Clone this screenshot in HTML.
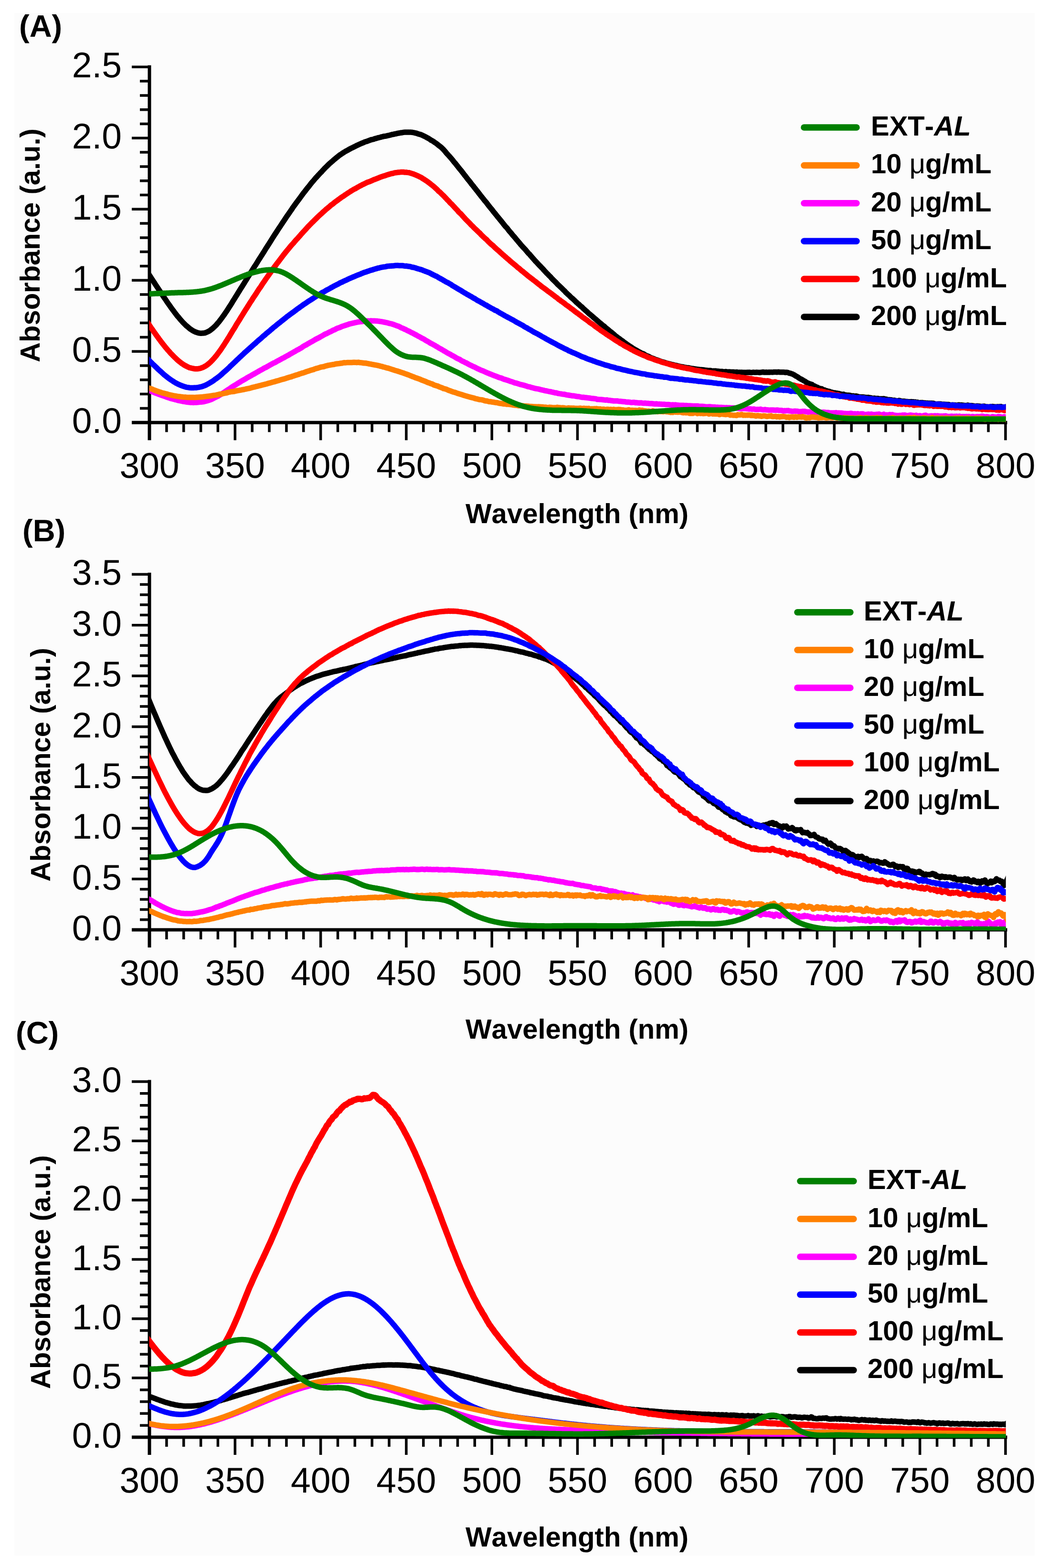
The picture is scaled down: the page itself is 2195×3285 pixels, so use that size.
<!DOCTYPE html>
<html lang="en"><head><meta charset="utf-8"><title>UV-Vis absorbance spectra</title>
<style>html,body{margin:0;padding:0;background:#fff}body{width:2195px;height:3285px;overflow:hidden}svg{display:block;font-family:"Liberation Sans",sans-serif;font-kerning:none;text-rendering:geometricPrecision}.mu{font-weight:normal}</style></head><body>
<svg width="2195" height="3285" viewBox="0 0 2195 3285">
<rect width="2195" height="3285" fill="#fff"/>
<rect x="30" y="27" width="2137" height="3232" fill="#fcfcfc"/>
<defs>
<clipPath id="clipA"><rect x="312.5" y="120.30000000000001" width="1794.2" height="766.4000000000001"/></clipPath>
<clipPath id="clipB"><rect x="312.5" y="1183.3" width="1794.2" height="766.2"/></clipPath>
<clipPath id="clipC"><rect x="312.5" y="2246.0" width="1794.2" height="766.5"/></clipPath>
</defs>
<g id="panelA">
<g stroke="#000" stroke-width="7" fill="none" stroke-linecap="butt">
<path d="M313.0,136.8V922.2"/>
<path d="M276.0,885.2H2109.5"/>
<path d="M293.0,855.4H313.0M293.0,825.6H313.0M293.0,795.8H313.0M293.0,766.0H313.0M276.0,736.2H313.0M293.0,706.4H313.0M293.0,676.6H313.0M293.0,646.8H313.0M293.0,617.0H313.0M276.0,587.2H313.0M293.0,557.4H313.0M293.0,527.6H313.0M293.0,497.9H313.0M293.0,468.1H313.0M276.0,438.3H313.0M293.0,408.5H313.0M293.0,378.7H313.0M293.0,348.9H313.0M293.0,319.1H313.0M276.0,289.3H313.0M293.0,259.5H313.0M293.0,229.7H313.0M293.0,199.9H313.0M293.0,170.1H313.0M276.0,140.3H313.0M348.9,885.2V905.2M384.7,885.2V905.2M420.6,885.2V905.2M456.4,885.2V905.2M492.3,885.2V922.2M528.2,885.2V905.2M564.0,885.2V905.2M599.9,885.2V905.2M635.7,885.2V905.2M671.6,885.2V922.2M707.5,885.2V905.2M743.3,885.2V905.2M779.2,885.2V905.2M815.0,885.2V905.2M850.9,885.2V922.2M886.8,885.2V905.2M922.6,885.2V905.2M958.5,885.2V905.2M994.3,885.2V905.2M1030.2,885.2V922.2M1066.1,885.2V905.2M1101.9,885.2V905.2M1137.8,885.2V905.2M1173.6,885.2V905.2M1209.5,885.2V922.2M1245.4,885.2V905.2M1281.2,885.2V905.2M1317.1,885.2V905.2M1352.9,885.2V905.2M1388.8,885.2V922.2M1424.7,885.2V905.2M1460.5,885.2V905.2M1496.4,885.2V905.2M1532.2,885.2V905.2M1568.1,885.2V922.2M1604.0,885.2V905.2M1639.8,885.2V905.2M1675.7,885.2V905.2M1711.5,885.2V905.2M1747.4,885.2V922.2M1783.3,885.2V905.2M1819.1,885.2V905.2M1855.0,885.2V905.2M1890.8,885.2V905.2M1926.7,885.2V922.2M1962.6,885.2V905.2M1998.4,885.2V905.2M2034.3,885.2V905.2M2070.1,885.2V905.2M2106.0,885.2V922.2" stroke-width="5.5"/>
</g>
<g fill="none" stroke-width="11.5" stroke-linejoin="round" stroke-linecap="butt" clip-path="url(#clipA)">
<path d="M305.0,564.7 313.0,576.7 315.0,579.7 317.0,582.8 319.0,585.9 321.0,588.9 323.0,591.9 325.0,595.1 327.0,598.1 329.0,601.1 331.0,604.1 333.0,607.1 335.0,610.1 337.0,613.2 339.0,616.2 341.0,619.2 343.0,622.2 345.0,625.2 347.0,628.0 349.0,631.1 351.0,634.1 353.0,636.8 355.0,639.6 357.0,642.5 359.0,645.4 361.0,648.1 363.0,650.7 365.0,653.5 367.0,656.2 369.0,658.8 371.0,661.3 373.0,663.7 375.0,665.9 377.0,668.5 379.0,670.8 381.0,673.0 383.0,675.3 385.0,677.3 387.0,679.3 389.0,681.3 391.0,683.0 393.0,684.7 395.0,686.4 397.0,688.1 399.0,689.6 401.0,690.9 403.0,692.3 405.0,693.4 407.0,694.3 409.0,695.3 411.0,696.1 413.0,696.7 415.0,697.4 417.0,697.8 419.0,698.1 421.0,698.3 423.0,698.1 425.0,698.0 427.0,697.8 429.0,697.5 431.0,696.8 433.0,696.0 435.0,695.1 437.0,694.1 439.0,693.0 441.0,691.4 443.0,689.8 445.0,688.3 447.0,686.6 449.0,684.7 451.0,682.8 453.0,680.7 455.0,678.3 457.0,676.0 459.0,673.7 461.0,671.0 463.0,668.3 465.0,665.7 467.0,662.9 469.0,660.2 471.0,657.2 473.0,654.3 475.0,651.4 477.0,648.2 479.0,645.1 481.0,641.9 483.0,639.0 485.0,635.8 487.0,632.3 489.0,629.1 491.0,626.0 493.0,622.7 495.0,619.6 497.0,616.4 499.0,613.1 501.0,609.9 503.0,606.6 505.0,603.4 507.0,600.3 509.0,597.2 511.0,594.0 513.0,590.6 515.0,587.5 517.0,584.2 519.0,580.8 521.0,577.8 523.0,574.7 525.0,571.4 527.0,568.3 529.0,565.0 531.0,561.8 533.0,558.6 535.0,555.7 537.0,552.5 539.0,549.3 541.0,545.9 543.0,542.7 545.0,539.7 547.0,536.5 549.0,533.5 551.0,530.2 553.0,527.2 555.0,523.8 557.0,520.5 559.0,517.6 561.0,514.4 563.0,511.3 565.0,508.2 567.0,504.9 569.0,501.7 571.0,498.5 573.0,495.4 575.0,492.2 577.0,489.2 579.0,486.2 581.0,483.1 583.0,480.0 585.0,477.1 587.0,474.1 589.0,471.0 591.0,468.0 593.0,464.9 595.0,462.0 597.0,459.0 599.0,455.9 601.0,452.9 603.0,450.1 605.0,447.2 607.0,444.4 609.0,441.4 611.0,438.6 613.0,435.4 615.0,432.7 617.0,429.9 619.0,427.1 621.0,424.3 623.0,421.7 625.0,419.1 627.0,416.3 629.0,413.6 631.0,410.9 633.0,408.1 635.0,405.3 637.0,402.9 639.0,400.4 641.0,397.6 643.0,395.1 645.0,392.6 647.0,390.4 649.0,387.7 651.0,385.1 653.0,382.5 655.0,380.2 657.0,378.0 659.0,375.5 661.0,373.1 663.0,371.1 665.0,368.9 667.0,366.7 669.0,364.5 671.0,362.3 673.0,360.5 675.0,358.1 677.0,356.0 679.0,353.8 681.0,351.7 683.0,349.7 685.0,347.9 687.0,345.9 689.0,343.9 691.0,342.0 693.0,340.4 695.0,338.7 697.0,336.9 699.0,335.1 701.0,333.4 703.0,331.8 705.0,330.1 707.0,328.6 709.0,326.9 711.0,325.4 713.0,323.8 715.0,322.8 717.0,321.2 719.0,320.0 721.0,318.8 723.0,317.5 725.0,316.4 727.0,315.4 729.0,314.2 731.0,313.0 733.0,312.0 735.0,310.9 737.0,309.9 739.0,309.0 741.0,308.0 743.0,307.1 745.0,306.0 747.0,304.9 749.0,304.1 751.0,303.1 753.0,302.2 755.0,301.3 757.0,300.4 759.0,299.6 761.0,298.8 763.0,297.8 765.0,297.1 767.0,296.5 769.0,295.9 771.0,295.0 773.0,294.4 775.0,293.6 777.0,292.8 779.0,292.5 781.0,292.0 783.0,291.4 785.0,290.5 787.0,290.1 789.0,289.6 791.0,288.9 793.0,288.5 795.0,288.0 797.0,287.5 799.0,286.8 801.0,286.4 803.0,285.9 805.0,285.4 807.0,285.2 809.0,284.9 811.0,284.3 813.0,283.9 815.0,283.6 817.0,283.0 819.0,282.4 821.0,281.8 823.0,281.6 825.0,281.1 827.0,280.6 829.0,280.3 831.0,279.9 833.0,279.2 835.0,279.0 837.0,278.6 839.0,278.3 841.0,278.0 843.0,277.7 845.0,277.3 847.0,277.1 849.0,277.0 851.0,276.9 853.0,276.9 855.0,277.0 857.0,276.9 859.0,277.1 861.0,277.1 863.0,277.3 865.0,277.6 867.0,277.9 869.0,278.5 871.0,278.9 873.0,279.4 875.0,280.2 877.0,280.9 879.0,281.3 881.0,281.8 883.0,282.7 885.0,283.7 887.0,284.7 889.0,285.5 891.0,286.4 893.0,287.6 895.0,288.8 897.0,289.7 899.0,291.0 901.0,292.3 903.0,293.8 905.0,294.7 907.0,295.9 909.0,297.3 911.0,298.7 913.0,300.0 915.0,301.5 917.0,303.1 919.0,304.8 921.0,306.2 923.0,307.8 925.0,309.6 927.0,311.4 929.0,313.5 931.0,315.8 933.0,318.1 935.0,320.6 937.0,322.8 939.0,325.0 941.0,327.3 943.0,329.4 945.0,331.7 947.0,334.1 949.0,336.6 951.0,339.3 953.0,341.5 955.0,343.9 957.0,346.5 959.0,349.1 961.0,351.6 963.0,354.1 965.0,356.4 967.0,358.9 969.0,361.5 971.0,364.2 973.0,366.9 975.0,369.1 977.0,371.8 979.0,374.4 981.0,377.0 983.0,379.3 985.0,381.8 987.0,384.7 989.0,387.1 991.0,389.4 993.0,392.2 995.0,394.6 997.0,397.2 999.0,399.7 1001.0,402.1 1003.0,404.9 1005.0,407.4 1007.0,410.1 1009.0,412.5 1011.0,415.0 1013.0,417.6 1015.0,420.2 1017.0,422.4 1019.0,424.8 1021.0,427.4 1023.0,430.2 1025.0,432.7 1027.0,435.1 1029.0,437.5 1031.0,439.9 1033.0,442.7 1035.0,445.1 1037.0,447.5 1039.0,450.0 1041.0,452.6 1043.0,455.0 1045.0,457.4 1047.0,459.9 1049.0,462.3 1051.0,464.7 1053.0,467.3 1055.0,469.8 1057.0,472.3 1059.0,474.8 1061.0,476.8 1063.0,479.1 1065.0,481.8 1067.0,484.4 1069.0,486.6 1071.0,488.8 1073.0,491.6 1075.0,493.9 1077.0,496.0 1079.0,498.4 1081.0,500.9 1083.0,503.2 1085.0,505.6 1087.0,508.0 1089.0,510.3 1091.0,512.8 1093.0,515.0 1095.0,517.4 1097.0,519.4 1099.0,521.5 1101.0,523.7 1103.0,526.1 1105.0,528.6 1107.0,530.9 1109.0,532.6 1111.0,535.2 1113.0,537.4 1115.0,539.8 1117.0,541.9 1119.0,544.2 1121.0,546.6 1123.0,548.6 1125.0,550.7 1127.0,553.0 1129.0,555.1 1131.0,557.1 1133.0,559.1 1135.0,561.3 1137.0,563.3 1139.0,565.7 1141.0,567.9 1143.0,570.0 1145.0,572.2 1147.0,574.0 1149.0,576.2 1151.0,578.2 1153.0,580.1 1155.0,582.4 1157.0,584.6 1159.0,586.6 1161.0,588.5 1163.0,590.5 1165.0,592.4 1167.0,594.7 1169.0,596.8 1171.0,598.6 1173.0,600.4 1175.0,602.3 1177.0,604.3 1179.0,606.3 1181.0,608.3 1183.0,610.1 1185.0,612.4 1187.0,614.2 1189.0,616.2 1191.0,618.0 1193.0,619.8 1195.0,622.0 1197.0,623.8 1199.0,625.3 1201.0,627.3 1203.0,629.1 1205.0,631.0 1207.0,633.2 1209.0,634.7 1211.0,636.7 1213.0,638.2 1215.0,640.3 1217.0,641.9 1219.0,643.4 1221.0,645.6 1223.0,647.4 1225.0,649.1 1227.0,651.0 1229.0,652.5 1231.0,654.6 1233.0,656.4 1235.0,658.2 1237.0,659.7 1239.0,661.5 1241.0,663.1 1243.0,665.0 1245.0,666.7 1247.0,668.4 1249.0,669.9 1251.0,671.8 1253.0,673.5 1255.0,675.4 1257.0,676.8 1259.0,678.5 1261.0,680.3 1263.0,681.9 1265.0,683.1 1267.0,685.1 1269.0,687.0 1271.0,688.5 1273.0,689.9 1275.0,691.7 1277.0,693.5 1279.0,695.0 1281.0,696.7 1283.0,698.2 1285.0,700.0 1287.0,701.7 1289.0,703.6 1291.0,705.0 1293.0,706.6 1295.0,708.0 1297.0,709.3 1299.0,710.9 1301.0,712.6 1303.0,713.8 1305.0,715.2 1307.0,717.0 1309.0,718.3 1311.0,719.7 1313.0,721.4 1315.0,722.5 1317.0,724.0 1319.0,725.3 1321.0,726.6 1323.0,727.9 1325.0,729.4 1327.0,730.6 1329.0,731.6 1331.0,733.0 1333.0,734.0 1335.0,735.1 1337.0,736.4 1339.0,737.3 1341.0,738.3 1343.0,739.7 1345.0,740.5 1347.0,741.1 1349.0,742.0 1351.0,743.5 1353.0,744.6 1355.0,745.7 1357.0,746.2 1359.0,747.0 1361.0,748.2 1363.0,749.3 1365.0,750.1 1367.0,750.7 1369.0,751.4 1371.0,752.3 1373.0,753.3 1375.0,753.8 1377.0,754.4 1379.0,755.3 1381.0,756.0 1383.0,756.7 1385.0,757.7 1387.0,758.1 1389.0,758.6 1391.0,759.1 1393.0,759.8 1395.0,760.5 1397.0,761.1 1399.0,761.4 1401.0,762.0 1403.0,762.5 1405.0,763.0 1407.0,763.8 1409.0,764.0 1411.0,764.7 1413.0,765.2 1415.0,765.4 1417.0,765.8 1419.0,766.4 1421.0,767.0 1423.0,767.4 1425.0,767.8 1427.0,768.3 1429.0,768.4 1431.0,768.8 1433.0,769.3 1435.0,769.7 1437.0,770.2 1439.0,770.5 1441.0,770.4 1443.0,770.6 1445.0,771.3 1447.0,771.6 1449.0,771.9 1451.0,772.1 1453.0,772.6 1455.0,772.8 1457.0,773.2 1459.0,773.6 1461.0,773.7 1463.0,773.9 1465.0,774.1 1467.0,774.8 1469.0,774.5 1471.0,774.9 1473.0,774.8 1475.0,775.2 1477.0,775.7 1479.0,775.7 1481.0,776.1 1483.0,776.2 1485.0,776.5 1487.0,776.3 1489.0,776.5 1491.0,777.2 1493.0,777.2 1495.0,777.1 1497.0,777.2 1499.0,777.0 1501.0,777.5 1503.0,777.6 1505.0,777.8 1507.0,778.4 1509.0,778.2 1511.0,778.2 1513.0,778.3 1515.0,778.8 1517.0,778.9 1519.0,778.6 1521.0,778.6 1523.0,778.9 1525.0,779.1 1527.0,778.9 1529.0,779.4 1531.0,779.3 1533.0,779.4 1535.0,779.3 1537.0,779.5 1539.0,779.8 1541.0,779.7 1543.0,779.5 1545.0,779.9 1547.0,780.1 1549.0,780.0 1551.0,780.2 1553.0,779.9 1555.0,780.2 1557.0,780.2 1559.0,780.2 1561.0,780.5 1563.0,780.3 1565.0,780.1 1567.0,780.2 1569.0,780.0 1571.0,780.3 1573.0,780.6 1575.0,780.5 1577.0,780.0 1579.0,780.1 1581.0,780.3 1583.0,780.2 1585.0,779.9 1587.0,780.1 1589.0,780.3 1591.0,780.5 1593.0,780.2 1595.0,779.9 1597.0,779.6 1599.0,779.6 1601.0,780.1 1603.0,779.9 1605.0,779.8 1607.0,780.1 1609.0,780.0 1611.0,779.8 1613.0,779.9 1615.0,779.7 1617.0,779.9 1619.0,779.8 1621.0,779.5 1623.0,779.4 1625.0,779.4 1627.0,779.8 1629.0,779.5 1631.0,779.3 1633.0,779.7 1635.0,779.8 1637.0,779.7 1639.0,779.8 1641.0,779.7 1643.0,779.9 1645.0,780.4 1647.0,780.1 1649.0,780.2 1651.0,780.8 1653.0,781.8 1655.0,782.0 1657.0,782.7 1659.0,783.4 1661.0,784.2 1663.0,785.3 1665.0,786.5 1667.0,788.1 1669.0,788.7 1671.0,790.0 1673.0,791.7 1675.0,792.8 1677.0,793.8 1679.0,795.0 1681.0,796.0 1683.0,797.4 1685.0,798.4 1687.0,799.4 1689.0,801.2 1691.0,802.0 1693.0,803.1 1695.0,803.8 1697.0,804.4 1699.0,805.1 1701.0,805.8 1703.0,807.8 1705.0,808.3 1707.0,809.5 1709.0,810.5 1711.0,811.0 1713.0,812.1 1715.0,813.2 1717.0,813.9 1719.0,814.7 1721.0,814.5 1723.0,816.2 1725.0,817.0 1727.0,817.1 1729.0,818.2 1731.0,818.6 1733.0,819.2 1735.0,819.9 1737.0,820.0 1739.0,821.1 1741.0,821.4 1743.0,822.2 1745.0,822.5 1747.0,823.0 1749.0,823.1 1751.0,823.7 1753.0,823.8 1755.0,824.2 1757.0,824.5 1759.0,825.2 1761.0,825.6 1763.0,826.9 1765.0,826.2 1767.0,826.0 1769.0,827.3 1771.0,827.4 1773.0,827.9 1775.0,828.0 1777.0,828.0 1779.0,828.2 1781.0,828.5 1783.0,829.6 1785.0,829.6 1787.0,829.2 1789.0,830.1 1791.0,830.2 1793.0,829.7 1795.0,830.1 1797.0,830.8 1799.0,831.3 1801.0,831.9 1803.0,831.6 1805.0,831.9 1807.0,831.7 1809.0,831.9 1811.0,832.2 1813.0,832.4 1815.0,832.7 1817.0,832.8 1819.0,832.5 1821.0,833.3 1823.0,833.2 1825.0,834.0 1827.0,834.3 1829.0,834.4 1831.0,834.2 1833.0,834.7 1835.0,835.0 1837.0,834.7 1839.0,834.7 1841.0,835.9 1843.0,835.6 1845.0,835.5 1847.0,835.5 1849.0,835.4 1851.0,835.2 1853.0,835.9 1855.0,836.2 1857.0,836.7 1859.0,837.8 1861.0,837.5 1863.0,837.4 1865.0,837.7 1867.0,837.8 1869.0,838.7 1871.0,838.9 1873.0,838.5 1875.0,839.1 1877.0,839.5 1879.0,840.3 1881.0,839.9 1883.0,839.1 1885.0,839.5 1887.0,840.2 1889.0,840.4 1891.0,840.8 1893.0,840.5 1895.0,840.8 1897.0,841.4 1899.0,841.3 1901.0,841.4 1903.0,842.2 1905.0,841.7 1907.0,841.7 1909.0,841.6 1911.0,842.0 1913.0,841.7 1915.0,842.7 1917.0,842.0 1919.0,842.8 1921.0,842.7 1923.0,843.2 1925.0,843.8 1927.0,843.6 1929.0,843.7 1931.0,843.5 1933.0,843.8 1935.0,844.4 1937.0,844.1 1939.0,844.6 1941.0,844.6 1943.0,844.6 1945.0,845.0 1947.0,844.7 1949.0,845.0 1951.0,844.8 1953.0,845.1 1955.0,845.1 1957.0,845.7 1959.0,846.3 1961.0,846.4 1963.0,846.4 1965.0,846.3 1967.0,846.2 1969.0,846.3 1971.0,846.4 1973.0,847.5 1975.0,847.0 1977.0,847.0 1979.0,847.2 1981.0,847.2 1983.0,847.9 1985.0,847.4 1987.0,847.4 1989.0,848.5 1991.0,848.6 1993.0,848.4 1995.0,848.2 1997.0,848.8 1999.0,848.5 2001.0,848.7 2003.0,849.1 2005.0,848.9 2007.0,848.5 2009.0,848.2 2011.0,849.1 2013.0,848.4 2015.0,848.8 2017.0,848.9 2019.0,849.2 2021.0,849.4 2023.0,849.8 2025.0,849.4 2027.0,848.8 2029.0,849.6 2031.0,849.6 2033.0,849.8 2035.0,849.7 2037.0,850.1 2039.0,850.3 2041.0,850.8 2043.0,850.9 2045.0,850.9 2047.0,850.4 2049.0,851.2 2051.0,850.9 2053.0,851.2 2055.0,851.4 2057.0,851.5 2059.0,851.1 2061.0,850.9 2063.0,851.7 2065.0,852.1 2067.0,852.2 2069.0,852.3 2071.0,852.4 2073.0,852.2 2075.0,851.8 2077.0,852.1 2079.0,851.6 2081.0,851.9 2083.0,852.2 2085.0,852.5 2087.0,852.2 2089.0,852.1 2091.0,852.1 2093.0,852.4 2095.0,851.7 2097.0,851.7 2099.0,853.0 2101.0,853.2 2103.0,853.0 2105.0,852.8 2106.0,852.5 2114.0,850.1" stroke="#000000"/>
<path d="M305.0,669.2 313.0,681.5 315.0,684.5 317.0,687.4 319.0,690.2 321.0,693.0 323.0,695.9 325.0,698.8 327.0,701.6 329.0,704.4 331.0,707.0 333.0,710.0 335.0,712.6 337.0,715.3 339.0,717.8 341.0,720.4 343.0,723.0 345.0,725.6 347.0,728.0 349.0,730.4 351.0,732.8 353.0,735.0 355.0,737.2 357.0,739.6 359.0,741.7 361.0,743.6 363.0,745.8 365.0,747.8 367.0,749.7 369.0,751.6 371.0,753.5 373.0,755.4 375.0,756.9 377.0,758.5 379.0,760.1 381.0,761.6 383.0,762.9 385.0,764.3 387.0,765.5 389.0,766.5 391.0,767.5 393.0,768.6 395.0,769.5 397.0,770.3 399.0,770.7 401.0,771.3 403.0,771.7 405.0,772.1 407.0,772.5 409.0,772.7 411.0,772.7 413.0,772.8 415.0,772.6 417.0,772.2 419.0,771.8 421.0,771.2 423.0,770.4 425.0,769.7 427.0,768.8 429.0,767.5 431.0,766.5 433.0,765.2 435.0,763.7 437.0,762.0 439.0,760.3 441.0,758.5 443.0,756.4 445.0,754.4 447.0,752.2 449.0,749.9 451.0,747.5 453.0,745.2 455.0,742.6 457.0,739.9 459.0,737.2 461.0,734.5 463.0,731.7 465.0,728.5 467.0,725.7 469.0,722.6 471.0,719.5 473.0,716.3 475.0,713.3 477.0,709.9 479.0,706.8 481.0,703.6 483.0,700.1 485.0,696.9 487.0,693.5 489.0,690.4 491.0,687.3 493.0,684.0 495.0,680.3 497.0,677.1 499.0,674.0 501.0,670.9 503.0,667.5 505.0,664.1 507.0,661.0 509.0,657.8 511.0,654.5 513.0,651.3 515.0,648.2 517.0,645.1 519.0,641.9 521.0,638.7 523.0,635.4 525.0,632.4 527.0,629.5 529.0,626.2 531.0,623.1 533.0,620.2 535.0,617.2 537.0,614.3 539.0,611.0 541.0,607.9 543.0,604.8 545.0,602.2 547.0,599.3 549.0,596.0 551.0,593.1 553.0,590.2 555.0,587.2 557.0,584.3 559.0,581.5 561.0,578.7 563.0,575.9 565.0,573.0 567.0,570.3 569.0,567.3 571.0,564.6 573.0,561.6 575.0,558.9 577.0,556.4 579.0,553.6 581.0,551.0 583.0,548.4 585.0,545.8 587.0,543.1 589.0,540.5 591.0,537.8 593.0,535.1 595.0,532.6 597.0,530.1 599.0,527.5 601.0,525.1 603.0,522.8 605.0,520.4 607.0,517.9 609.0,515.4 611.0,513.2 613.0,511.0 615.0,508.8 617.0,506.4 619.0,504.0 621.0,501.7 623.0,499.7 625.0,497.4 627.0,495.3 629.0,493.0 631.0,490.5 633.0,488.4 635.0,486.2 637.0,484.0 639.0,481.8 641.0,479.6 643.0,477.4 645.0,475.1 647.0,473.1 649.0,471.0 651.0,469.0 653.0,466.9 655.0,465.0 657.0,463.1 659.0,461.0 661.0,459.1 663.0,457.1 665.0,455.1 667.0,453.2 669.0,451.3 671.0,449.5 673.0,447.7 675.0,445.9 677.0,443.9 679.0,442.3 681.0,440.4 683.0,438.6 685.0,437.0 687.0,435.3 689.0,433.7 691.0,431.9 693.0,430.2 695.0,428.7 697.0,427.3 699.0,425.6 701.0,423.9 703.0,422.5 705.0,420.9 707.0,419.7 709.0,418.0 711.0,416.7 713.0,415.2 715.0,413.6 717.0,412.4 719.0,411.1 721.0,409.7 723.0,408.3 725.0,407.0 727.0,405.6 729.0,404.3 731.0,403.0 733.0,401.7 735.0,400.4 737.0,399.3 739.0,398.0 741.0,396.7 743.0,395.8 745.0,394.8 747.0,393.6 749.0,392.3 751.0,391.3 753.0,390.2 755.0,389.2 757.0,388.1 759.0,386.9 761.0,386.1 763.0,385.1 765.0,384.1 767.0,383.1 769.0,382.2 771.0,381.4 773.0,380.8 775.0,380.1 777.0,379.1 779.0,378.3 781.0,377.3 783.0,376.3 785.0,375.8 787.0,375.1 789.0,374.2 791.0,373.5 793.0,372.7 795.0,371.8 797.0,370.9 799.0,370.3 801.0,369.6 803.0,368.9 805.0,368.4 807.0,367.8 809.0,366.9 811.0,366.3 813.0,365.7 815.0,365.1 817.0,364.6 819.0,363.9 821.0,363.5 823.0,363.2 825.0,362.6 827.0,362.0 829.0,361.8 831.0,361.6 833.0,361.2 835.0,360.9 837.0,360.9 839.0,360.6 841.0,360.6 843.0,360.6 845.0,360.5 847.0,360.9 849.0,360.9 851.0,361.0 853.0,361.4 855.0,361.6 857.0,361.8 859.0,362.4 861.0,363.1 863.0,363.7 865.0,364.3 867.0,365.0 869.0,365.8 871.0,366.6 873.0,367.6 875.0,368.4 877.0,369.4 879.0,370.4 881.0,371.3 883.0,372.4 885.0,373.9 887.0,375.0 889.0,376.2 891.0,377.6 893.0,378.9 895.0,380.3 897.0,381.7 899.0,383.3 901.0,384.7 903.0,386.5 905.0,388.0 907.0,389.5 909.0,391.3 911.0,393.1 913.0,394.9 915.0,396.6 917.0,398.7 919.0,401.0 921.0,402.3 923.0,404.3 925.0,406.3 927.0,408.2 929.0,410.0 931.0,412.1 933.0,414.3 935.0,416.4 937.0,418.6 939.0,420.5 941.0,422.7 943.0,425.1 945.0,426.8 947.0,428.8 949.0,431.0 951.0,433.2 953.0,435.4 955.0,437.5 957.0,439.5 959.0,441.8 961.0,444.3 963.0,446.2 965.0,447.8 967.0,450.1 969.0,452.3 971.0,454.6 973.0,456.7 975.0,459.0 977.0,461.0 979.0,463.0 981.0,465.0 983.0,467.0 985.0,469.1 987.0,471.3 989.0,473.2 991.0,475.1 993.0,477.3 995.0,479.2 997.0,481.0 999.0,482.9 1001.0,484.9 1003.0,486.8 1005.0,488.5 1007.0,490.9 1009.0,492.9 1011.0,494.7 1013.0,496.8 1015.0,498.6 1017.0,500.4 1019.0,501.9 1021.0,504.1 1023.0,506.2 1025.0,508.2 1027.0,510.1 1029.0,511.8 1031.0,513.3 1033.0,515.0 1035.0,517.1 1037.0,519.0 1039.0,520.9 1041.0,522.6 1043.0,524.3 1045.0,525.9 1047.0,527.9 1049.0,529.7 1051.0,531.5 1053.0,533.3 1055.0,535.0 1057.0,536.8 1059.0,538.5 1061.0,540.4 1063.0,542.1 1065.0,543.6 1067.0,545.4 1069.0,547.4 1071.0,548.9 1073.0,550.7 1075.0,552.3 1077.0,553.9 1079.0,555.5 1081.0,557.3 1083.0,559.1 1085.0,560.8 1087.0,562.2 1089.0,563.9 1091.0,565.7 1093.0,567.5 1095.0,568.7 1097.0,570.6 1099.0,572.2 1101.0,573.9 1103.0,575.4 1105.0,577.2 1107.0,578.9 1109.0,580.3 1111.0,581.9 1113.0,583.4 1115.0,584.8 1117.0,586.5 1119.0,588.0 1121.0,589.5 1123.0,591.1 1125.0,592.7 1127.0,594.3 1129.0,595.8 1131.0,597.3 1133.0,599.1 1135.0,600.6 1137.0,602.1 1139.0,603.5 1141.0,604.9 1143.0,606.4 1145.0,607.9 1147.0,609.6 1149.0,611.0 1151.0,612.3 1153.0,613.9 1155.0,615.3 1157.0,616.9 1159.0,618.3 1161.0,619.8 1163.0,621.5 1165.0,622.9 1167.0,624.3 1169.0,626.1 1171.0,627.8 1173.0,628.9 1175.0,630.7 1177.0,631.9 1179.0,633.3 1181.0,634.8 1183.0,636.2 1185.0,638.1 1187.0,639.5 1189.0,640.8 1191.0,642.2 1193.0,643.6 1195.0,645.3 1197.0,646.9 1199.0,648.1 1201.0,649.7 1203.0,651.3 1205.0,653.0 1207.0,654.5 1209.0,655.7 1211.0,657.1 1213.0,658.8 1215.0,660.2 1217.0,661.7 1219.0,663.4 1221.0,665.0 1223.0,666.3 1225.0,667.7 1227.0,669.2 1229.0,670.3 1231.0,672.0 1233.0,673.5 1235.0,675.4 1237.0,676.7 1239.0,678.0 1241.0,679.3 1243.0,680.5 1245.0,682.5 1247.0,684.1 1249.0,685.2 1251.0,686.8 1253.0,688.2 1255.0,689.4 1257.0,691.1 1259.0,692.7 1261.0,693.9 1263.0,695.2 1265.0,696.7 1267.0,697.8 1269.0,699.4 1271.0,700.9 1273.0,702.0 1275.0,703.5 1277.0,704.7 1279.0,705.8 1281.0,707.3 1283.0,708.6 1285.0,710.0 1287.0,711.2 1289.0,712.8 1291.0,713.8 1293.0,715.2 1295.0,716.3 1297.0,717.6 1299.0,719.1 1301.0,720.2 1303.0,721.2 1305.0,722.3 1307.0,723.9 1309.0,725.0 1311.0,726.0 1313.0,727.1 1315.0,728.0 1317.0,729.1 1319.0,730.3 1321.0,731.5 1323.0,732.6 1325.0,733.5 1327.0,734.8 1329.0,735.8 1331.0,736.7 1333.0,737.8 1335.0,738.6 1337.0,739.5 1339.0,740.5 1341.0,741.4 1343.0,742.4 1345.0,743.0 1347.0,744.2 1349.0,744.8 1351.0,745.6 1353.0,746.4 1355.0,747.5 1357.0,748.5 1359.0,749.3 1361.0,749.9 1363.0,750.3 1365.0,751.1 1367.0,751.9 1369.0,752.6 1371.0,753.6 1373.0,754.2 1375.0,754.9 1377.0,755.6 1379.0,756.0 1381.0,756.6 1383.0,757.3 1385.0,758.2 1387.0,758.9 1389.0,759.5 1391.0,760.1 1393.0,760.4 1395.0,761.0 1397.0,761.7 1399.0,762.1 1401.0,762.8 1403.0,763.6 1405.0,764.2 1407.0,764.7 1409.0,765.0 1411.0,765.5 1413.0,766.2 1415.0,766.5 1417.0,767.1 1419.0,767.7 1421.0,767.9 1423.0,768.3 1425.0,768.9 1427.0,769.5 1429.0,769.9 1431.0,770.3 1433.0,770.8 1435.0,770.8 1437.0,771.4 1439.0,772.0 1441.0,772.2 1443.0,772.5 1445.0,772.9 1447.0,773.4 1449.0,773.9 1451.0,774.3 1453.0,774.9 1455.0,775.5 1457.0,775.7 1459.0,776.2 1461.0,776.4 1463.0,776.5 1465.0,777.0 1467.0,777.3 1469.0,777.9 1471.0,778.1 1473.0,778.8 1475.0,779.0 1477.0,778.9 1479.0,779.7 1481.0,780.2 1483.0,780.2 1485.0,780.7 1487.0,780.7 1489.0,781.2 1491.0,781.3 1493.0,781.9 1495.0,781.8 1497.0,782.0 1499.0,782.9 1501.0,783.6 1503.0,783.5 1505.0,784.0 1507.0,784.2 1509.0,784.4 1511.0,784.9 1513.0,785.3 1515.0,785.2 1517.0,785.7 1519.0,786.0 1521.0,786.0 1523.0,786.9 1525.0,787.3 1527.0,787.1 1529.0,787.8 1531.0,787.8 1533.0,788.0 1535.0,788.6 1537.0,788.7 1539.0,789.0 1541.0,789.6 1543.0,789.9 1545.0,789.9 1547.0,789.6 1549.0,789.9 1551.0,790.7 1553.0,790.7 1555.0,791.0 1557.0,791.1 1559.0,791.5 1561.0,791.7 1563.0,792.5 1565.0,792.3 1567.0,792.7 1569.0,793.1 1571.0,793.6 1573.0,793.3 1575.0,793.8 1577.0,794.2 1579.0,794.6 1581.0,794.9 1583.0,794.9 1585.0,795.3 1587.0,795.5 1589.0,796.0 1591.0,796.1 1593.0,796.3 1595.0,796.7 1597.0,797.3 1599.0,798.0 1601.0,797.6 1603.0,798.1 1605.0,798.6 1607.0,797.8 1609.0,798.0 1611.0,798.6 1613.0,799.5 1615.0,800.6 1617.0,800.4 1619.0,800.7 1621.0,800.5 1623.0,799.9 1625.0,800.3 1627.0,801.8 1629.0,801.9 1631.0,801.8 1633.0,802.7 1635.0,802.5 1637.0,803.6 1639.0,804.1 1641.0,803.6 1643.0,803.8 1645.0,804.7 1647.0,804.6 1649.0,805.3 1651.0,805.2 1653.0,806.1 1655.0,806.3 1657.0,806.4 1659.0,806.6 1661.0,807.2 1663.0,806.9 1665.0,807.8 1667.0,808.3 1669.0,809.0 1671.0,808.9 1673.0,810.2 1675.0,809.9 1677.0,810.0 1679.0,811.4 1681.0,812.0 1683.0,811.6 1685.0,811.6 1687.0,812.3 1689.0,812.5 1691.0,813.2 1693.0,814.4 1695.0,814.5 1697.0,814.7 1699.0,815.2 1701.0,815.5 1703.0,816.4 1705.0,816.8 1707.0,816.7 1709.0,817.5 1711.0,818.9 1713.0,818.6 1715.0,818.8 1717.0,820.0 1719.0,819.6 1721.0,819.6 1723.0,820.6 1725.0,820.6 1727.0,821.1 1729.0,822.0 1731.0,822.2 1733.0,822.4 1735.0,822.9 1737.0,823.5 1739.0,824.6 1741.0,824.4 1743.0,825.0 1745.0,826.4 1747.0,826.2 1749.0,827.3 1751.0,827.7 1753.0,827.4 1755.0,827.3 1757.0,828.5 1759.0,829.2 1761.0,829.7 1763.0,829.9 1765.0,830.8 1767.0,831.2 1769.0,830.8 1771.0,832.0 1773.0,832.0 1775.0,832.0 1777.0,832.6 1779.0,834.0 1781.0,833.9 1783.0,833.2 1785.0,834.1 1787.0,834.6 1789.0,834.9 1791.0,835.0 1793.0,835.2 1795.0,836.3 1797.0,836.1 1799.0,836.5 1801.0,836.8 1803.0,837.2 1805.0,838.2 1807.0,838.4 1809.0,838.1 1811.0,838.3 1813.0,838.9 1815.0,839.8 1817.0,839.8 1819.0,840.0 1821.0,840.1 1823.0,840.4 1825.0,840.6 1827.0,840.3 1829.0,841.7 1831.0,841.2 1833.0,841.5 1835.0,842.5 1837.0,842.4 1839.0,842.3 1841.0,842.1 1843.0,842.0 1845.0,843.0 1847.0,843.6 1849.0,843.2 1851.0,843.9 1853.0,843.3 1855.0,843.5 1857.0,844.2 1859.0,844.3 1861.0,844.6 1863.0,844.2 1865.0,844.0 1867.0,843.8 1869.0,844.2 1871.0,844.4 1873.0,844.5 1875.0,845.3 1877.0,845.1 1879.0,845.0 1881.0,846.7 1883.0,845.7 1885.0,845.5 1887.0,846.7 1889.0,846.9 1891.0,845.9 1893.0,845.7 1895.0,846.2 1897.0,847.2 1899.0,846.8 1901.0,846.6 1903.0,847.2 1905.0,847.7 1907.0,846.8 1909.0,847.0 1911.0,847.1 1913.0,848.7 1915.0,849.0 1917.0,848.5 1919.0,848.2 1921.0,848.3 1923.0,847.4 1925.0,848.2 1927.0,847.8 1929.0,847.8 1931.0,848.3 1933.0,848.7 1935.0,849.3 1937.0,849.5 1939.0,849.4 1941.0,849.0 1943.0,849.7 1945.0,849.8 1947.0,850.2 1949.0,849.3 1951.0,848.6 1953.0,849.9 1955.0,851.3 1957.0,850.8 1959.0,850.6 1961.0,851.1 1963.0,851.2 1965.0,851.2 1967.0,850.9 1969.0,851.2 1971.0,851.4 1973.0,851.1 1975.0,851.1 1977.0,851.8 1979.0,852.4 1981.0,852.5 1983.0,852.5 1985.0,852.9 1987.0,853.7 1989.0,853.1 1991.0,853.4 1993.0,853.9 1995.0,853.3 1997.0,853.4 1999.0,854.0 2001.0,854.3 2003.0,853.9 2005.0,853.9 2007.0,853.8 2009.0,853.5 2011.0,854.5 2013.0,854.1 2015.0,853.6 2017.0,854.1 2019.0,853.7 2021.0,854.1 2023.0,854.7 2025.0,854.7 2027.0,855.4 2029.0,854.8 2031.0,855.5 2033.0,856.0 2035.0,856.5 2037.0,856.4 2039.0,856.1 2041.0,856.1 2043.0,856.3 2045.0,856.7 2047.0,856.3 2049.0,856.7 2051.0,856.7 2053.0,856.8 2055.0,857.0 2057.0,857.9 2059.0,857.0 2061.0,857.3 2063.0,857.5 2065.0,857.8 2067.0,857.8 2069.0,858.0 2071.0,858.1 2073.0,857.2 2075.0,857.7 2077.0,857.5 2079.0,858.0 2081.0,857.6 2083.0,857.7 2085.0,858.4 2087.0,859.1 2089.0,859.0 2091.0,858.9 2093.0,859.3 2095.0,858.3 2097.0,857.8 2099.0,858.5 2101.0,858.9 2103.0,859.8 2105.0,860.1 2106.0,858.8 2114.0,848.1" stroke="#ff0000"/>
<path d="M305.0,747.2 313.0,755.6 315.0,757.7 317.0,759.7 319.0,761.8 321.0,763.8 323.0,765.5 325.0,767.5 327.0,769.4 329.0,771.4 331.0,773.4 333.0,775.2 335.0,777.0 337.0,778.7 339.0,780.6 341.0,782.4 343.0,784.3 345.0,786.0 347.0,787.6 349.0,789.1 351.0,790.7 353.0,792.3 355.0,793.7 357.0,795.1 359.0,796.5 361.0,797.8 363.0,799.1 365.0,800.4 367.0,801.6 369.0,802.8 371.0,803.7 373.0,804.9 375.0,805.7 377.0,806.6 379.0,807.4 381.0,808.2 383.0,809.0 385.0,809.6 387.0,810.2 389.0,810.8 391.0,811.4 393.0,811.6 395.0,811.9 397.0,812.2 399.0,812.4 401.0,812.5 403.0,812.6 405.0,812.5 407.0,812.3 409.0,812.3 411.0,812.2 413.0,811.9 415.0,811.6 417.0,811.3 419.0,810.7 421.0,810.4 423.0,809.9 425.0,809.2 427.0,808.4 429.0,807.7 431.0,806.9 433.0,805.8 435.0,804.7 437.0,803.7 439.0,802.4 441.0,801.2 443.0,800.0 445.0,798.9 447.0,797.5 449.0,795.9 451.0,794.4 453.0,793.1 455.0,791.6 457.0,790.1 459.0,788.6 461.0,787.0 463.0,785.2 465.0,783.5 467.0,781.5 469.0,779.7 471.0,778.1 473.0,776.4 475.0,774.5 477.0,772.7 479.0,770.8 481.0,768.9 483.0,766.7 485.0,764.9 487.0,763.1 489.0,761.2 491.0,759.2 493.0,757.4 495.0,755.4 497.0,753.5 499.0,751.7 501.0,749.8 503.0,747.8 505.0,746.1 507.0,744.2 509.0,742.3 511.0,740.4 513.0,738.4 515.0,736.8 517.0,735.0 519.0,733.1 521.0,731.4 523.0,729.6 525.0,727.8 527.0,726.1 529.0,724.2 531.0,722.4 533.0,720.7 535.0,719.1 537.0,717.1 539.0,715.3 541.0,713.4 543.0,711.9 545.0,710.2 547.0,708.4 549.0,706.6 551.0,704.7 553.0,703.2 555.0,701.5 557.0,699.6 559.0,697.8 561.0,696.3 563.0,694.6 565.0,693.1 567.0,691.2 569.0,689.5 571.0,687.8 573.0,686.0 575.0,684.5 577.0,683.1 579.0,681.3 581.0,679.5 583.0,677.9 585.0,676.5 587.0,674.9 589.0,673.2 591.0,671.6 593.0,670.1 595.0,668.5 597.0,666.8 599.0,665.3 601.0,663.5 603.0,662.1 605.0,660.7 607.0,659.2 609.0,657.6 611.0,656.2 613.0,654.8 615.0,653.3 617.0,651.8 619.0,650.4 621.0,648.8 623.0,647.2 625.0,645.9 627.0,644.6 629.0,643.0 631.0,641.6 633.0,640.2 635.0,638.7 637.0,637.3 639.0,636.1 641.0,634.8 643.0,633.4 645.0,631.9 647.0,630.6 649.0,629.4 651.0,628.2 653.0,626.9 655.0,625.6 657.0,624.3 659.0,623.0 661.0,621.6 663.0,620.4 665.0,619.0 667.0,617.6 669.0,616.5 671.0,615.7 673.0,614.2 675.0,612.8 677.0,611.9 679.0,611.0 681.0,609.7 683.0,608.5 685.0,607.3 687.0,606.3 689.0,605.3 691.0,604.2 693.0,603.0 695.0,602.0 697.0,600.9 699.0,599.7 701.0,598.7 703.0,597.7 705.0,596.6 707.0,595.7 709.0,594.6 711.0,593.5 713.0,592.3 715.0,591.5 717.0,590.8 719.0,589.6 721.0,588.7 723.0,587.8 725.0,586.9 727.0,586.0 729.0,584.9 731.0,584.0 733.0,583.2 735.0,582.3 737.0,581.4 739.0,580.5 741.0,579.8 743.0,579.0 745.0,578.1 747.0,577.1 749.0,576.4 751.0,575.6 753.0,574.9 755.0,574.2 757.0,573.2 759.0,572.4 761.0,571.5 763.0,570.8 765.0,570.2 767.0,569.7 769.0,568.8 771.0,568.1 773.0,567.6 775.0,566.7 777.0,566.2 779.0,565.7 781.0,565.0 783.0,564.3 785.0,563.7 787.0,563.1 789.0,562.6 791.0,561.8 793.0,561.5 795.0,561.1 797.0,560.5 799.0,559.9 801.0,559.7 803.0,559.3 805.0,559.1 807.0,558.9 809.0,558.3 811.0,557.8 813.0,557.6 815.0,557.4 817.0,557.3 819.0,557.3 821.0,557.0 823.0,557.0 825.0,556.8 827.0,556.5 829.0,556.3 831.0,556.3 833.0,556.1 835.0,556.4 837.0,556.4 839.0,556.6 841.0,556.5 843.0,556.4 845.0,556.8 847.0,557.2 849.0,557.4 851.0,557.3 853.0,557.6 855.0,558.0 857.0,558.2 859.0,558.5 861.0,559.1 863.0,559.9 865.0,560.0 867.0,560.4 869.0,561.0 871.0,561.6 873.0,562.4 875.0,562.9 877.0,563.5 879.0,564.0 881.0,564.7 883.0,565.2 885.0,565.9 887.0,567.0 889.0,567.5 891.0,568.4 893.0,569.0 895.0,569.8 897.0,570.6 899.0,571.3 901.0,572.4 903.0,573.5 905.0,574.5 907.0,575.5 909.0,576.6 911.0,577.5 913.0,578.4 915.0,579.2 917.0,580.5 919.0,581.9 921.0,582.8 923.0,584.0 925.0,585.0 927.0,586.1 929.0,587.5 931.0,588.5 933.0,589.8 935.0,590.8 937.0,591.8 939.0,592.7 941.0,594.1 943.0,595.1 945.0,596.3 947.0,597.9 949.0,599.1 951.0,600.3 953.0,601.4 955.0,602.6 957.0,603.9 959.0,605.0 961.0,606.2 963.0,607.4 965.0,608.3 967.0,609.8 969.0,611.0 971.0,612.3 973.0,613.6 975.0,614.5 977.0,615.9 979.0,617.1 981.0,618.0 983.0,619.2 985.0,620.4 987.0,621.3 989.0,622.7 991.0,624.0 993.0,625.0 995.0,626.0 997.0,627.4 999.0,628.8 1001.0,629.9 1003.0,630.8 1005.0,631.9 1007.0,633.1 1009.0,634.2 1011.0,635.3 1013.0,636.5 1015.0,637.8 1017.0,638.8 1019.0,639.6 1021.0,641.1 1023.0,642.2 1025.0,643.4 1027.0,644.4 1029.0,645.6 1031.0,646.8 1033.0,647.4 1035.0,649.0 1037.0,650.0 1039.0,650.7 1041.0,651.7 1043.0,653.2 1045.0,654.3 1047.0,655.6 1049.0,656.6 1051.0,657.7 1053.0,658.9 1055.0,660.0 1057.0,661.2 1059.0,662.3 1061.0,663.3 1063.0,664.5 1065.0,665.5 1067.0,666.4 1069.0,667.6 1071.0,668.7 1073.0,669.8 1075.0,670.7 1077.0,672.0 1079.0,673.3 1081.0,674.4 1083.0,675.7 1085.0,676.5 1087.0,677.6 1089.0,678.7 1091.0,679.9 1093.0,680.9 1095.0,681.9 1097.0,683.4 1099.0,684.7 1101.0,685.8 1103.0,686.6 1105.0,687.9 1107.0,689.3 1109.0,690.2 1111.0,691.3 1113.0,692.5 1115.0,693.8 1117.0,695.0 1119.0,696.2 1121.0,697.1 1123.0,698.2 1125.0,699.1 1127.0,700.3 1129.0,701.4 1131.0,702.5 1133.0,703.6 1135.0,705.0 1137.0,705.9 1139.0,707.1 1141.0,708.1 1143.0,709.4 1145.0,710.7 1147.0,711.5 1149.0,712.7 1151.0,713.8 1153.0,714.9 1155.0,716.0 1157.0,717.0 1159.0,718.1 1161.0,719.1 1163.0,720.1 1165.0,721.2 1167.0,722.5 1169.0,723.4 1171.0,724.6 1173.0,725.6 1175.0,726.5 1177.0,727.7 1179.0,728.5 1181.0,729.7 1183.0,730.8 1185.0,731.5 1187.0,732.4 1189.0,733.5 1191.0,734.9 1193.0,735.5 1195.0,736.3 1197.0,737.5 1199.0,738.3 1201.0,739.2 1203.0,739.9 1205.0,740.7 1207.0,741.7 1209.0,742.6 1211.0,743.4 1213.0,744.3 1215.0,745.3 1217.0,746.4 1219.0,747.3 1221.0,748.0 1223.0,748.6 1225.0,749.3 1227.0,750.4 1229.0,751.2 1231.0,752.1 1233.0,752.7 1235.0,753.4 1237.0,754.2 1239.0,754.7 1241.0,755.5 1243.0,756.4 1245.0,756.9 1247.0,757.7 1249.0,758.6 1251.0,759.2 1253.0,759.8 1255.0,760.3 1257.0,761.1 1259.0,761.7 1261.0,762.5 1263.0,763.1 1265.0,763.7 1267.0,764.6 1269.0,765.0 1271.0,765.4 1273.0,766.0 1275.0,766.6 1277.0,767.2 1279.0,768.1 1281.0,768.5 1283.0,768.9 1285.0,769.3 1287.0,769.8 1289.0,770.5 1291.0,771.3 1293.0,771.8 1295.0,772.1 1297.0,772.5 1299.0,772.8 1301.0,773.6 1303.0,774.1 1305.0,774.7 1307.0,775.0 1309.0,775.4 1311.0,775.9 1313.0,776.3 1315.0,777.0 1317.0,777.4 1319.0,777.8 1321.0,778.2 1323.0,778.5 1325.0,779.0 1327.0,779.5 1329.0,780.1 1331.0,780.3 1333.0,780.6 1335.0,780.9 1337.0,781.3 1339.0,781.7 1341.0,782.3 1343.0,782.6 1345.0,783.0 1347.0,783.2 1349.0,783.4 1351.0,783.6 1353.0,784.4 1355.0,785.0 1357.0,785.0 1359.0,785.5 1361.0,785.8 1363.0,785.9 1365.0,786.3 1367.0,786.4 1369.0,786.8 1371.0,787.4 1373.0,787.5 1375.0,787.6 1377.0,788.2 1379.0,788.2 1381.0,788.6 1383.0,788.9 1385.0,789.2 1387.0,789.3 1389.0,789.6 1391.0,790.3 1393.0,790.2 1395.0,790.3 1397.0,790.4 1399.0,791.1 1401.0,791.7 1403.0,792.1 1405.0,792.5 1407.0,792.6 1409.0,792.6 1411.0,792.8 1413.0,793.2 1415.0,793.2 1417.0,793.4 1419.0,793.5 1421.0,794.0 1423.0,794.5 1425.0,794.5 1427.0,794.6 1429.0,794.5 1431.0,795.3 1433.0,795.5 1435.0,795.9 1437.0,795.9 1439.0,795.9 1441.0,796.0 1443.0,796.5 1445.0,796.7 1447.0,796.8 1449.0,797.1 1451.0,797.3 1453.0,797.7 1455.0,797.8 1457.0,797.8 1459.0,798.2 1461.0,798.5 1463.0,799.0 1465.0,798.9 1467.0,798.9 1469.0,799.3 1471.0,799.6 1473.0,799.9 1475.0,800.1 1477.0,800.1 1479.0,800.5 1481.0,800.7 1483.0,800.7 1485.0,801.0 1487.0,801.3 1489.0,801.3 1491.0,801.6 1493.0,801.9 1495.0,802.3 1497.0,802.5 1499.0,802.5 1501.0,802.9 1503.0,803.3 1505.0,803.6 1507.0,803.5 1509.0,803.5 1511.0,803.7 1513.0,804.3 1515.0,804.7 1517.0,804.6 1519.0,804.9 1521.0,805.3 1523.0,805.5 1525.0,805.5 1527.0,805.8 1529.0,805.9 1531.0,805.9 1533.0,806.4 1535.0,806.6 1537.0,806.6 1539.0,807.1 1541.0,807.6 1543.0,807.2 1545.0,807.8 1547.0,808.1 1549.0,808.1 1551.0,808.3 1553.0,808.5 1555.0,808.9 1557.0,808.7 1559.0,808.9 1561.0,808.8 1563.0,809.5 1565.0,809.7 1567.0,809.5 1569.0,809.8 1571.0,810.4 1573.0,810.4 1575.0,810.3 1577.0,810.3 1579.0,811.2 1581.0,811.8 1583.0,811.6 1585.0,811.9 1587.0,812.1 1589.0,812.2 1591.0,812.4 1593.0,812.6 1595.0,812.7 1597.0,813.8 1599.0,814.1 1601.0,813.7 1603.0,814.1 1605.0,813.7 1607.0,814.0 1609.0,814.5 1611.0,814.1 1613.0,814.2 1615.0,814.7 1617.0,814.6 1619.0,815.7 1621.0,815.8 1623.0,815.8 1625.0,816.0 1627.0,815.8 1629.0,816.0 1631.0,816.7 1633.0,817.0 1635.0,817.0 1637.0,817.0 1639.0,817.2 1641.0,817.8 1643.0,817.3 1645.0,817.5 1647.0,817.8 1649.0,817.7 1651.0,817.9 1653.0,818.4 1655.0,819.3 1657.0,819.8 1659.0,819.4 1661.0,819.0 1663.0,819.4 1665.0,819.8 1667.0,820.0 1669.0,820.2 1671.0,820.5 1673.0,820.1 1675.0,820.6 1677.0,821.2 1679.0,821.6 1681.0,821.7 1683.0,821.8 1685.0,821.9 1687.0,821.9 1689.0,822.3 1691.0,822.5 1693.0,822.6 1695.0,823.5 1697.0,823.7 1699.0,823.4 1701.0,823.9 1703.0,824.3 1705.0,824.2 1707.0,824.3 1709.0,824.5 1711.0,824.0 1713.0,824.2 1715.0,825.2 1717.0,825.5 1719.0,825.9 1721.0,825.7 1723.0,826.3 1725.0,826.7 1727.0,827.0 1729.0,826.3 1731.0,826.5 1733.0,827.0 1735.0,827.1 1737.0,826.9 1739.0,827.1 1741.0,827.4 1743.0,828.6 1745.0,828.3 1747.0,828.3 1749.0,828.3 1751.0,828.7 1753.0,829.2 1755.0,829.1 1757.0,829.5 1759.0,830.4 1761.0,830.3 1763.0,830.1 1765.0,830.0 1767.0,830.2 1769.0,830.3 1771.0,830.7 1773.0,830.6 1775.0,830.8 1777.0,831.0 1779.0,831.1 1781.0,831.9 1783.0,832.8 1785.0,831.9 1787.0,831.7 1789.0,832.7 1791.0,832.9 1793.0,833.6 1795.0,833.4 1797.0,833.6 1799.0,833.1 1801.0,833.0 1803.0,833.7 1805.0,834.2 1807.0,833.8 1809.0,833.7 1811.0,834.2 1813.0,834.6 1815.0,834.8 1817.0,835.3 1819.0,836.2 1821.0,835.7 1823.0,835.5 1825.0,835.6 1827.0,836.2 1829.0,835.9 1831.0,836.9 1833.0,836.7 1835.0,836.3 1837.0,837.0 1839.0,837.3 1841.0,837.7 1843.0,837.2 1845.0,837.7 1847.0,838.0 1849.0,838.4 1851.0,837.9 1853.0,838.3 1855.0,839.4 1857.0,839.1 1859.0,838.6 1861.0,839.2 1863.0,839.1 1865.0,839.2 1867.0,839.3 1869.0,840.2 1871.0,840.0 1873.0,840.3 1875.0,840.4 1877.0,840.0 1879.0,840.5 1881.0,841.1 1883.0,840.6 1885.0,841.3 1887.0,841.5 1889.0,841.9 1891.0,842.2 1893.0,842.3 1895.0,842.2 1897.0,842.4 1899.0,842.2 1901.0,842.5 1903.0,843.0 1905.0,842.9 1907.0,843.5 1909.0,843.7 1911.0,843.3 1913.0,843.7 1915.0,843.5 1917.0,843.9 1919.0,843.8 1921.0,844.3 1923.0,844.4 1925.0,844.3 1927.0,845.4 1929.0,845.2 1931.0,844.5 1933.0,845.1 1935.0,845.3 1937.0,846.1 1939.0,845.7 1941.0,845.8 1943.0,845.9 1945.0,846.2 1947.0,845.9 1949.0,845.9 1951.0,846.1 1953.0,846.4 1955.0,846.9 1957.0,846.9 1959.0,846.8 1961.0,846.8 1963.0,846.9 1965.0,847.2 1967.0,846.7 1969.0,847.5 1971.0,848.1 1973.0,847.8 1975.0,847.7 1977.0,848.0 1979.0,847.9 1981.0,848.1 1983.0,848.6 1985.0,848.6 1987.0,849.4 1989.0,849.2 1991.0,848.9 1993.0,848.8 1995.0,848.9 1997.0,848.5 1999.0,849.4 2001.0,849.9 2003.0,849.9 2005.0,849.7 2007.0,850.1 2009.0,850.2 2011.0,850.1 2013.0,850.3 2015.0,850.7 2017.0,850.6 2019.0,850.3 2021.0,850.5 2023.0,850.6 2025.0,850.2 2027.0,850.7 2029.0,850.7 2031.0,850.1 2033.0,850.4 2035.0,851.7 2037.0,851.5 2039.0,851.8 2041.0,851.5 2043.0,852.1 2045.0,851.8 2047.0,851.5 2049.0,851.9 2051.0,852.6 2053.0,852.9 2055.0,852.3 2057.0,851.8 2059.0,851.8 2061.0,852.4 2063.0,852.7 2065.0,852.4 2067.0,852.4 2069.0,852.7 2071.0,852.7 2073.0,852.6 2075.0,852.0 2077.0,852.5 2079.0,853.3 2081.0,853.1 2083.0,853.7 2085.0,853.1 2087.0,852.8 2089.0,853.0 2091.0,853.1 2093.0,852.8 2095.0,853.0 2097.0,853.1 2099.0,853.6 2101.0,853.1 2103.0,853.1 2105.0,852.6 2106.0,852.6 2114.0,852.9" stroke="#0000ff"/>
<path d="M305.0,816.3 313.0,818.3 315.0,818.8 317.0,819.9 319.0,820.7 321.0,821.6 323.0,822.3 325.0,823.2 327.0,823.8 329.0,824.6 331.0,825.4 333.0,826.2 335.0,826.8 337.0,827.6 339.0,828.4 341.0,829.1 343.0,829.7 345.0,830.4 347.0,831.0 349.0,831.9 351.0,832.5 353.0,833.2 355.0,833.8 357.0,834.6 359.0,835.1 361.0,835.6 363.0,836.2 365.0,836.6 367.0,837.3 369.0,837.6 371.0,838.3 373.0,838.9 375.0,839.3 377.0,839.6 379.0,840.0 381.0,840.5 383.0,841.1 385.0,841.4 387.0,841.6 389.0,841.9 391.0,842.3 393.0,842.4 395.0,842.7 397.0,842.9 399.0,843.2 401.0,843.3 403.0,843.3 405.0,843.4 407.0,843.3 409.0,843.3 411.0,843.3 413.0,843.1 415.0,842.9 417.0,842.6 419.0,842.4 421.0,842.2 423.0,842.0 425.0,841.7 427.0,841.5 429.0,840.9 431.0,840.4 433.0,839.9 435.0,839.4 437.0,838.7 439.0,838.0 441.0,837.4 443.0,836.7 445.0,835.7 447.0,834.5 449.0,833.6 451.0,832.6 453.0,831.6 455.0,830.6 457.0,829.7 459.0,828.4 461.0,827.1 463.0,826.0 465.0,824.8 467.0,823.5 469.0,822.1 471.0,820.9 473.0,819.6 475.0,818.0 477.0,816.7 479.0,815.7 481.0,814.3 483.0,812.8 485.0,811.4 487.0,810.1 489.0,808.8 491.0,807.6 493.0,806.5 495.0,805.1 497.0,803.9 499.0,802.6 501.0,801.4 503.0,800.3 505.0,798.8 507.0,797.7 509.0,796.6 511.0,795.5 513.0,794.4 515.0,793.2 517.0,791.8 519.0,790.7 521.0,789.6 523.0,788.5 525.0,787.6 527.0,786.2 529.0,785.1 531.0,784.0 533.0,783.0 535.0,781.8 537.0,780.6 539.0,779.5 541.0,778.4 543.0,777.1 545.0,776.0 547.0,774.9 549.0,774.0 551.0,772.7 553.0,771.5 555.0,770.6 557.0,769.7 559.0,768.5 561.0,767.4 563.0,766.3 565.0,765.1 567.0,764.0 569.0,762.9 571.0,761.8 573.0,760.6 575.0,760.0 577.0,758.9 579.0,757.6 581.0,756.5 583.0,755.4 585.0,754.5 587.0,753.3 589.0,752.2 591.0,751.0 593.0,750.1 595.0,749.2 597.0,747.9 599.0,746.8 601.0,745.7 603.0,744.7 605.0,743.6 607.0,742.3 609.0,741.1 611.0,740.1 613.0,738.9 615.0,737.7 617.0,736.7 619.0,735.5 621.0,734.2 623.0,733.2 625.0,732.4 627.0,731.0 629.0,729.8 631.0,728.8 633.0,727.3 635.0,725.8 637.0,724.7 639.0,723.6 641.0,722.7 643.0,721.5 645.0,720.1 647.0,719.2 649.0,717.9 651.0,716.8 653.0,715.7 655.0,714.6 657.0,713.4 659.0,712.2 661.0,711.0 663.0,710.0 665.0,709.0 667.0,708.0 669.0,707.0 671.0,705.8 673.0,704.6 675.0,703.6 677.0,702.4 679.0,701.1 681.0,700.0 683.0,699.3 685.0,698.3 687.0,697.3 689.0,696.2 691.0,695.3 693.0,694.5 695.0,693.4 697.0,692.2 699.0,691.4 701.0,690.7 703.0,689.5 705.0,688.4 707.0,687.5 709.0,686.9 711.0,686.3 713.0,685.5 715.0,684.5 717.0,683.7 719.0,683.1 721.0,682.4 723.0,681.7 725.0,681.0 727.0,680.4 729.0,679.9 731.0,678.9 733.0,678.5 735.0,677.9 737.0,677.6 739.0,677.0 741.0,676.6 743.0,676.1 745.0,675.7 747.0,675.3 749.0,674.7 751.0,674.5 753.0,674.1 755.0,673.9 757.0,673.8 759.0,673.5 761.0,673.2 763.0,672.6 765.0,672.5 767.0,672.5 769.0,672.2 771.0,672.2 773.0,672.4 775.0,672.3 777.0,672.0 779.0,672.2 781.0,672.3 783.0,672.3 785.0,672.3 787.0,672.4 789.0,672.4 791.0,672.7 793.0,672.9 795.0,673.3 797.0,673.6 799.0,673.8 801.0,674.2 803.0,674.6 805.0,675.0 807.0,675.4 809.0,675.8 811.0,676.2 813.0,676.8 815.0,677.3 817.0,677.9 819.0,678.1 821.0,678.8 823.0,679.3 825.0,680.1 827.0,680.9 829.0,681.6 831.0,682.4 833.0,683.1 835.0,683.6 837.0,684.6 839.0,685.9 841.0,686.9 843.0,687.5 845.0,688.3 847.0,689.6 849.0,690.1 851.0,691.3 853.0,692.3 855.0,693.3 857.0,694.1 859.0,695.2 861.0,696.4 863.0,697.3 865.0,698.2 867.0,699.4 869.0,700.5 871.0,701.5 873.0,702.5 875.0,703.8 877.0,704.8 879.0,705.7 881.0,707.0 883.0,708.1 885.0,709.2 887.0,710.1 889.0,711.3 891.0,712.6 893.0,713.9 895.0,714.9 897.0,716.0 899.0,717.3 901.0,718.5 903.0,719.7 905.0,720.7 907.0,721.7 909.0,722.9 911.0,723.8 913.0,725.2 915.0,726.3 917.0,727.5 919.0,728.8 921.0,729.8 923.0,730.8 925.0,732.1 927.0,733.2 929.0,734.5 931.0,735.7 933.0,736.7 935.0,738.1 937.0,739.3 939.0,740.3 941.0,741.4 943.0,742.3 945.0,743.6 947.0,744.8 949.0,745.7 951.0,746.9 953.0,748.0 955.0,749.4 957.0,750.5 959.0,751.4 961.0,752.4 963.0,753.2 965.0,754.7 967.0,755.8 969.0,756.9 971.0,757.5 973.0,758.8 975.0,759.8 977.0,760.5 979.0,761.7 981.0,762.9 983.0,764.0 985.0,764.9 987.0,765.8 989.0,766.9 991.0,767.8 993.0,768.6 995.0,769.5 997.0,770.6 999.0,771.6 1001.0,772.7 1003.0,773.4 1005.0,774.5 1007.0,775.3 1009.0,776.2 1011.0,776.8 1013.0,777.6 1015.0,778.6 1017.0,779.6 1019.0,780.4 1021.0,781.3 1023.0,782.1 1025.0,783.0 1027.0,783.7 1029.0,784.4 1031.0,785.3 1033.0,786.1 1035.0,787.0 1037.0,787.6 1039.0,788.3 1041.0,789.1 1043.0,790.0 1045.0,790.7 1047.0,791.4 1049.0,791.8 1051.0,792.5 1053.0,793.5 1055.0,794.3 1057.0,795.0 1059.0,795.3 1061.0,796.1 1063.0,796.6 1065.0,797.4 1067.0,798.2 1069.0,799.0 1071.0,799.4 1073.0,800.0 1075.0,800.8 1077.0,801.7 1079.0,802.4 1081.0,802.5 1083.0,803.2 1085.0,803.8 1087.0,804.6 1089.0,805.2 1091.0,805.8 1093.0,806.1 1095.0,806.7 1097.0,807.2 1099.0,807.7 1101.0,808.4 1103.0,808.9 1105.0,809.8 1107.0,810.2 1109.0,810.4 1111.0,811.1 1113.0,811.9 1115.0,812.2 1117.0,812.8 1119.0,813.3 1121.0,813.9 1123.0,814.3 1125.0,814.6 1127.0,814.9 1129.0,815.3 1131.0,816.0 1133.0,816.5 1135.0,816.9 1137.0,817.3 1139.0,817.7 1141.0,818.6 1143.0,818.7 1145.0,819.0 1147.0,819.5 1149.0,820.0 1151.0,820.5 1153.0,820.5 1155.0,821.2 1157.0,821.6 1159.0,822.0 1161.0,822.6 1163.0,823.0 1165.0,823.1 1167.0,823.6 1169.0,824.3 1171.0,824.6 1173.0,824.9 1175.0,825.1 1177.0,825.6 1179.0,825.9 1181.0,826.0 1183.0,826.3 1185.0,826.9 1187.0,827.3 1189.0,827.7 1191.0,827.8 1193.0,828.3 1195.0,828.5 1197.0,829.0 1199.0,829.2 1201.0,829.3 1203.0,829.5 1205.0,830.0 1207.0,830.3 1209.0,830.7 1211.0,830.8 1213.0,830.9 1215.0,831.5 1217.0,832.1 1219.0,832.4 1221.0,832.3 1223.0,832.5 1225.0,832.9 1227.0,833.0 1229.0,833.3 1231.0,833.6 1233.0,833.7 1235.0,834.0 1237.0,834.3 1239.0,834.7 1241.0,834.7 1243.0,835.1 1245.0,835.2 1247.0,835.4 1249.0,835.8 1251.0,836.8 1253.0,836.7 1255.0,836.9 1257.0,837.0 1259.0,837.0 1261.0,837.2 1263.0,837.5 1265.0,837.8 1267.0,838.0 1269.0,838.2 1271.0,837.8 1273.0,838.3 1275.0,838.8 1277.0,838.8 1279.0,839.1 1281.0,839.5 1283.0,839.6 1285.0,840.0 1287.0,839.9 1289.0,840.0 1291.0,840.0 1293.0,840.0 1295.0,840.4 1297.0,840.7 1299.0,840.8 1301.0,840.9 1303.0,841.3 1305.0,841.5 1307.0,841.6 1309.0,841.7 1311.0,842.2 1313.0,842.4 1315.0,842.3 1317.0,842.4 1319.0,842.6 1321.0,843.1 1323.0,843.4 1325.0,843.1 1327.0,843.0 1329.0,843.1 1331.0,843.8 1333.0,843.5 1335.0,843.9 1337.0,844.0 1339.0,844.2 1341.0,844.0 1343.0,844.0 1345.0,844.4 1347.0,844.7 1349.0,844.8 1351.0,844.5 1353.0,844.8 1355.0,845.0 1357.0,844.9 1359.0,845.3 1361.0,845.6 1363.0,845.5 1365.0,845.5 1367.0,845.8 1369.0,846.1 1371.0,846.2 1373.0,846.3 1375.0,846.0 1377.0,846.4 1379.0,846.6 1381.0,846.6 1383.0,846.7 1385.0,846.8 1387.0,847.1 1389.0,847.0 1391.0,847.0 1393.0,847.3 1395.0,847.5 1397.0,847.6 1399.0,847.5 1401.0,847.6 1403.0,848.0 1405.0,848.4 1407.0,848.2 1409.0,848.0 1411.0,848.2 1413.0,848.2 1415.0,848.1 1417.0,848.4 1419.0,848.6 1421.0,848.9 1423.0,849.2 1425.0,849.3 1427.0,849.3 1429.0,849.2 1431.0,849.3 1433.0,849.5 1435.0,849.7 1437.0,849.5 1439.0,849.7 1441.0,850.1 1443.0,850.1 1445.0,850.0 1447.0,850.2 1449.0,850.3 1451.0,850.4 1453.0,850.6 1455.0,850.6 1457.0,850.6 1459.0,850.6 1461.0,850.5 1463.0,850.9 1465.0,851.3 1467.0,851.2 1469.0,851.2 1471.0,851.3 1473.0,851.4 1475.0,851.7 1477.0,852.2 1479.0,852.3 1481.0,852.2 1483.0,852.2 1485.0,852.1 1487.0,852.0 1489.0,852.3 1491.0,852.4 1493.0,852.7 1495.0,852.7 1497.0,852.7 1499.0,853.1 1501.0,853.5 1503.0,853.1 1505.0,853.4 1507.0,853.5 1509.0,853.4 1511.0,853.4 1513.0,853.6 1515.0,853.8 1517.0,854.1 1519.0,854.2 1521.0,854.1 1523.0,854.1 1525.0,854.3 1527.0,854.3 1529.0,854.3 1531.0,854.7 1533.0,854.5 1535.0,854.5 1537.0,854.8 1539.0,854.6 1541.0,855.1 1543.0,855.3 1545.0,855.3 1547.0,855.6 1549.0,856.2 1551.0,856.2 1553.0,856.1 1555.0,856.1 1557.0,855.9 1559.0,856.0 1561.0,856.1 1563.0,856.3 1565.0,856.4 1567.0,856.4 1569.0,857.0 1571.0,856.6 1573.0,856.9 1575.0,857.3 1577.0,857.1 1579.0,857.0 1581.0,857.4 1583.0,858.0 1585.0,857.8 1587.0,857.6 1589.0,857.8 1591.0,857.6 1593.0,857.3 1595.0,858.0 1597.0,858.5 1599.0,858.6 1601.0,858.3 1603.0,858.0 1605.0,858.8 1607.0,858.7 1609.0,859.0 1611.0,859.3 1613.0,859.1 1615.0,859.0 1617.0,858.9 1619.0,859.0 1621.0,859.3 1623.0,859.3 1625.0,859.5 1627.0,858.9 1629.0,859.2 1631.0,859.7 1633.0,859.7 1635.0,859.7 1637.0,859.7 1639.0,860.5 1641.0,860.9 1643.0,860.3 1645.0,860.8 1647.0,860.2 1649.0,860.5 1651.0,860.1 1653.0,861.0 1655.0,861.1 1657.0,861.3 1659.0,861.8 1661.0,861.7 1663.0,861.4 1665.0,861.2 1667.0,861.5 1669.0,861.4 1671.0,861.7 1673.0,862.5 1675.0,862.5 1677.0,862.3 1679.0,862.3 1681.0,861.7 1683.0,862.1 1685.0,861.7 1687.0,862.1 1689.0,862.8 1691.0,863.0 1693.0,863.2 1695.0,863.0 1697.0,863.0 1699.0,863.2 1701.0,863.9 1703.0,863.8 1705.0,862.8 1707.0,863.5 1709.0,864.1 1711.0,863.6 1713.0,863.7 1715.0,863.4 1717.0,863.3 1719.0,863.8 1721.0,863.8 1723.0,863.8 1725.0,863.4 1727.0,863.6 1729.0,864.1 1731.0,864.3 1733.0,864.6 1735.0,864.2 1737.0,864.9 1739.0,865.1 1741.0,865.0 1743.0,865.2 1745.0,865.0 1747.0,865.0 1749.0,865.0 1751.0,864.6 1753.0,865.2 1755.0,865.6 1757.0,864.9 1759.0,865.6 1761.0,865.3 1763.0,865.5 1765.0,865.8 1767.0,866.1 1769.0,866.5 1771.0,866.2 1773.0,866.8 1775.0,866.4 1777.0,866.5 1779.0,866.6 1781.0,866.0 1783.0,865.9 1785.0,866.5 1787.0,867.0 1789.0,867.1 1791.0,866.8 1793.0,867.6 1795.0,866.9 1797.0,866.8 1799.0,867.6 1801.0,867.7 1803.0,867.0 1805.0,867.4 1807.0,866.9 1809.0,867.6 1811.0,868.7 1813.0,868.5 1815.0,868.2 1817.0,868.0 1819.0,867.5 1821.0,868.0 1823.0,868.1 1825.0,867.6 1827.0,868.1 1829.0,868.5 1831.0,868.4 1833.0,868.5 1835.0,868.2 1837.0,867.9 1839.0,868.2 1841.0,867.6 1843.0,868.2 1845.0,869.3 1847.0,869.7 1849.0,868.9 1851.0,867.9 1853.0,869.4 1855.0,869.4 1857.0,869.1 1859.0,869.5 1861.0,869.4 1863.0,868.6 1865.0,868.7 1867.0,869.5 1869.0,868.5 1871.0,869.6 1873.0,869.8 1875.0,870.2 1877.0,870.7 1879.0,870.6 1881.0,870.7 1883.0,870.4 1885.0,870.3 1887.0,870.5 1889.0,870.0 1891.0,869.6 1893.0,869.8 1895.0,869.4 1897.0,870.0 1899.0,871.2 1901.0,870.7 1903.0,870.3 1905.0,870.0 1907.0,869.6 1909.0,870.0 1911.0,870.2 1913.0,870.5 1915.0,870.7 1917.0,870.5 1919.0,870.0 1921.0,871.3 1923.0,871.2 1925.0,870.9 1927.0,870.8 1929.0,871.3 1931.0,871.7 1933.0,871.4 1935.0,870.5 1937.0,870.3 1939.0,870.0 1941.0,871.2 1943.0,871.8 1945.0,872.0 1947.0,871.6 1949.0,871.7 1951.0,871.2 1953.0,871.6 1955.0,871.5 1957.0,871.1 1959.0,870.9 1961.0,871.8 1963.0,870.9 1965.0,871.7 1967.0,871.5 1969.0,872.0 1971.0,871.7 1973.0,872.2 1975.0,871.8 1977.0,871.4 1979.0,871.5 1981.0,871.3 1983.0,872.2 1985.0,872.7 1987.0,872.5 1989.0,872.4 1991.0,872.7 1993.0,871.9 1995.0,872.4 1997.0,872.4 1999.0,872.2 2001.0,872.5 2003.0,872.0 2005.0,872.3 2007.0,872.5 2009.0,872.0 2011.0,872.4 2013.0,872.9 2015.0,873.0 2017.0,872.4 2019.0,873.0 2021.0,872.7 2023.0,872.7 2025.0,872.6 2027.0,873.1 2029.0,872.6 2031.0,873.0 2033.0,873.2 2035.0,873.2 2037.0,872.6 2039.0,873.2 2041.0,873.2 2043.0,873.7 2045.0,873.0 2047.0,872.8 2049.0,873.0 2051.0,873.0 2053.0,872.9 2055.0,872.4 2057.0,872.0 2059.0,872.3 2061.0,872.9 2063.0,873.4 2065.0,873.1 2067.0,872.8 2069.0,873.2 2071.0,873.6 2073.0,874.8 2075.0,874.3 2077.0,873.5 2079.0,872.8 2081.0,873.2 2083.0,873.4 2085.0,873.9 2087.0,874.5 2089.0,873.5 2091.0,872.6 2093.0,873.2 2095.0,872.9 2097.0,873.9 2099.0,874.2 2101.0,873.8 2103.0,873.0 2105.0,873.6 2106.0,874.2 2114.0,879.4" stroke="#ff00ff"/>
<path d="M305.0,810.9 313.0,813.4 315.0,814.1 317.0,814.7 319.0,815.4 321.0,816.4 323.0,817.3 325.0,818.0 327.0,818.7 329.0,819.4 331.0,820.0 333.0,820.9 335.0,821.3 337.0,822.1 339.0,822.9 341.0,823.3 343.0,823.8 345.0,824.4 347.0,824.9 349.0,825.3 351.0,826.0 353.0,826.7 355.0,827.1 357.0,827.5 359.0,828.0 361.0,828.4 363.0,828.8 365.0,829.2 367.0,829.4 369.0,829.9 371.0,830.2 373.0,830.6 375.0,830.8 377.0,831.0 379.0,831.3 381.0,831.5 383.0,831.8 385.0,831.9 387.0,832.1 389.0,832.1 391.0,832.4 393.0,832.4 395.0,832.6 397.0,832.6 399.0,832.5 401.0,832.6 403.0,832.5 405.0,832.6 407.0,832.7 409.0,832.6 411.0,832.5 413.0,832.2 415.0,832.2 417.0,832.1 419.0,832.0 421.0,831.8 423.0,831.7 425.0,831.5 427.0,831.1 429.0,830.9 431.0,830.8 433.0,830.4 435.0,830.2 437.0,830.1 439.0,829.8 441.0,829.4 443.0,829.1 445.0,828.8 447.0,828.4 449.0,828.1 451.0,827.9 453.0,827.6 455.0,827.0 457.0,826.7 459.0,826.2 461.0,825.7 463.0,825.5 465.0,825.1 467.0,824.6 469.0,824.2 471.0,823.7 473.0,823.4 475.0,823.0 477.0,822.3 479.0,821.6 481.0,821.3 483.0,820.9 485.0,820.6 487.0,820.4 489.0,820.3 491.0,819.8 493.0,819.3 495.0,818.8 497.0,818.5 499.0,818.1 501.0,817.9 503.0,817.4 505.0,817.1 507.0,816.7 509.0,816.3 511.0,816.0 513.0,815.5 515.0,815.0 517.0,814.6 519.0,814.2 521.0,813.8 523.0,813.3 525.0,812.9 527.0,812.2 529.0,811.7 531.0,811.1 533.0,810.8 535.0,810.2 537.0,809.6 539.0,809.3 541.0,808.7 543.0,808.1 545.0,807.8 547.0,807.2 549.0,806.7 551.0,806.1 553.0,805.7 555.0,805.2 557.0,804.6 559.0,804.2 561.0,803.4 563.0,802.9 565.0,802.4 567.0,801.9 569.0,801.2 571.0,800.6 573.0,800.2 575.0,799.7 577.0,799.0 579.0,798.3 581.0,797.8 583.0,797.4 585.0,796.7 587.0,796.1 589.0,795.3 591.0,794.9 593.0,794.4 595.0,793.9 597.0,793.3 599.0,792.7 601.0,791.9 603.0,791.4 605.0,790.6 607.0,790.1 609.0,789.7 611.0,789.0 613.0,788.1 615.0,787.7 617.0,786.9 619.0,786.2 621.0,785.7 623.0,785.1 625.0,784.5 627.0,783.5 629.0,782.9 631.0,782.3 633.0,781.5 635.0,781.2 637.0,780.6 639.0,779.7 641.0,779.0 643.0,778.3 645.0,777.7 647.0,777.0 649.0,776.4 651.0,775.6 653.0,775.2 655.0,774.6 657.0,774.1 659.0,773.0 661.0,772.5 663.0,771.8 665.0,771.4 667.0,770.8 669.0,770.1 671.0,769.4 673.0,768.9 675.0,768.6 677.0,768.3 679.0,767.8 681.0,767.1 683.0,766.5 685.0,766.1 687.0,765.5 689.0,765.1 691.0,764.9 693.0,764.4 695.0,764.1 697.0,763.7 699.0,763.5 701.0,763.1 703.0,762.5 705.0,762.2 707.0,761.9 709.0,761.8 711.0,761.6 713.0,761.1 715.0,761.1 717.0,760.6 719.0,760.1 721.0,759.8 723.0,759.9 725.0,759.8 727.0,759.6 729.0,759.6 731.0,759.6 733.0,759.4 735.0,759.4 737.0,759.5 739.0,759.3 741.0,759.1 743.0,759.2 745.0,759.3 747.0,759.5 749.0,759.2 751.0,759.1 753.0,759.5 755.0,759.7 757.0,759.9 759.0,760.2 761.0,760.5 763.0,760.8 765.0,760.8 767.0,761.0 769.0,761.4 771.0,761.7 773.0,762.3 775.0,762.6 777.0,762.9 779.0,763.4 781.0,763.7 783.0,764.1 785.0,764.5 787.0,764.8 789.0,765.2 791.0,765.6 793.0,766.0 795.0,766.5 797.0,767.2 799.0,767.6 801.0,768.0 803.0,768.9 805.0,769.1 807.0,769.8 809.0,770.4 811.0,771.0 813.0,771.3 815.0,771.9 817.0,772.6 819.0,773.3 821.0,773.9 823.0,774.5 825.0,775.2 827.0,776.0 829.0,776.5 831.0,777.1 833.0,777.5 835.0,778.3 837.0,778.8 839.0,779.7 841.0,780.3 843.0,780.9 845.0,781.5 847.0,782.4 849.0,783.1 851.0,783.8 853.0,784.5 855.0,785.2 857.0,786.0 859.0,786.8 861.0,787.6 863.0,788.5 865.0,789.2 867.0,789.8 869.0,790.8 871.0,791.6 873.0,792.1 875.0,793.0 877.0,793.6 879.0,794.3 881.0,795.1 883.0,796.2 885.0,796.8 887.0,797.6 889.0,798.3 891.0,799.1 893.0,800.0 895.0,800.9 897.0,801.8 899.0,802.2 901.0,803.3 903.0,803.9 905.0,804.4 907.0,805.5 909.0,806.5 911.0,807.2 913.0,807.8 915.0,808.4 917.0,808.9 919.0,810.0 921.0,810.8 923.0,811.4 925.0,812.3 927.0,813.0 929.0,814.1 931.0,814.4 933.0,815.0 935.0,815.6 937.0,816.6 939.0,817.5 941.0,818.2 943.0,818.8 945.0,819.7 947.0,820.4 949.0,821.2 951.0,821.6 953.0,822.1 955.0,822.9 957.0,823.6 959.0,824.4 961.0,824.9 963.0,825.6 965.0,826.2 967.0,826.6 969.0,827.4 971.0,828.2 973.0,828.7 975.0,829.3 977.0,829.9 979.0,830.4 981.0,831.0 983.0,831.6 985.0,832.1 987.0,832.6 989.0,833.1 991.0,833.5 993.0,834.0 995.0,835.0 997.0,835.5 999.0,835.7 1001.0,836.3 1003.0,836.9 1005.0,837.2 1007.0,837.4 1009.0,837.6 1011.0,838.1 1013.0,838.7 1015.0,839.5 1017.0,839.9 1019.0,840.0 1021.0,840.4 1023.0,841.1 1025.0,841.5 1027.0,841.5 1029.0,841.9 1031.0,842.3 1033.0,842.5 1035.0,842.8 1037.0,843.2 1039.0,843.5 1041.0,843.6 1043.0,844.2 1045.0,844.7 1047.0,845.0 1049.0,845.3 1051.0,845.5 1053.0,845.8 1055.0,846.3 1057.0,846.3 1059.0,846.5 1061.0,847.0 1063.0,847.0 1065.0,847.0 1067.0,847.3 1069.0,847.6 1071.0,847.9 1073.0,848.1 1075.0,848.6 1077.0,848.8 1079.0,848.9 1081.0,849.0 1083.0,849.4 1085.0,849.7 1087.0,850.0 1089.0,849.7 1091.0,849.9 1093.0,850.3 1095.0,850.1 1097.0,850.4 1099.0,850.6 1101.0,850.7 1103.0,850.7 1105.0,850.9 1107.0,850.9 1109.0,851.5 1111.0,851.4 1113.0,851.6 1115.0,851.7 1117.0,851.9 1119.0,852.0 1121.0,852.2 1123.0,852.1 1125.0,852.3 1127.0,852.1 1129.0,852.2 1131.0,852.3 1133.0,852.4 1135.0,852.4 1137.0,852.7 1139.0,853.1 1141.0,853.2 1143.0,853.1 1145.0,853.4 1147.0,853.6 1149.0,854.0 1151.0,853.3 1153.0,853.5 1155.0,853.4 1157.0,854.0 1159.0,853.9 1161.0,854.0 1163.0,854.1 1165.0,854.1 1167.0,853.3 1169.0,853.7 1171.0,854.1 1173.0,854.0 1175.0,854.5 1177.0,854.7 1179.0,854.2 1181.0,854.4 1183.0,854.9 1185.0,855.3 1187.0,855.2 1189.0,855.0 1191.0,854.6 1193.0,854.9 1195.0,855.0 1197.0,854.9 1199.0,855.2 1201.0,855.1 1203.0,855.2 1205.0,855.9 1207.0,855.5 1209.0,855.9 1211.0,855.5 1213.0,855.4 1215.0,855.1 1217.0,855.5 1219.0,856.2 1221.0,855.7 1223.0,855.3 1225.0,856.2 1227.0,855.7 1229.0,855.8 1231.0,855.9 1233.0,855.6 1235.0,856.7 1237.0,856.8 1239.0,856.4 1241.0,856.5 1243.0,856.4 1245.0,856.3 1247.0,856.4 1249.0,856.1 1251.0,856.5 1253.0,856.8 1255.0,857.5 1257.0,856.7 1259.0,857.5 1261.0,857.5 1263.0,857.3 1265.0,857.2 1267.0,858.1 1269.0,858.2 1271.0,857.6 1273.0,857.5 1275.0,857.9 1277.0,858.4 1279.0,857.6 1281.0,858.0 1283.0,858.3 1285.0,857.6 1287.0,858.1 1289.0,858.6 1291.0,858.2 1293.0,858.2 1295.0,857.8 1297.0,858.5 1299.0,858.1 1301.0,858.5 1303.0,858.8 1305.0,858.7 1307.0,859.3 1309.0,859.5 1311.0,859.5 1313.0,859.7 1315.0,859.1 1317.0,858.5 1319.0,859.7 1321.0,859.9 1323.0,859.4 1325.0,859.4 1327.0,860.2 1329.0,859.7 1331.0,859.7 1333.0,860.0 1335.0,861.1 1337.0,859.9 1339.0,859.0 1341.0,860.0 1343.0,859.8 1345.0,859.6 1347.0,860.4 1349.0,860.5 1351.0,861.1 1353.0,860.9 1355.0,861.6 1357.0,861.6 1359.0,861.3 1361.0,861.8 1363.0,862.4 1365.0,861.8 1367.0,860.8 1369.0,861.5 1371.0,861.9 1373.0,862.4 1375.0,862.0 1377.0,862.5 1379.0,862.1 1381.0,862.1 1383.0,862.1 1385.0,862.2 1387.0,862.3 1389.0,862.5 1391.0,862.1 1393.0,862.0 1395.0,862.6 1397.0,862.8 1399.0,862.8 1401.0,863.2 1403.0,863.5 1405.0,864.0 1407.0,862.9 1409.0,864.0 1411.0,862.2 1413.0,862.3 1415.0,863.4 1417.0,863.2 1419.0,863.5 1421.0,863.4 1423.0,863.0 1425.0,863.1 1427.0,863.8 1429.0,864.4 1431.0,864.7 1433.0,864.5 1435.0,864.5 1437.0,864.9 1439.0,863.6 1441.0,864.7 1443.0,865.7 1445.0,866.1 1447.0,866.0 1449.0,866.1 1451.0,866.0 1453.0,865.3 1455.0,864.2 1457.0,864.9 1459.0,865.6 1461.0,866.5 1463.0,865.7 1465.0,865.7 1467.0,866.2 1469.0,865.6 1471.0,866.1 1473.0,866.5 1475.0,866.2 1477.0,866.2 1479.0,865.4 1481.0,865.7 1483.0,866.5 1485.0,867.3 1487.0,866.6 1489.0,866.3 1491.0,866.6 1493.0,867.2 1495.0,866.5 1497.0,867.2 1499.0,867.2 1501.0,867.4 1503.0,867.2 1505.0,867.8 1507.0,868.5 1509.0,867.8 1511.0,867.3 1513.0,866.6 1515.0,868.0 1517.0,867.9 1519.0,868.4 1521.0,868.4 1523.0,868.0 1525.0,867.9 1527.0,868.0 1529.0,869.7 1531.0,869.6 1533.0,869.6 1535.0,869.9 1537.0,870.0 1539.0,869.9 1541.0,870.2 1543.0,870.6 1545.0,868.8 1547.0,869.3 1549.0,869.3 1551.0,869.3 1553.0,868.2 1555.0,869.0 1557.0,870.1 1559.0,869.5 1561.0,870.1 1563.0,869.7 1565.0,869.9 1567.0,869.4 1569.0,869.7 1571.0,869.6 1573.0,870.5 1575.0,869.8 1577.0,870.6 1579.0,870.5 1581.0,870.9 1583.0,871.7 1585.0,871.0 1587.0,870.7 1589.0,871.2 1591.0,871.6 1593.0,871.3 1595.0,872.3 1597.0,871.7 1599.0,871.3 1601.0,871.2 1603.0,871.6 1605.0,872.2 1607.0,872.5 1609.0,872.0 1611.0,871.7 1613.0,871.7 1615.0,871.1 1617.0,872.6 1619.0,872.8 1621.0,872.4 1623.0,872.6 1625.0,872.2 1627.0,873.4 1629.0,872.7 1631.0,872.7 1633.0,873.8 1635.0,872.7 1637.0,873.0 1639.0,872.6 1641.0,872.7 1643.0,872.9 1645.0,873.1 1647.0,874.2 1649.0,874.1 1651.0,873.6 1653.0,874.7 1655.0,873.8 1657.0,873.6 1659.0,873.8 1661.0,873.4 1663.0,874.3 1665.0,873.3 1667.0,873.2 1669.0,874.2 1671.0,873.6 1673.0,873.6 1675.0,873.3 1677.0,873.7 1679.0,873.9 1681.0,872.9 1683.0,873.8 1685.0,874.0 1687.0,875.2 1689.0,875.7 1691.0,875.0 1693.0,874.9 1695.0,875.2 1697.0,875.0 1699.0,873.7 1701.0,873.6 1703.0,874.0 1705.0,873.8 1707.0,874.3 1709.0,874.6 1711.0,874.3 1713.0,875.1 1715.0,875.6 1717.0,875.0 1719.0,875.1 1721.0,874.9 1723.0,874.8 1725.0,874.5 1727.0,874.4 1729.0,875.3 1731.0,875.7 1733.0,875.2 1735.0,875.0 1737.0,874.3 1739.0,874.9 1741.0,875.3 1743.0,875.2 1745.0,875.1 1747.0,874.5 1749.0,874.4 1751.0,875.2 1753.0,876.0 1755.0,875.1 1757.0,874.4 1759.0,874.8 1761.0,875.3 1763.0,876.2 1765.0,876.1 1767.0,875.0 1769.0,874.8 1771.0,875.2 1773.0,875.4 1775.0,875.1 1777.0,875.9 1779.0,875.5 1781.0,875.7 1783.0,875.6 1785.0,875.9 1787.0,875.7 1789.0,875.9 1791.0,876.4 1793.0,876.1 1795.0,876.4 1797.0,875.2 1799.0,875.4 1801.0,875.0 1803.0,874.9 1805.0,875.8 1807.0,876.8 1809.0,876.3 1811.0,876.2 1813.0,874.9 1815.0,875.6 1817.0,875.3 1819.0,876.0 1821.0,876.4 1823.0,875.9 1825.0,876.3 1827.0,875.6 1829.0,875.8 1831.0,875.6 1833.0,875.9 1835.0,875.6 1837.0,874.7 1839.0,875.4 1841.0,875.8 1843.0,876.5 1845.0,874.8 1847.0,875.8 1849.0,876.6 1851.0,877.2 1853.0,876.9 1855.0,876.3 1857.0,876.7 1859.0,876.1 1861.0,875.8 1863.0,875.7 1865.0,875.9 1867.0,876.6 1869.0,875.1 1871.0,875.1 1873.0,876.4 1875.0,876.5 1877.0,876.5 1879.0,876.1 1881.0,876.3 1883.0,875.9 1885.0,875.7 1887.0,875.8 1889.0,876.1 1891.0,876.1 1893.0,876.0 1895.0,876.9 1897.0,876.4 1899.0,875.8 1901.0,875.3 1903.0,875.7 1905.0,875.1 1907.0,875.3 1909.0,875.3 1911.0,875.5 1913.0,875.7 1915.0,874.5 1917.0,876.5 1919.0,876.4 1921.0,875.8 1923.0,875.8 1925.0,876.4 1927.0,876.3 1929.0,877.0 1931.0,876.1 1933.0,875.4 1935.0,875.2 1937.0,876.0 1939.0,876.5 1941.0,875.7 1943.0,876.8 1945.0,876.7 1947.0,876.2 1949.0,876.6 1951.0,875.1 1953.0,874.8 1955.0,876.1 1957.0,876.5 1959.0,876.4 1961.0,876.0 1963.0,875.5 1965.0,876.3 1967.0,876.2 1969.0,876.7 1971.0,876.3 1973.0,875.7 1975.0,876.5 1977.0,876.8 1979.0,876.7 1981.0,875.9 1983.0,875.7 1985.0,876.6 1987.0,876.3 1989.0,876.4 1991.0,877.0 1993.0,877.1 1995.0,876.7 1997.0,876.5 1999.0,877.0 2001.0,876.0 2003.0,876.3 2005.0,876.4 2007.0,875.6 2009.0,876.0 2011.0,876.8 2013.0,876.4 2015.0,876.1 2017.0,877.3 2019.0,876.8 2021.0,876.8 2023.0,877.4 2025.0,875.9 2027.0,876.0 2029.0,876.2 2031.0,877.1 2033.0,876.6 2035.0,877.9 2037.0,877.2 2039.0,877.0 2041.0,877.2 2043.0,876.6 2045.0,876.1 2047.0,876.3 2049.0,876.6 2051.0,876.3 2053.0,876.7 2055.0,876.5 2057.0,876.7 2059.0,877.0 2061.0,878.0 2063.0,878.6 2065.0,878.2 2067.0,877.1 2069.0,876.8 2071.0,877.8 2073.0,878.1 2075.0,877.8 2077.0,877.1 2079.0,877.4 2081.0,877.3 2083.0,878.0 2085.0,878.0 2087.0,877.6 2089.0,877.5 2091.0,878.4 2093.0,877.9 2095.0,878.1 2097.0,878.1 2099.0,878.3 2101.0,878.4 2103.0,877.6 2105.0,877.5 2106.0,878.0 2114.0,882.1" stroke="#ff8000"/>
<path d="M305.0,615.9 313.0,615.6 315.0,615.5 317.0,615.4 319.0,615.4 321.0,615.3 323.0,615.2 325.0,615.1 327.0,615.0 329.0,614.9 331.0,614.9 333.0,614.8 335.0,614.7 337.0,614.6 339.0,614.5 341.0,614.4 343.0,614.3 345.0,614.2 347.0,614.2 349.0,614.1 351.0,614.0 353.0,613.9 355.0,613.8 357.0,613.7 359.0,613.6 361.0,613.6 363.0,613.5 365.0,613.4 367.0,613.3 369.0,613.3 371.0,613.2 373.0,613.1 375.0,613.1 377.0,613.0 379.0,613.0 381.0,612.9 383.0,612.9 385.0,612.8 387.0,612.7 389.0,612.7 391.0,612.6 393.0,612.5 395.0,612.4 397.0,612.3 399.0,612.2 401.0,612.1 403.0,611.9 405.0,611.8 407.0,611.6 409.0,611.5 411.0,611.3 413.0,611.1 415.0,610.8 417.0,610.6 419.0,610.3 421.0,610.0 423.0,609.7 425.0,609.3 427.0,609.0 429.0,608.6 431.0,608.1 433.0,607.7 435.0,607.2 437.0,606.7 439.0,606.1 441.0,605.6 443.0,605.0 445.0,604.4 447.0,603.7 449.0,603.0 451.0,602.4 453.0,601.6 455.0,600.9 457.0,600.2 459.0,599.4 461.0,598.6 463.0,597.9 465.0,597.1 467.0,596.2 469.0,595.4 471.0,594.6 473.0,593.7 475.0,592.9 477.0,592.0 479.0,591.2 481.0,590.3 483.0,589.5 485.0,588.6 487.0,587.7 489.0,586.9 491.0,586.0 493.0,585.1 495.0,584.3 497.0,583.4 499.0,582.6 501.0,581.8 503.0,581.0 505.0,580.1 507.0,579.3 509.0,578.5 511.0,577.8 513.0,577.0 515.0,576.3 517.0,575.5 519.0,574.8 521.0,574.1 523.0,573.4 525.0,572.8 527.0,572.1 529.0,571.5 531.0,570.9 533.0,570.3 535.0,569.8 537.0,569.3 539.0,568.8 541.0,568.3 543.0,567.9 545.0,567.4 547.0,567.1 549.0,566.7 551.0,566.4 553.0,566.1 555.0,565.9 557.0,565.7 559.0,565.5 561.0,565.4 563.0,565.3 565.0,565.3 567.0,565.3 569.0,565.4 571.0,565.6 573.0,565.8 575.0,566.1 577.0,566.3 579.0,566.6 581.0,567.0 583.0,567.5 585.0,568.0 587.0,568.6 589.0,569.4 591.0,570.1 593.0,571.0 595.0,571.9 597.0,572.9 599.0,573.9 601.0,575.0 603.0,576.2 605.0,577.3 607.0,578.6 609.0,579.8 611.0,581.1 613.0,582.4 615.0,583.7 617.0,585.1 619.0,586.4 621.0,587.8 623.0,589.2 625.0,590.6 627.0,591.9 629.0,593.4 631.0,594.8 633.0,596.2 635.0,597.6 637.0,599.0 639.0,600.4 641.0,601.7 643.0,603.1 645.0,604.5 647.0,605.8 649.0,607.2 651.0,608.5 653.0,609.8 655.0,611.0 657.0,612.3 659.0,613.5 661.0,614.6 663.0,615.8 665.0,616.9 667.0,617.9 669.0,618.9 671.0,619.9 673.0,620.8 675.0,621.7 677.0,622.5 679.0,623.2 681.0,624.0 683.0,624.7 685.0,625.4 687.0,626.0 689.0,626.6 691.0,627.3 693.0,627.9 695.0,628.5 697.0,629.1 699.0,629.7 701.0,630.3 703.0,630.9 705.0,631.5 707.0,632.2 709.0,632.9 711.0,633.6 713.0,634.3 715.0,635.1 717.0,635.9 719.0,636.8 721.0,637.7 723.0,638.7 725.0,639.7 727.0,640.8 729.0,642.0 731.0,643.2 733.0,644.5 735.0,645.9 737.0,647.4 739.0,648.9 741.0,650.5 743.0,652.2 745.0,653.9 747.0,655.7 749.0,657.5 751.0,659.3 753.0,661.2 755.0,663.1 757.0,665.0 759.0,667.0 761.0,669.0 763.0,670.9 765.0,672.9 767.0,674.9 769.0,676.9 771.0,678.9 773.0,680.8 775.0,682.8 777.0,684.8 779.0,686.8 781.0,688.9 783.0,690.9 785.0,692.9 787.0,694.9 789.0,697.0 791.0,699.0 793.0,701.1 795.0,703.2 797.0,705.3 799.0,707.3 801.0,709.4 803.0,711.5 805.0,713.6 807.0,715.6 809.0,717.6 811.0,719.6 813.0,721.6 815.0,723.6 817.0,725.5 819.0,727.3 821.0,729.1 823.0,730.9 825.0,732.6 827.0,734.3 829.0,735.9 831.0,737.3 833.0,738.6 835.0,739.8 837.0,740.9 839.0,742.0 841.0,742.9 843.0,743.8 845.0,744.7 847.0,745.4 849.0,746.1 851.0,746.6 853.0,747.1 855.0,747.5 857.0,747.8 859.0,748.0 861.0,748.2 863.0,748.4 865.0,748.4 867.0,748.5 869.0,748.6 871.0,748.6 873.0,748.7 875.0,748.8 877.0,748.9 879.0,749.0 881.0,749.2 883.0,749.5 885.0,749.8 887.0,750.2 889.0,750.7 891.0,751.3 893.0,751.9 895.0,752.5 897.0,753.2 899.0,753.9 901.0,754.7 903.0,755.5 905.0,756.3 907.0,757.1 909.0,758.0 911.0,758.9 913.0,759.7 915.0,760.6 917.0,761.5 919.0,762.4 921.0,763.2 923.0,764.1 925.0,765.0 927.0,765.9 929.0,766.8 931.0,767.6 933.0,768.5 935.0,769.4 937.0,770.3 939.0,771.2 941.0,772.2 943.0,773.1 945.0,774.0 947.0,774.9 949.0,775.9 951.0,776.8 953.0,777.8 955.0,778.7 957.0,779.7 959.0,780.7 961.0,781.7 963.0,782.7 965.0,783.7 967.0,784.7 969.0,785.7 971.0,786.8 973.0,787.8 975.0,788.9 977.0,790.0 979.0,791.1 981.0,792.2 983.0,793.3 985.0,794.4 987.0,795.6 989.0,796.7 991.0,797.8 993.0,799.0 995.0,800.2 997.0,801.3 999.0,802.5 1001.0,803.7 1003.0,804.8 1005.0,806.0 1007.0,807.2 1009.0,808.4 1011.0,809.6 1013.0,810.7 1015.0,811.9 1017.0,813.1 1019.0,814.3 1021.0,815.5 1023.0,816.6 1025.0,817.8 1027.0,819.0 1029.0,820.1 1031.0,821.3 1033.0,822.4 1035.0,823.5 1037.0,824.7 1039.0,825.8 1041.0,826.9 1043.0,828.0 1045.0,829.1 1047.0,830.2 1049.0,831.2 1051.0,832.3 1053.0,833.3 1055.0,834.4 1057.0,835.4 1059.0,836.4 1061.0,837.3 1063.0,838.3 1065.0,839.3 1067.0,840.2 1069.0,841.1 1071.0,842.0 1073.0,842.8 1075.0,843.7 1077.0,844.5 1079.0,845.3 1081.0,846.1 1083.0,846.9 1085.0,847.6 1087.0,848.3 1089.0,849.0 1091.0,849.6 1093.0,850.3 1095.0,850.9 1097.0,851.5 1099.0,852.0 1101.0,852.5 1103.0,853.0 1105.0,853.5 1107.0,853.9 1109.0,854.4 1111.0,854.8 1113.0,855.2 1115.0,855.5 1117.0,855.9 1119.0,856.2 1121.0,856.5 1123.0,856.8 1125.0,857.0 1127.0,857.3 1129.0,857.5 1131.0,857.7 1133.0,857.9 1135.0,858.1 1137.0,858.3 1139.0,858.5 1141.0,858.6 1143.0,858.7 1145.0,858.8 1147.0,859.0 1149.0,859.1 1151.0,859.1 1153.0,859.2 1155.0,859.3 1157.0,859.4 1159.0,859.4 1161.0,859.5 1163.0,859.5 1165.0,859.5 1167.0,859.6 1169.0,859.6 1171.0,859.6 1173.0,859.6 1175.0,859.6 1177.0,859.7 1179.0,859.7 1181.0,859.7 1183.0,859.7 1185.0,859.7 1187.0,859.7 1189.0,859.7 1191.0,859.8 1193.0,859.8 1195.0,859.8 1197.0,859.9 1199.0,859.9 1201.0,859.9 1203.0,860.0 1205.0,860.0 1207.0,860.1 1209.0,860.2 1211.0,860.2 1213.0,860.3 1215.0,860.4 1217.0,860.5 1219.0,860.6 1221.0,860.7 1223.0,860.9 1225.0,861.0 1227.0,861.1 1229.0,861.2 1231.0,861.4 1233.0,861.5 1235.0,861.6 1237.0,861.8 1239.0,861.9 1241.0,862.1 1243.0,862.2 1245.0,862.4 1247.0,862.5 1249.0,862.6 1251.0,862.8 1253.0,862.9 1255.0,863.1 1257.0,863.2 1259.0,863.3 1261.0,863.5 1263.0,863.6 1265.0,863.7 1267.0,863.8 1269.0,863.9 1271.0,864.0 1273.0,864.1 1275.0,864.2 1277.0,864.3 1279.0,864.4 1281.0,864.5 1283.0,864.6 1285.0,864.6 1287.0,864.7 1289.0,864.8 1291.0,864.8 1293.0,864.9 1295.0,864.9 1297.0,864.9 1299.0,865.0 1301.0,865.0 1303.0,865.0 1305.0,865.0 1307.0,865.0 1309.0,865.0 1311.0,865.0 1313.0,865.0 1315.0,865.0 1317.0,865.0 1319.0,864.9 1321.0,864.9 1323.0,864.9 1325.0,864.8 1327.0,864.8 1329.0,864.7 1331.0,864.6 1333.0,864.6 1335.0,864.5 1337.0,864.4 1339.0,864.3 1341.0,864.2 1343.0,864.1 1345.0,864.0 1347.0,863.9 1349.0,863.8 1351.0,863.7 1353.0,863.5 1355.0,863.4 1357.0,863.3 1359.0,863.2 1361.0,863.0 1363.0,862.9 1365.0,862.7 1367.0,862.6 1369.0,862.5 1371.0,862.3 1373.0,862.2 1375.0,862.0 1377.0,861.9 1379.0,861.7 1381.0,861.6 1383.0,861.5 1385.0,861.3 1387.0,861.2 1389.0,861.0 1391.0,860.9 1393.0,860.7 1395.0,860.6 1397.0,860.5 1399.0,860.3 1401.0,860.2 1403.0,860.1 1405.0,859.9 1407.0,859.8 1409.0,859.7 1411.0,859.6 1413.0,859.5 1415.0,859.3 1417.0,859.2 1419.0,859.1 1421.0,859.0 1423.0,858.9 1425.0,858.9 1427.0,858.8 1429.0,858.7 1431.0,858.6 1433.0,858.6 1435.0,858.5 1437.0,858.5 1439.0,858.4 1441.0,858.4 1443.0,858.3 1445.0,858.3 1447.0,858.3 1449.0,858.3 1451.0,858.3 1453.0,858.3 1455.0,858.3 1457.0,858.3 1459.0,858.4 1461.0,858.4 1463.0,858.4 1465.0,858.5 1467.0,858.5 1469.0,858.5 1471.0,858.6 1473.0,858.6 1475.0,858.7 1477.0,858.7 1479.0,858.8 1481.0,858.8 1483.0,858.8 1485.0,858.9 1487.0,858.9 1489.0,858.9 1491.0,859.0 1493.0,859.0 1495.0,859.0 1497.0,859.0 1499.0,859.0 1501.0,859.0 1503.0,859.0 1505.0,859.0 1507.0,858.9 1509.0,858.9 1511.0,858.8 1513.0,858.8 1515.0,858.7 1517.0,858.6 1519.0,858.5 1521.0,858.3 1523.0,858.1 1525.0,857.9 1527.0,857.7 1529.0,857.4 1531.0,857.1 1533.0,856.7 1535.0,856.3 1537.0,855.9 1539.0,855.4 1541.0,854.9 1543.0,854.3 1545.0,853.6 1547.0,853.0 1549.0,852.3 1551.0,851.5 1553.0,850.7 1555.0,849.9 1557.0,849.0 1559.0,848.1 1561.0,847.1 1563.0,846.1 1565.0,845.1 1567.0,844.0 1569.0,842.9 1571.0,841.7 1573.0,840.6 1575.0,839.4 1577.0,838.1 1579.0,836.9 1581.0,835.6 1583.0,834.3 1585.0,833.0 1587.0,831.7 1589.0,830.4 1591.0,829.1 1593.0,827.8 1595.0,826.4 1597.0,825.1 1599.0,823.8 1601.0,822.5 1603.0,821.2 1605.0,819.9 1607.0,818.6 1609.0,817.3 1611.0,816.1 1613.0,814.9 1615.0,813.7 1617.0,812.5 1619.0,811.4 1621.0,810.3 1623.0,809.3 1625.0,808.3 1627.0,807.3 1629.0,806.4 1631.0,805.5 1633.0,804.7 1635.0,804.0 1637.0,803.4 1639.0,802.9 1641.0,802.6 1643.0,802.4 1645.0,802.3 1647.0,802.4 1649.0,802.6 1651.0,803.1 1653.0,803.8 1655.0,804.7 1657.0,805.8 1659.0,807.1 1661.0,808.7 1663.0,810.5 1665.0,812.4 1667.0,814.5 1669.0,816.8 1671.0,819.1 1673.0,821.5 1675.0,824.0 1677.0,826.5 1679.0,829.1 1681.0,831.6 1683.0,834.1 1685.0,836.5 1687.0,838.9 1689.0,841.1 1691.0,843.3 1693.0,845.4 1695.0,847.3 1697.0,849.2 1699.0,851.0 1701.0,852.7 1703.0,854.3 1705.0,855.9 1707.0,857.3 1709.0,858.7 1711.0,860.0 1713.0,861.2 1715.0,862.4 1717.0,863.5 1719.0,864.5 1721.0,865.5 1723.0,866.4 1725.0,867.3 1727.0,868.1 1729.0,868.8 1731.0,869.5 1733.0,870.2 1735.0,870.8 1737.0,871.4 1739.0,871.9 1741.0,872.4 1743.0,872.8 1745.0,873.3 1747.0,873.7 1749.0,874.0 1751.0,874.4 1753.0,874.7 1755.0,875.0 1757.0,875.3 1759.0,875.5 1761.0,875.7 1763.0,875.9 1765.0,876.1 1767.0,876.3 1769.0,876.4 1771.0,876.6 1773.0,876.7 1775.0,876.8 1777.0,876.9 1779.0,877.0 1781.0,877.0 1783.0,877.1 1785.0,877.1 1787.0,877.1 1789.0,877.2 1791.0,877.2 1793.0,877.2 1795.0,877.2 1797.0,877.2 1799.0,877.2 1801.0,877.2 1803.0,877.2 1805.0,877.2 1807.0,877.2 1809.0,877.2 1811.0,877.2 1813.0,877.2 1815.0,877.2 1817.0,877.2 1819.0,877.2 1821.0,877.2 1823.0,877.2 1825.0,877.2 1827.0,877.2 1829.0,877.2 1831.0,877.2 1833.0,877.2 1835.0,877.2 1837.0,877.2 1839.0,877.2 1841.0,877.2 1843.0,877.2 1845.0,877.2 1847.0,877.2 1849.0,877.2 1851.0,877.2 1853.0,877.3 1855.0,877.3 1857.0,877.3 1859.0,877.3 1861.0,877.3 1863.0,877.3 1865.0,877.3 1867.0,877.3 1869.0,877.4 1871.0,877.4 1873.0,877.4 1875.0,877.4 1877.0,877.4 1879.0,877.4 1881.0,877.4 1883.0,877.5 1885.0,877.5 1887.0,877.5 1889.0,877.5 1891.0,877.5 1893.0,877.5 1895.0,877.6 1897.0,877.6 1899.0,877.6 1901.0,877.6 1903.0,877.6 1905.0,877.6 1907.0,877.6 1909.0,877.7 1911.0,877.7 1913.0,877.7 1915.0,877.7 1917.0,877.7 1919.0,877.7 1921.0,877.7 1923.0,877.8 1925.0,877.8 1927.0,877.8 1929.0,877.8 1931.0,877.8 1933.0,877.8 1935.0,877.8 1937.0,877.8 1939.0,877.8 1941.0,877.9 1943.0,877.9 1945.0,877.9 1947.0,877.9 1949.0,877.9 1951.0,877.9 1953.0,877.9 1955.0,877.9 1957.0,877.9 1959.0,877.9 1961.0,877.9 1963.0,877.9 1965.0,877.9 1967.0,877.9 1969.0,877.9 1971.0,877.9 1973.0,877.9 1975.0,877.9 1977.0,877.9 1979.0,878.0 1981.0,878.0 1983.0,878.0 1985.0,878.0 1987.0,878.0 1989.0,878.0 1991.0,878.0 1993.0,878.0 1995.0,878.0 1997.0,878.0 1999.0,878.0 2001.0,878.0 2003.0,878.0 2005.0,878.0 2007.0,878.0 2009.0,878.0 2011.0,878.0 2013.0,878.0 2015.0,878.0 2017.0,878.0 2019.0,878.0 2021.0,878.0 2023.0,877.9 2025.0,877.9 2027.0,877.9 2029.0,877.9 2031.0,877.9 2033.0,877.9 2035.0,877.9 2037.0,877.9 2039.0,877.9 2041.0,877.9 2043.0,877.9 2045.0,877.9 2047.0,877.9 2049.0,877.9 2051.0,877.9 2053.0,877.9 2055.0,877.9 2057.0,877.9 2059.0,877.9 2061.0,877.9 2063.0,877.9 2065.0,877.9 2067.0,877.9 2069.0,877.9 2071.0,877.9 2073.0,877.9 2075.0,877.9 2077.0,877.9 2079.0,877.9 2081.0,877.9 2083.0,877.9 2085.0,877.9 2087.0,877.9 2089.0,877.9 2091.0,877.9 2093.0,877.9 2095.0,877.9 2097.0,877.9 2099.0,877.9 2101.0,877.9 2103.0,877.9 2105.0,877.9 2106.0,877.9 2114.0,877.9" stroke="#008000"/>
</g>
<g font-size="75" fill="#000">
<g text-anchor="end">
<text x="255" y="907.2">0.0</text>
<text x="255" y="758.2">0.5</text>
<text x="255" y="609.2">1.0</text>
<text x="255" y="460.3">1.5</text>
<text x="255" y="311.3">2.0</text>
<text x="255" y="162.3">2.5</text>
</g><g text-anchor="middle">
<text x="313.0" y="1001.2">300</text>
<text x="492.3" y="1001.2">350</text>
<text x="671.6" y="1001.2">400</text>
<text x="850.9" y="1001.2">450</text>
<text x="1030.2" y="1001.2">500</text>
<text x="1209.5" y="1001.2">550</text>
<text x="1388.8" y="1001.2">600</text>
<text x="1568.1" y="1001.2">650</text>
<text x="1747.4" y="1001.2">700</text>
<text x="1926.7" y="1001.2">750</text>
<text x="2106.0" y="1001.2">800</text>
</g></g>
<g font-weight="bold" fill="#000">
<text x="40" y="76.5" font-size="65">(A)</text>
<text x="1208.5" y="1096" font-size="58" text-anchor="middle">Wavelength (nm)</text>
<text transform="translate(83.3,514.0) rotate(-90)" font-size="58" text-anchor="middle">Absorbance (a.u.)</text>
<g stroke-width="13.5" stroke-linecap="round">
<path d="M1684,267.0H1794" stroke="#008000"/>
<path d="M1684,346.4H1794" stroke="#ff8000"/>
<path d="M1684,425.8H1794" stroke="#ff00ff"/>
<path d="M1684,505.2H1794" stroke="#0000ff"/>
<path d="M1684,584.6H1794" stroke="#ff0000"/>
<path d="M1684,664.0H1794" stroke="#000000"/>
</g>
<g font-size="58">
<text x="1824" y="284.0">EXT-<tspan font-style="italic">AL</tspan></text>
<text x="1824" y="363.4">10 <tspan class="mu">μ</tspan>g/mL</text>
<text x="1824" y="442.8">20 <tspan class="mu">μ</tspan>g/mL</text>
<text x="1824" y="522.2">50 <tspan class="mu">μ</tspan>g/mL</text>
<text x="1824" y="601.6">100 <tspan class="mu">μ</tspan>g/mL</text>
<text x="1824" y="681.0">200 <tspan class="mu">μ</tspan>g/mL</text>
</g></g>
</g>
<g id="panelB">
<g stroke="#000" stroke-width="7" fill="none" stroke-linecap="butt">
<path d="M313.0,1199.8V1985.0"/>
<path d="M276.0,1948.0H2109.5"/>
<path d="M293.0,1926.7H313.0M293.0,1905.4H313.0M293.0,1884.2H313.0M293.0,1862.9H313.0M276.0,1841.6H313.0M293.0,1820.3H313.0M293.0,1799.1H313.0M293.0,1777.8H313.0M293.0,1756.5H313.0M276.0,1735.2H313.0M293.0,1714.0H313.0M293.0,1692.7H313.0M293.0,1671.4H313.0M293.0,1650.1H313.0M276.0,1628.8H313.0M293.0,1607.6H313.0M293.0,1586.3H313.0M293.0,1565.0H313.0M293.0,1543.7H313.0M276.0,1522.5H313.0M293.0,1501.2H313.0M293.0,1479.9H313.0M293.0,1458.6H313.0M293.0,1437.3H313.0M276.0,1416.1H313.0M293.0,1394.8H313.0M293.0,1373.5H313.0M293.0,1352.2H313.0M293.0,1331.0H313.0M276.0,1309.7H313.0M293.0,1288.4H313.0M293.0,1267.1H313.0M293.0,1245.9H313.0M293.0,1224.6H313.0M276.0,1203.3H313.0M348.9,1948.0V1968.0M384.7,1948.0V1968.0M420.6,1948.0V1968.0M456.4,1948.0V1968.0M492.3,1948.0V1985.0M528.2,1948.0V1968.0M564.0,1948.0V1968.0M599.9,1948.0V1968.0M635.7,1948.0V1968.0M671.6,1948.0V1985.0M707.5,1948.0V1968.0M743.3,1948.0V1968.0M779.2,1948.0V1968.0M815.0,1948.0V1968.0M850.9,1948.0V1985.0M886.8,1948.0V1968.0M922.6,1948.0V1968.0M958.5,1948.0V1968.0M994.3,1948.0V1968.0M1030.2,1948.0V1985.0M1066.1,1948.0V1968.0M1101.9,1948.0V1968.0M1137.8,1948.0V1968.0M1173.6,1948.0V1968.0M1209.5,1948.0V1985.0M1245.4,1948.0V1968.0M1281.2,1948.0V1968.0M1317.1,1948.0V1968.0M1352.9,1948.0V1968.0M1388.8,1948.0V1985.0M1424.7,1948.0V1968.0M1460.5,1948.0V1968.0M1496.4,1948.0V1968.0M1532.2,1948.0V1968.0M1568.1,1948.0V1985.0M1604.0,1948.0V1968.0M1639.8,1948.0V1968.0M1675.7,1948.0V1968.0M1711.5,1948.0V1968.0M1747.4,1948.0V1985.0M1783.3,1948.0V1968.0M1819.1,1948.0V1968.0M1855.0,1948.0V1968.0M1890.8,1948.0V1968.0M1926.7,1948.0V1985.0M1962.6,1948.0V1968.0M1998.4,1948.0V1968.0M2034.3,1948.0V1968.0M2070.1,1948.0V1968.0M2106.0,1948.0V1985.0" stroke-width="5.5"/>
</g>
<g fill="none" stroke-width="11.5" stroke-linejoin="round" stroke-linecap="butt" clip-path="url(#clipB)">
<path d="M305.0,1449.3 313.0,1469.0 315.0,1474.0 317.0,1478.8 319.0,1483.5 321.0,1488.2 323.0,1492.9 325.0,1497.6 327.0,1502.3 329.0,1507.0 331.0,1511.8 333.0,1516.4 335.0,1521.0 337.0,1525.5 339.0,1530.0 341.0,1534.5 343.0,1539.0 345.0,1543.6 347.0,1547.9 349.0,1552.2 351.0,1556.5 353.0,1560.7 355.0,1565.0 357.0,1569.0 359.0,1573.2 361.0,1577.3 363.0,1580.8 365.0,1584.7 367.0,1588.6 369.0,1592.4 371.0,1595.9 373.0,1599.6 375.0,1603.1 377.0,1606.5 379.0,1609.6 381.0,1613.1 383.0,1616.4 385.0,1619.3 387.0,1622.1 389.0,1624.9 391.0,1627.5 393.0,1630.4 395.0,1633.1 397.0,1635.3 399.0,1637.3 401.0,1639.7 403.0,1641.8 405.0,1643.7 407.0,1645.6 409.0,1647.0 411.0,1648.6 413.0,1650.2 415.0,1651.5 417.0,1652.6 419.0,1653.6 421.0,1654.3 423.0,1654.9 425.0,1655.6 427.0,1655.8 429.0,1655.8 431.0,1656.1 433.0,1656.1 435.0,1655.8 437.0,1655.3 439.0,1654.5 441.0,1653.5 443.0,1652.8 445.0,1651.7 447.0,1650.2 449.0,1649.0 451.0,1647.5 453.0,1646.0 455.0,1644.1 457.0,1642.2 459.0,1640.1 461.0,1637.7 463.0,1635.4 465.0,1633.3 467.0,1630.9 469.0,1628.4 471.0,1625.8 473.0,1623.1 475.0,1620.5 477.0,1617.7 479.0,1614.7 481.0,1611.7 483.0,1608.7 485.0,1605.9 487.0,1603.1 489.0,1600.2 491.0,1597.1 493.0,1594.2 495.0,1591.2 497.0,1588.3 499.0,1585.1 501.0,1582.1 503.0,1578.9 505.0,1575.6 507.0,1572.4 509.0,1569.6 511.0,1566.7 513.0,1563.7 515.0,1560.4 517.0,1557.4 519.0,1554.3 521.0,1551.0 523.0,1548.2 525.0,1545.1 527.0,1542.1 529.0,1539.2 531.0,1536.1 533.0,1533.1 535.0,1530.0 537.0,1526.9 539.0,1524.0 541.0,1521.1 543.0,1518.0 545.0,1514.9 547.0,1512.3 549.0,1509.2 551.0,1506.2 553.0,1503.3 555.0,1500.3 557.0,1497.5 559.0,1494.8 561.0,1491.7 563.0,1489.2 565.0,1486.5 567.0,1483.8 569.0,1481.2 571.0,1478.6 573.0,1476.1 575.0,1473.7 577.0,1471.7 579.0,1469.4 581.0,1467.3 583.0,1465.3 585.0,1463.6 587.0,1461.8 589.0,1460.0 591.0,1458.5 593.0,1457.0 595.0,1455.4 597.0,1454.2 599.0,1452.7 601.0,1451.0 603.0,1449.5 605.0,1447.9 607.0,1446.4 609.0,1445.0 611.0,1443.6 613.0,1442.1 615.0,1440.7 617.0,1439.5 619.0,1438.2 621.0,1437.0 623.0,1435.7 625.0,1434.5 627.0,1433.3 629.0,1432.0 631.0,1431.2 633.0,1430.3 635.0,1429.3 637.0,1428.2 639.0,1427.3 641.0,1426.2 643.0,1425.3 645.0,1424.4 647.0,1423.5 649.0,1422.6 651.0,1421.9 653.0,1421.0 655.0,1420.2 657.0,1419.5 659.0,1418.7 661.0,1417.8 663.0,1417.1 665.0,1416.5 667.0,1415.9 669.0,1415.3 671.0,1414.7 673.0,1413.9 675.0,1413.2 677.0,1412.6 679.0,1412.1 681.0,1411.6 683.0,1411.1 685.0,1410.7 687.0,1410.2 689.0,1409.5 691.0,1409.0 693.0,1408.4 695.0,1408.1 697.0,1407.4 699.0,1407.0 701.0,1406.5 703.0,1406.3 705.0,1405.9 707.0,1405.4 709.0,1404.9 711.0,1404.4 713.0,1403.8 715.0,1403.5 717.0,1403.2 719.0,1402.5 721.0,1402.2 723.0,1401.9 725.0,1401.5 727.0,1401.0 729.0,1400.4 731.0,1400.1 733.0,1399.5 735.0,1399.0 737.0,1398.4 739.0,1398.1 741.0,1397.6 743.0,1397.1 745.0,1396.3 747.0,1396.0 749.0,1395.6 751.0,1395.1 753.0,1394.8 755.0,1394.5 757.0,1393.8 759.0,1393.3 761.0,1392.7 763.0,1392.2 765.0,1391.6 767.0,1391.3 769.0,1390.7 771.0,1390.2 773.0,1389.8 775.0,1389.2 777.0,1388.8 779.0,1388.4 781.0,1388.1 783.0,1387.6 785.0,1387.2 787.0,1386.7 789.0,1386.2 791.0,1385.8 793.0,1385.3 795.0,1385.0 797.0,1384.5 799.0,1384.1 801.0,1383.8 803.0,1383.1 805.0,1382.7 807.0,1382.4 809.0,1382.0 811.0,1381.6 813.0,1381.3 815.0,1380.8 817.0,1380.4 819.0,1379.8 821.0,1379.7 823.0,1379.1 825.0,1378.6 827.0,1378.4 829.0,1377.8 831.0,1377.3 833.0,1376.8 835.0,1376.5 837.0,1376.0 839.0,1375.6 841.0,1375.2 843.0,1374.8 845.0,1374.4 847.0,1374.1 849.0,1373.8 851.0,1373.3 853.0,1372.7 855.0,1372.1 857.0,1371.6 859.0,1371.3 861.0,1370.8 863.0,1370.5 865.0,1370.0 867.0,1369.6 869.0,1369.1 871.0,1368.7 873.0,1368.3 875.0,1367.5 877.0,1367.2 879.0,1366.9 881.0,1366.5 883.0,1366.0 885.0,1365.5 887.0,1365.2 889.0,1364.7 891.0,1364.2 893.0,1363.8 895.0,1363.5 897.0,1363.1 899.0,1362.6 901.0,1362.2 903.0,1361.5 905.0,1361.4 907.0,1360.7 909.0,1360.4 911.0,1359.8 913.0,1359.6 915.0,1359.4 917.0,1359.2 919.0,1358.5 921.0,1357.9 923.0,1357.9 925.0,1357.6 927.0,1357.4 929.0,1357.0 931.0,1356.4 933.0,1356.2 935.0,1355.9 937.0,1355.7 939.0,1355.3 941.0,1355.1 943.0,1354.8 945.0,1354.3 947.0,1354.2 949.0,1354.3 951.0,1354.0 953.0,1353.7 955.0,1353.5 957.0,1353.4 959.0,1353.2 961.0,1352.9 963.0,1352.6 965.0,1352.7 967.0,1352.4 969.0,1352.2 971.0,1352.2 973.0,1352.0 975.0,1351.9 977.0,1351.9 979.0,1351.9 981.0,1351.8 983.0,1351.7 985.0,1351.5 987.0,1351.4 989.0,1351.5 991.0,1351.6 993.0,1351.8 995.0,1351.7 997.0,1351.8 999.0,1352.1 1001.0,1352.1 1003.0,1352.0 1005.0,1352.2 1007.0,1352.3 1009.0,1352.6 1011.0,1352.6 1013.0,1352.6 1015.0,1352.9 1017.0,1352.9 1019.0,1353.4 1021.0,1353.4 1023.0,1353.4 1025.0,1354.0 1027.0,1353.9 1029.0,1353.9 1031.0,1354.6 1033.0,1354.6 1035.0,1354.9 1037.0,1355.2 1039.0,1355.5 1041.0,1355.8 1043.0,1355.9 1045.0,1356.7 1047.0,1356.8 1049.0,1357.0 1051.0,1357.4 1053.0,1357.7 1055.0,1358.1 1057.0,1358.5 1059.0,1358.9 1061.0,1359.2 1063.0,1359.5 1065.0,1359.9 1067.0,1360.2 1069.0,1360.7 1071.0,1360.9 1073.0,1361.3 1075.0,1361.9 1077.0,1362.2 1079.0,1362.8 1081.0,1363.3 1083.0,1363.4 1085.0,1364.1 1087.0,1364.8 1089.0,1365.1 1091.0,1365.7 1093.0,1365.9 1095.0,1366.2 1097.0,1366.8 1099.0,1367.4 1101.0,1368.1 1103.0,1368.5 1105.0,1369.0 1107.0,1369.5 1109.0,1370.2 1111.0,1370.4 1113.0,1370.9 1115.0,1371.6 1117.0,1372.3 1119.0,1373.0 1121.0,1373.6 1123.0,1373.9 1125.0,1374.6 1127.0,1375.1 1129.0,1376.2 1131.0,1376.5 1133.0,1377.0 1135.0,1378.0 1137.0,1378.7 1139.0,1379.5 1141.0,1380.2 1143.0,1380.7 1145.0,1381.7 1147.0,1382.5 1149.0,1383.4 1151.0,1384.4 1153.0,1385.3 1155.0,1386.4 1157.0,1387.5 1159.0,1388.5 1161.0,1389.6 1163.0,1390.9 1165.0,1391.9 1167.0,1393.1 1169.0,1394.4 1171.0,1395.7 1173.0,1396.7 1175.0,1398.2 1177.0,1399.8 1179.0,1401.1 1181.0,1402.5 1183.0,1403.9 1185.0,1405.4 1187.0,1406.8 1189.0,1408.5 1191.0,1409.8 1193.0,1411.2 1195.0,1412.9 1197.0,1414.6 1199.0,1417.0 1201.0,1418.1 1203.0,1419.5 1205.0,1421.0 1207.0,1422.9 1209.0,1424.2 1211.0,1425.8 1213.0,1427.4 1215.0,1429.2 1217.0,1430.9 1219.0,1432.5 1221.0,1434.6 1223.0,1436.0 1225.0,1438.4 1227.0,1440.4 1229.0,1441.5 1231.0,1443.4 1233.0,1445.7 1235.0,1447.1 1237.0,1449.1 1239.0,1450.9 1241.0,1452.6 1243.0,1454.4 1245.0,1456.9 1247.0,1458.6 1249.0,1460.2 1251.0,1462.1 1253.0,1463.8 1255.0,1466.5 1257.0,1468.8 1259.0,1471.1 1261.0,1472.2 1263.0,1475.2 1265.0,1476.7 1267.0,1478.8 1269.0,1479.5 1271.0,1482.3 1273.0,1484.5 1275.0,1485.5 1277.0,1488.6 1279.0,1490.9 1281.0,1492.1 1283.0,1495.0 1285.0,1497.1 1287.0,1499.2 1289.0,1500.3 1291.0,1501.8 1293.0,1504.2 1295.0,1506.4 1297.0,1507.3 1299.0,1510.8 1301.0,1512.9 1303.0,1514.3 1305.0,1514.6 1307.0,1517.6 1309.0,1520.4 1311.0,1522.6 1313.0,1525.0 1315.0,1526.2 1317.0,1528.3 1319.0,1531.6 1321.0,1533.5 1323.0,1534.7 1325.0,1536.0 1327.0,1537.3 1329.0,1540.7 1331.0,1542.7 1333.0,1545.8 1335.0,1546.3 1337.0,1548.2 1339.0,1549.8 1341.0,1552.9 1343.0,1556.5 1345.0,1556.0 1347.0,1557.0 1349.0,1559.9 1351.0,1561.5 1353.0,1562.0 1355.0,1565.5 1357.0,1566.4 1359.0,1569.5 1361.0,1570.8 1363.0,1572.0 1365.0,1574.3 1367.0,1575.2 1369.0,1576.3 1371.0,1578.7 1373.0,1580.9 1375.0,1582.0 1377.0,1584.5 1379.0,1585.8 1381.0,1588.9 1383.0,1590.3 1385.0,1591.1 1387.0,1591.3 1389.0,1594.8 1391.0,1595.0 1393.0,1597.5 1395.0,1599.4 1397.0,1603.8 1399.0,1604.6 1401.0,1606.3 1403.0,1608.4 1405.0,1609.3 1407.0,1611.5 1409.0,1611.8 1411.0,1615.5 1413.0,1617.3 1415.0,1617.9 1417.0,1617.3 1419.0,1618.8 1421.0,1621.4 1423.0,1624.3 1425.0,1627.2 1427.0,1628.2 1429.0,1629.7 1431.0,1631.4 1433.0,1632.5 1435.0,1634.0 1437.0,1636.4 1439.0,1639.3 1441.0,1640.5 1443.0,1642.5 1445.0,1644.7 1447.0,1643.4 1449.0,1645.4 1451.0,1648.9 1453.0,1650.5 1455.0,1650.9 1457.0,1651.5 1459.0,1654.7 1461.0,1657.0 1463.0,1659.2 1465.0,1659.4 1467.0,1661.2 1469.0,1661.0 1471.0,1662.6 1473.0,1667.8 1475.0,1667.9 1477.0,1670.4 1479.0,1671.8 1481.0,1673.0 1483.0,1675.8 1485.0,1677.8 1487.0,1676.9 1489.0,1678.1 1491.0,1678.5 1493.0,1681.4 1495.0,1683.3 1497.0,1683.7 1499.0,1684.9 1501.0,1686.1 1503.0,1688.3 1505.0,1691.0 1507.0,1691.2 1509.0,1692.1 1511.0,1692.9 1513.0,1695.6 1515.0,1696.9 1517.0,1697.9 1519.0,1700.6 1521.0,1699.5 1523.0,1702.9 1525.0,1703.5 1527.0,1703.1 1529.0,1706.2 1531.0,1708.9 1533.0,1709.7 1535.0,1710.2 1537.0,1711.5 1539.0,1710.3 1541.0,1711.9 1543.0,1711.9 1545.0,1713.8 1547.0,1715.4 1549.0,1716.5 1551.0,1717.5 1553.0,1718.1 1555.0,1719.5 1557.0,1721.2 1559.0,1722.9 1561.0,1722.8 1563.0,1724.4 1565.0,1723.2 1567.0,1725.2 1569.0,1726.1 1571.0,1726.9 1573.0,1729.2 1575.0,1727.7 1577.0,1728.0 1579.0,1727.0 1581.0,1727.4 1583.0,1728.9 1585.0,1731.3 1587.0,1730.3 1589.0,1729.3 1591.0,1730.7 1593.0,1732.0 1595.0,1729.7 1597.0,1729.6 1599.0,1728.6 1601.0,1728.6 1603.0,1729.3 1605.0,1727.3 1607.0,1727.6 1609.0,1726.9 1611.0,1725.4 1613.0,1724.4 1615.0,1725.0 1617.0,1723.4 1619.0,1723.5 1621.0,1727.2 1623.0,1726.6 1625.0,1725.6 1627.0,1727.3 1629.0,1728.9 1631.0,1730.1 1633.0,1730.6 1635.0,1732.5 1637.0,1733.3 1639.0,1734.3 1641.0,1730.4 1643.0,1732.0 1645.0,1732.5 1647.0,1730.6 1649.0,1733.4 1651.0,1736.8 1653.0,1735.2 1655.0,1736.0 1657.0,1735.8 1659.0,1733.8 1661.0,1735.4 1663.0,1738.3 1665.0,1740.0 1667.0,1740.6 1669.0,1738.3 1671.0,1739.4 1673.0,1738.7 1675.0,1739.1 1677.0,1738.1 1679.0,1741.7 1681.0,1744.6 1683.0,1743.7 1685.0,1743.8 1687.0,1744.8 1689.0,1745.1 1691.0,1744.1 1693.0,1746.8 1695.0,1747.1 1697.0,1750.5 1699.0,1750.4 1701.0,1750.0 1703.0,1749.9 1705.0,1748.0 1707.0,1751.6 1709.0,1753.3 1711.0,1753.9 1713.0,1754.3 1715.0,1756.9 1717.0,1757.8 1719.0,1757.8 1721.0,1758.7 1723.0,1758.3 1725.0,1761.9 1727.0,1761.5 1729.0,1760.7 1731.0,1764.3 1733.0,1766.2 1735.0,1768.6 1737.0,1767.6 1739.0,1766.4 1741.0,1768.0 1743.0,1772.0 1745.0,1771.8 1747.0,1771.9 1749.0,1775.0 1751.0,1777.6 1753.0,1777.6 1755.0,1777.2 1757.0,1778.6 1759.0,1777.6 1761.0,1778.5 1763.0,1780.4 1765.0,1781.1 1767.0,1785.6 1769.0,1785.0 1771.0,1781.7 1773.0,1783.8 1775.0,1784.4 1777.0,1787.5 1779.0,1787.8 1781.0,1790.0 1783.0,1791.2 1785.0,1790.2 1787.0,1791.4 1789.0,1793.8 1791.0,1794.5 1793.0,1795.9 1795.0,1795.2 1797.0,1794.2 1799.0,1797.0 1801.0,1794.7 1803.0,1794.6 1805.0,1794.0 1807.0,1796.0 1809.0,1799.4 1811.0,1799.1 1813.0,1799.9 1815.0,1798.6 1817.0,1801.1 1819.0,1803.3 1821.0,1803.7 1823.0,1802.6 1825.0,1804.5 1827.0,1806.1 1829.0,1803.6 1831.0,1804.9 1833.0,1805.1 1835.0,1804.6 1837.0,1804.2 1839.0,1804.9 1841.0,1806.4 1843.0,1807.7 1845.0,1807.1 1847.0,1807.7 1849.0,1808.4 1851.0,1808.3 1853.0,1805.5 1855.0,1807.1 1857.0,1808.4 1859.0,1809.5 1861.0,1811.3 1863.0,1812.4 1865.0,1812.6 1867.0,1812.3 1869.0,1811.1 1871.0,1810.7 1873.0,1812.3 1875.0,1815.7 1877.0,1814.2 1879.0,1814.6 1881.0,1817.5 1883.0,1816.5 1885.0,1815.4 1887.0,1816.5 1889.0,1815.7 1891.0,1815.7 1893.0,1820.1 1895.0,1823.2 1897.0,1822.4 1899.0,1819.1 1901.0,1819.6 1903.0,1823.6 1905.0,1824.2 1907.0,1824.9 1909.0,1825.4 1911.0,1825.0 1913.0,1827.8 1915.0,1825.9 1917.0,1828.8 1919.0,1827.8 1921.0,1826.9 1923.0,1827.6 1925.0,1825.5 1927.0,1826.5 1929.0,1829.3 1931.0,1829.0 1933.0,1831.4 1935.0,1833.4 1937.0,1832.6 1939.0,1831.4 1941.0,1832.8 1943.0,1832.3 1945.0,1832.2 1947.0,1832.7 1949.0,1832.4 1951.0,1830.9 1953.0,1830.0 1955.0,1830.6 1957.0,1833.4 1959.0,1831.8 1961.0,1836.0 1963.0,1835.1 1965.0,1835.6 1967.0,1837.4 1969.0,1838.7 1971.0,1835.9 1973.0,1835.8 1975.0,1837.3 1977.0,1836.8 1979.0,1838.3 1981.0,1836.9 1983.0,1838.1 1985.0,1838.2 1987.0,1837.7 1989.0,1837.4 1991.0,1837.8 1993.0,1839.4 1995.0,1839.6 1997.0,1841.2 1999.0,1838.2 2001.0,1841.2 2003.0,1842.4 2005.0,1843.5 2007.0,1842.0 2009.0,1843.2 2011.0,1842.2 2013.0,1842.3 2015.0,1844.7 2017.0,1843.8 2019.0,1841.9 2021.0,1841.3 2023.0,1844.7 2025.0,1844.7 2027.0,1841.6 2029.0,1843.9 2031.0,1846.8 2033.0,1845.5 2035.0,1847.9 2037.0,1846.2 2039.0,1843.6 2041.0,1844.6 2043.0,1847.5 2045.0,1847.8 2047.0,1848.9 2049.0,1846.3 2051.0,1847.2 2053.0,1850.3 2055.0,1848.1 2057.0,1845.4 2059.0,1847.7 2061.0,1847.0 2063.0,1843.7 2065.0,1848.2 2067.0,1850.3 2069.0,1851.1 2071.0,1848.7 2073.0,1849.3 2075.0,1846.0 2077.0,1849.5 2079.0,1848.0 2081.0,1846.1 2083.0,1847.0 2085.0,1845.7 2087.0,1841.0 2089.0,1843.6 2091.0,1844.0 2093.0,1843.9 2095.0,1846.6 2097.0,1846.0 2099.0,1847.0 2101.0,1851.6 2103.0,1855.2 2105.0,1852.3 2106.0,1850.1 2114.0,1832.5" stroke="#000000"/>
<path d="M305.0,1573.1 313.0,1591.0 315.0,1595.4 317.0,1599.6 319.0,1604.2 321.0,1608.5 323.0,1612.8 325.0,1617.1 327.0,1621.3 329.0,1625.7 331.0,1630.0 333.0,1634.2 335.0,1638.4 337.0,1642.3 339.0,1646.4 341.0,1650.7 343.0,1654.7 345.0,1658.7 347.0,1662.5 349.0,1666.2 351.0,1670.1 353.0,1673.8 355.0,1677.4 357.0,1681.0 359.0,1684.6 361.0,1688.1 363.0,1691.6 365.0,1694.9 367.0,1698.2 369.0,1701.3 371.0,1704.5 373.0,1707.5 375.0,1710.3 377.0,1713.2 379.0,1716.2 381.0,1718.9 383.0,1721.4 385.0,1723.9 387.0,1726.2 389.0,1728.5 391.0,1730.7 393.0,1732.8 395.0,1734.8 397.0,1736.5 399.0,1738.2 401.0,1739.5 403.0,1740.9 405.0,1742.1 407.0,1743.3 409.0,1744.2 411.0,1745.0 413.0,1745.6 415.0,1746.2 417.0,1746.4 419.0,1746.3 421.0,1746.3 423.0,1745.8 425.0,1745.4 427.0,1744.8 429.0,1743.9 431.0,1742.7 433.0,1741.5 435.0,1740.1 437.0,1738.3 439.0,1736.4 441.0,1734.5 443.0,1732.3 445.0,1729.8 447.0,1727.2 449.0,1724.4 451.0,1721.4 453.0,1718.4 455.0,1715.2 457.0,1712.0 459.0,1708.6 461.0,1705.0 463.0,1701.5 465.0,1697.8 467.0,1694.1 469.0,1690.0 471.0,1686.0 473.0,1682.0 475.0,1677.9 477.0,1674.0 479.0,1669.9 481.0,1665.6 483.0,1661.3 485.0,1657.2 487.0,1653.0 489.0,1648.7 491.0,1644.4 493.0,1640.1 495.0,1636.1 497.0,1631.9 499.0,1627.7 501.0,1623.8 503.0,1619.7 505.0,1615.4 507.0,1611.5 509.0,1607.5 511.0,1603.6 513.0,1599.4 515.0,1595.6 517.0,1591.8 519.0,1588.0 521.0,1583.9 523.0,1579.8 525.0,1576.2 527.0,1572.7 529.0,1569.2 531.0,1565.7 533.0,1562.0 535.0,1558.3 537.0,1554.9 539.0,1551.4 541.0,1547.9 543.0,1544.5 545.0,1541.2 547.0,1537.5 549.0,1534.1 551.0,1530.9 553.0,1527.5 555.0,1524.1 557.0,1520.9 559.0,1517.8 561.0,1514.6 563.0,1511.4 565.0,1508.2 567.0,1505.0 569.0,1501.4 571.0,1498.3 573.0,1495.2 575.0,1492.1 577.0,1489.0 579.0,1486.0 581.0,1482.9 583.0,1479.8 585.0,1476.6 587.0,1473.7 589.0,1471.0 591.0,1467.9 593.0,1465.0 595.0,1462.1 597.0,1459.1 599.0,1456.3 601.0,1453.5 603.0,1450.7 605.0,1447.8 607.0,1445.0 609.0,1442.5 611.0,1440.1 613.0,1437.8 615.0,1435.3 617.0,1432.9 619.0,1430.7 621.0,1428.7 623.0,1426.4 625.0,1424.5 627.0,1422.2 629.0,1420.3 631.0,1418.5 633.0,1416.6 635.0,1414.6 637.0,1412.9 639.0,1411.1 641.0,1409.6 643.0,1407.9 645.0,1406.1 647.0,1404.6 649.0,1402.9 651.0,1401.3 653.0,1399.8 655.0,1398.2 657.0,1396.8 659.0,1395.3 661.0,1393.9 663.0,1392.4 665.0,1390.7 667.0,1389.1 669.0,1387.8 671.0,1386.5 673.0,1385.1 675.0,1383.8 677.0,1382.5 679.0,1381.0 681.0,1379.6 683.0,1378.2 685.0,1377.1 687.0,1375.7 689.0,1374.3 691.0,1373.0 693.0,1371.9 695.0,1371.0 697.0,1369.6 699.0,1368.1 701.0,1367.1 703.0,1366.0 705.0,1364.9 707.0,1363.7 709.0,1362.4 711.0,1361.4 713.0,1360.1 715.0,1358.8 717.0,1357.9 719.0,1356.9 721.0,1356.1 723.0,1355.0 725.0,1353.7 727.0,1352.7 729.0,1351.6 731.0,1350.4 733.0,1349.2 735.0,1348.5 737.0,1347.5 739.0,1346.3 741.0,1345.0 743.0,1344.2 745.0,1343.2 747.0,1342.1 749.0,1341.1 751.0,1340.1 753.0,1339.2 755.0,1338.2 757.0,1337.1 759.0,1336.1 761.0,1335.1 763.0,1333.9 765.0,1333.0 767.0,1332.0 769.0,1330.8 771.0,1330.0 773.0,1329.2 775.0,1328.1 777.0,1327.4 779.0,1326.5 781.0,1325.3 783.0,1324.5 785.0,1323.7 787.0,1322.4 789.0,1321.4 791.0,1320.5 793.0,1319.5 795.0,1318.6 797.0,1317.9 799.0,1317.0 801.0,1316.2 803.0,1315.3 805.0,1314.3 807.0,1313.5 809.0,1312.7 811.0,1311.8 813.0,1310.9 815.0,1310.3 817.0,1309.4 819.0,1308.7 821.0,1308.0 823.0,1307.2 825.0,1306.1 827.0,1305.3 829.0,1304.7 831.0,1304.1 833.0,1303.4 835.0,1302.4 837.0,1301.7 839.0,1301.2 841.0,1300.7 843.0,1299.9 845.0,1298.9 847.0,1298.3 849.0,1297.6 851.0,1297.2 853.0,1296.5 855.0,1295.8 857.0,1295.1 859.0,1294.7 861.0,1294.1 863.0,1293.3 865.0,1292.8 867.0,1292.3 869.0,1291.8 871.0,1291.2 873.0,1290.5 875.0,1290.0 877.0,1289.3 879.0,1289.1 881.0,1288.8 883.0,1287.9 885.0,1287.6 887.0,1287.4 889.0,1286.8 891.0,1286.2 893.0,1286.1 895.0,1285.5 897.0,1285.4 899.0,1284.9 901.0,1284.5 903.0,1284.2 905.0,1283.9 907.0,1283.7 909.0,1283.3 911.0,1283.0 913.0,1282.9 915.0,1282.5 917.0,1282.2 919.0,1281.9 921.0,1281.6 923.0,1281.4 925.0,1281.3 927.0,1281.1 929.0,1280.9 931.0,1280.8 933.0,1280.5 935.0,1280.5 937.0,1280.5 939.0,1280.1 941.0,1280.2 943.0,1280.5 945.0,1280.2 947.0,1280.4 949.0,1280.3 951.0,1280.5 953.0,1280.4 955.0,1280.6 957.0,1280.8 959.0,1281.0 961.0,1281.4 963.0,1281.6 965.0,1281.8 967.0,1282.0 969.0,1282.5 971.0,1282.7 973.0,1282.8 975.0,1282.9 977.0,1283.4 979.0,1283.8 981.0,1284.1 983.0,1284.6 985.0,1285.0 987.0,1285.2 989.0,1285.7 991.0,1286.2 993.0,1286.6 995.0,1287.0 997.0,1287.4 999.0,1288.1 1001.0,1288.9 1003.0,1289.5 1005.0,1289.6 1007.0,1290.0 1009.0,1290.7 1011.0,1291.2 1013.0,1291.9 1015.0,1292.6 1017.0,1293.1 1019.0,1294.0 1021.0,1294.8 1023.0,1295.6 1025.0,1296.3 1027.0,1297.0 1029.0,1297.8 1031.0,1298.1 1033.0,1298.9 1035.0,1299.6 1037.0,1300.4 1039.0,1301.3 1041.0,1301.9 1043.0,1303.0 1045.0,1303.8 1047.0,1304.5 1049.0,1305.2 1051.0,1305.8 1053.0,1306.5 1055.0,1307.7 1057.0,1308.8 1059.0,1309.7 1061.0,1310.4 1063.0,1311.5 1065.0,1312.9 1067.0,1313.8 1069.0,1314.7 1071.0,1315.6 1073.0,1316.9 1075.0,1318.1 1077.0,1319.1 1079.0,1320.0 1081.0,1321.2 1083.0,1322.2 1085.0,1323.5 1087.0,1324.9 1089.0,1326.0 1091.0,1327.4 1093.0,1328.9 1095.0,1330.1 1097.0,1331.5 1099.0,1332.7 1101.0,1334.0 1103.0,1335.6 1105.0,1337.0 1107.0,1338.2 1109.0,1339.8 1111.0,1341.6 1113.0,1343.5 1115.0,1344.8 1117.0,1346.4 1119.0,1348.2 1121.0,1349.8 1123.0,1351.5 1125.0,1353.5 1127.0,1355.2 1129.0,1356.4 1131.0,1358.6 1133.0,1360.5 1135.0,1362.4 1137.0,1364.1 1139.0,1366.2 1141.0,1368.3 1143.0,1370.3 1145.0,1372.2 1147.0,1374.1 1149.0,1376.0 1151.0,1378.0 1153.0,1379.8 1155.0,1382.4 1157.0,1384.3 1159.0,1386.3 1161.0,1388.5 1163.0,1390.7 1165.0,1392.4 1167.0,1395.0 1169.0,1397.1 1171.0,1399.3 1173.0,1401.4 1175.0,1403.8 1177.0,1406.8 1179.0,1409.0 1181.0,1411.4 1183.0,1413.8 1185.0,1416.0 1187.0,1418.4 1189.0,1420.8 1191.0,1423.4 1193.0,1425.5 1195.0,1428.5 1197.0,1431.7 1199.0,1434.4 1201.0,1436.9 1203.0,1439.1 1205.0,1441.2 1207.0,1444.3 1209.0,1446.9 1211.0,1449.2 1213.0,1451.3 1215.0,1454.4 1217.0,1457.5 1219.0,1459.9 1221.0,1462.0 1223.0,1464.8 1225.0,1467.3 1227.0,1470.0 1229.0,1472.8 1231.0,1475.2 1233.0,1477.7 1235.0,1480.3 1237.0,1482.3 1239.0,1484.8 1241.0,1488.0 1243.0,1490.3 1245.0,1493.1 1247.0,1494.9 1249.0,1498.7 1251.0,1501.2 1253.0,1504.1 1255.0,1504.7 1257.0,1507.6 1259.0,1511.9 1261.0,1514.2 1263.0,1516.7 1265.0,1519.2 1267.0,1521.8 1269.0,1524.4 1271.0,1526.2 1273.0,1529.3 1275.0,1532.8 1277.0,1534.7 1279.0,1536.7 1281.0,1539.8 1283.0,1542.9 1285.0,1544.7 1287.0,1547.2 1289.0,1550.3 1291.0,1553.2 1293.0,1556.0 1295.0,1557.6 1297.0,1560.3 1299.0,1562.9 1301.0,1563.7 1303.0,1567.3 1305.0,1570.3 1307.0,1572.3 1309.0,1574.3 1311.0,1577.8 1313.0,1580.8 1315.0,1582.2 1317.0,1584.2 1319.0,1587.0 1321.0,1590.9 1323.0,1593.1 1325.0,1594.3 1327.0,1595.5 1329.0,1597.7 1331.0,1600.8 1333.0,1603.5 1335.0,1606.1 1337.0,1607.6 1339.0,1610.6 1341.0,1613.3 1343.0,1614.6 1345.0,1619.7 1347.0,1621.2 1349.0,1622.8 1351.0,1623.5 1353.0,1626.0 1355.0,1630.2 1357.0,1632.0 1359.0,1631.9 1361.0,1636.7 1363.0,1639.2 1365.0,1640.8 1367.0,1641.6 1369.0,1644.5 1371.0,1646.3 1373.0,1649.6 1375.0,1652.9 1377.0,1654.1 1379.0,1656.0 1381.0,1656.6 1383.0,1657.8 1385.0,1660.8 1387.0,1664.2 1389.0,1666.4 1391.0,1666.8 1393.0,1668.5 1395.0,1669.4 1397.0,1670.0 1399.0,1673.5 1401.0,1675.8 1403.0,1676.8 1405.0,1678.2 1407.0,1678.6 1409.0,1682.2 1411.0,1685.4 1413.0,1685.9 1415.0,1687.8 1417.0,1689.1 1419.0,1689.5 1421.0,1691.6 1423.0,1693.1 1425.0,1697.8 1427.0,1696.9 1429.0,1696.2 1431.0,1697.6 1433.0,1702.1 1435.0,1703.2 1437.0,1703.8 1439.0,1703.4 1441.0,1705.1 1443.0,1706.5 1445.0,1709.9 1447.0,1710.6 1449.0,1714.0 1451.0,1714.2 1453.0,1714.6 1455.0,1716.8 1457.0,1714.9 1459.0,1716.9 1461.0,1719.3 1463.0,1722.3 1465.0,1723.7 1467.0,1723.5 1469.0,1722.4 1471.0,1724.4 1473.0,1725.7 1475.0,1729.0 1477.0,1729.1 1479.0,1731.3 1481.0,1733.6 1483.0,1733.0 1485.0,1734.3 1487.0,1734.5 1489.0,1735.8 1491.0,1737.1 1493.0,1738.2 1495.0,1739.3 1497.0,1740.4 1499.0,1743.4 1501.0,1742.5 1503.0,1743.9 1505.0,1744.2 1507.0,1743.7 1509.0,1747.9 1511.0,1748.6 1513.0,1747.9 1515.0,1749.1 1517.0,1749.9 1519.0,1753.3 1521.0,1756.2 1523.0,1756.6 1525.0,1754.6 1527.0,1755.1 1529.0,1758.9 1531.0,1761.5 1533.0,1761.1 1535.0,1762.3 1537.0,1761.0 1539.0,1763.0 1541.0,1764.7 1543.0,1764.8 1545.0,1765.9 1547.0,1767.6 1549.0,1767.0 1551.0,1767.5 1553.0,1770.1 1555.0,1770.4 1557.0,1769.9 1559.0,1771.8 1561.0,1772.0 1563.0,1773.7 1565.0,1773.8 1567.0,1773.9 1569.0,1774.1 1571.0,1775.6 1573.0,1776.5 1575.0,1778.8 1577.0,1777.1 1579.0,1776.3 1581.0,1779.4 1583.0,1776.7 1585.0,1779.7 1587.0,1778.6 1589.0,1780.5 1591.0,1779.7 1593.0,1780.2 1595.0,1780.0 1597.0,1780.1 1599.0,1780.7 1601.0,1780.0 1603.0,1780.8 1605.0,1779.5 1607.0,1779.8 1609.0,1780.1 1611.0,1780.6 1613.0,1781.4 1615.0,1778.8 1617.0,1777.8 1619.0,1777.8 1621.0,1779.7 1623.0,1781.5 1625.0,1781.2 1627.0,1782.2 1629.0,1782.7 1631.0,1783.2 1633.0,1781.8 1635.0,1784.8 1637.0,1785.8 1639.0,1784.3 1641.0,1784.9 1643.0,1785.0 1645.0,1787.4 1647.0,1788.5 1649.0,1790.8 1651.0,1787.8 1653.0,1786.8 1655.0,1787.4 1657.0,1787.4 1659.0,1789.3 1661.0,1790.1 1663.0,1790.9 1665.0,1790.4 1667.0,1789.8 1669.0,1792.1 1671.0,1792.7 1673.0,1793.3 1675.0,1792.0 1677.0,1792.9 1679.0,1794.2 1681.0,1794.7 1683.0,1794.1 1685.0,1798.1 1687.0,1798.1 1689.0,1799.7 1691.0,1800.8 1693.0,1802.1 1695.0,1801.8 1697.0,1801.7 1699.0,1801.2 1701.0,1803.1 1703.0,1805.2 1705.0,1802.2 1707.0,1803.6 1709.0,1806.2 1711.0,1808.1 1713.0,1806.0 1715.0,1807.0 1717.0,1809.5 1719.0,1813.0 1721.0,1809.8 1723.0,1810.6 1725.0,1812.3 1727.0,1811.7 1729.0,1813.5 1731.0,1814.4 1733.0,1814.4 1735.0,1816.2 1737.0,1818.4 1739.0,1817.4 1741.0,1816.9 1743.0,1817.4 1745.0,1819.5 1747.0,1821.3 1749.0,1821.2 1751.0,1822.5 1753.0,1825.3 1755.0,1822.3 1757.0,1822.1 1759.0,1824.3 1761.0,1825.0 1763.0,1826.7 1765.0,1828.3 1767.0,1827.9 1769.0,1827.8 1771.0,1829.2 1773.0,1829.9 1775.0,1829.7 1777.0,1829.9 1779.0,1831.8 1781.0,1831.4 1783.0,1831.1 1785.0,1833.5 1787.0,1833.1 1789.0,1833.7 1791.0,1835.4 1793.0,1834.6 1795.0,1835.3 1797.0,1834.9 1799.0,1835.0 1801.0,1838.1 1803.0,1840.1 1805.0,1838.4 1807.0,1840.8 1809.0,1841.9 1811.0,1842.2 1813.0,1839.5 1815.0,1840.4 1817.0,1843.5 1819.0,1842.4 1821.0,1842.6 1823.0,1843.9 1825.0,1844.1 1827.0,1843.0 1829.0,1843.7 1831.0,1845.2 1833.0,1845.0 1835.0,1844.6 1837.0,1847.1 1839.0,1847.2 1841.0,1845.8 1843.0,1845.9 1845.0,1847.2 1847.0,1844.2 1849.0,1846.7 1851.0,1846.8 1853.0,1847.3 1855.0,1849.4 1857.0,1850.2 1859.0,1853.1 1861.0,1850.0 1863.0,1849.7 1865.0,1848.5 1867.0,1851.1 1869.0,1850.2 1871.0,1851.4 1873.0,1853.4 1875.0,1853.7 1877.0,1853.3 1879.0,1854.0 1881.0,1852.1 1883.0,1851.1 1885.0,1851.1 1887.0,1854.4 1889.0,1856.6 1891.0,1854.4 1893.0,1854.4 1895.0,1854.6 1897.0,1855.3 1899.0,1853.5 1901.0,1856.8 1903.0,1857.7 1905.0,1855.6 1907.0,1855.1 1909.0,1855.9 1911.0,1858.4 1913.0,1859.7 1915.0,1856.8 1917.0,1856.2 1919.0,1858.6 1921.0,1859.8 1923.0,1860.3 1925.0,1859.3 1927.0,1861.2 1929.0,1861.7 1931.0,1858.7 1933.0,1860.3 1935.0,1862.3 1937.0,1862.7 1939.0,1860.9 1941.0,1859.2 1943.0,1860.5 1945.0,1860.5 1947.0,1862.3 1949.0,1864.5 1951.0,1863.2 1953.0,1863.6 1955.0,1862.9 1957.0,1865.3 1959.0,1864.0 1961.0,1864.1 1963.0,1867.8 1965.0,1866.9 1967.0,1866.4 1969.0,1864.1 1971.0,1868.4 1973.0,1869.6 1975.0,1867.3 1977.0,1866.7 1979.0,1867.0 1981.0,1868.7 1983.0,1866.4 1985.0,1869.0 1987.0,1871.6 1989.0,1870.3 1991.0,1872.0 1993.0,1870.0 1995.0,1869.5 1997.0,1871.1 1999.0,1870.4 2001.0,1870.4 2003.0,1869.8 2005.0,1869.0 2007.0,1870.6 2009.0,1872.6 2011.0,1873.3 2013.0,1872.2 2015.0,1872.2 2017.0,1871.1 2019.0,1872.0 2021.0,1872.5 2023.0,1872.8 2025.0,1873.4 2027.0,1874.4 2029.0,1875.8 2031.0,1875.5 2033.0,1874.7 2035.0,1872.5 2037.0,1873.1 2039.0,1874.6 2041.0,1875.4 2043.0,1875.7 2045.0,1873.2 2047.0,1875.4 2049.0,1876.0 2051.0,1875.4 2053.0,1875.1 2055.0,1876.5 2057.0,1876.6 2059.0,1876.9 2061.0,1874.0 2063.0,1875.8 2065.0,1879.4 2067.0,1878.2 2069.0,1876.7 2071.0,1876.9 2073.0,1876.7 2075.0,1880.5 2077.0,1881.3 2079.0,1880.8 2081.0,1881.1 2083.0,1880.6 2085.0,1881.5 2087.0,1881.2 2089.0,1881.9 2091.0,1880.2 2093.0,1879.7 2095.0,1879.2 2097.0,1879.0 2099.0,1878.5 2101.0,1882.5 2103.0,1883.5 2105.0,1882.8 2106.0,1882.7 2114.0,1882.1" stroke="#ff0000"/>
<path d="M305.0,1658.7 313.0,1676.4 315.0,1680.8 317.0,1685.2 319.0,1689.7 321.0,1694.2 323.0,1698.3 325.0,1702.8 327.0,1707.1 329.0,1711.2 331.0,1715.4 333.0,1719.7 335.0,1723.9 337.0,1728.0 339.0,1732.0 341.0,1736.0 343.0,1739.7 345.0,1743.5 347.0,1747.2 349.0,1751.0 351.0,1754.8 353.0,1758.4 355.0,1761.9 357.0,1765.5 359.0,1768.9 361.0,1772.1 363.0,1775.4 365.0,1778.8 367.0,1781.8 369.0,1784.6 371.0,1787.6 373.0,1790.6 375.0,1793.2 377.0,1796.0 379.0,1798.5 381.0,1800.6 383.0,1803.1 385.0,1805.2 387.0,1807.1 389.0,1809.0 391.0,1810.7 393.0,1812.2 395.0,1813.5 397.0,1814.6 399.0,1815.7 401.0,1816.5 403.0,1817.0 405.0,1817.2 407.0,1817.4 409.0,1817.2 411.0,1816.6 413.0,1815.9 415.0,1815.0 417.0,1814.1 419.0,1813.1 421.0,1811.6 423.0,1810.3 425.0,1808.7 427.0,1806.7 429.0,1804.7 431.0,1802.6 433.0,1799.9 435.0,1797.2 437.0,1794.3 439.0,1791.0 441.0,1787.5 443.0,1784.3 445.0,1781.1 447.0,1778.1 449.0,1775.1 451.0,1772.1 453.0,1768.9 455.0,1765.8 457.0,1762.4 459.0,1758.9 461.0,1755.1 463.0,1751.0 465.0,1746.8 467.0,1742.2 469.0,1737.1 471.0,1732.0 473.0,1726.7 475.0,1721.1 477.0,1715.4 479.0,1709.6 481.0,1704.2 483.0,1698.4 485.0,1692.6 487.0,1687.2 489.0,1681.7 491.0,1676.5 493.0,1671.3 495.0,1666.4 497.0,1661.6 499.0,1657.1 501.0,1652.9 503.0,1649.1 505.0,1645.1 507.0,1641.5 509.0,1637.9 511.0,1634.2 513.0,1630.8 515.0,1627.4 517.0,1624.1 519.0,1621.0 521.0,1617.7 523.0,1614.7 525.0,1611.6 527.0,1608.6 529.0,1605.7 531.0,1602.6 533.0,1599.8 535.0,1597.1 537.0,1594.1 539.0,1591.3 541.0,1588.5 543.0,1585.8 545.0,1583.0 547.0,1580.2 549.0,1577.4 551.0,1574.8 553.0,1572.2 555.0,1569.5 557.0,1567.0 559.0,1564.6 561.0,1561.9 563.0,1559.3 565.0,1557.0 567.0,1554.5 569.0,1552.0 571.0,1549.7 573.0,1547.2 575.0,1544.9 577.0,1542.6 579.0,1540.4 581.0,1538.0 583.0,1535.7 585.0,1533.5 587.0,1531.4 589.0,1529.1 591.0,1526.7 593.0,1524.6 595.0,1522.4 597.0,1520.2 599.0,1518.0 601.0,1515.6 603.0,1513.4 605.0,1511.2 607.0,1509.2 609.0,1507.2 611.0,1504.9 613.0,1502.8 615.0,1500.9 617.0,1498.6 619.0,1496.6 621.0,1494.6 623.0,1492.5 625.0,1490.7 627.0,1488.8 629.0,1486.8 631.0,1484.9 633.0,1483.0 635.0,1481.0 637.0,1479.3 639.0,1477.3 641.0,1475.6 643.0,1473.9 645.0,1472.2 647.0,1470.3 649.0,1468.8 651.0,1467.2 653.0,1465.3 655.0,1463.6 657.0,1462.0 659.0,1460.2 661.0,1458.6 663.0,1457.2 665.0,1455.6 667.0,1453.9 669.0,1452.3 671.0,1450.8 673.0,1449.2 675.0,1447.7 677.0,1446.2 679.0,1444.9 681.0,1443.4 683.0,1442.0 685.0,1440.8 687.0,1439.2 689.0,1437.8 691.0,1436.3 693.0,1435.0 695.0,1433.8 697.0,1432.3 699.0,1430.8 701.0,1429.5 703.0,1428.4 705.0,1427.1 707.0,1426.0 709.0,1424.7 711.0,1423.4 713.0,1422.2 715.0,1421.1 717.0,1419.8 719.0,1418.5 721.0,1417.4 723.0,1416.2 725.0,1415.1 727.0,1414.0 729.0,1412.8 731.0,1411.7 733.0,1410.5 735.0,1409.3 737.0,1408.2 739.0,1407.1 741.0,1405.9 743.0,1404.8 745.0,1403.7 747.0,1402.6 749.0,1401.7 751.0,1400.8 753.0,1399.5 755.0,1398.5 757.0,1397.4 759.0,1396.3 761.0,1395.4 763.0,1394.5 765.0,1393.3 767.0,1392.4 769.0,1391.3 771.0,1390.2 773.0,1389.2 775.0,1388.2 777.0,1387.2 779.0,1386.5 781.0,1385.5 783.0,1384.5 785.0,1383.5 787.0,1382.6 789.0,1381.7 791.0,1381.1 793.0,1380.0 795.0,1379.1 797.0,1378.2 799.0,1377.2 801.0,1376.4 803.0,1375.5 805.0,1374.8 807.0,1373.8 809.0,1373.0 811.0,1372.3 813.0,1371.4 815.0,1370.4 817.0,1369.6 819.0,1368.9 821.0,1368.1 823.0,1367.5 825.0,1366.7 827.0,1365.8 829.0,1365.0 831.0,1364.4 833.0,1363.5 835.0,1362.7 837.0,1362.0 839.0,1361.6 841.0,1360.6 843.0,1359.8 845.0,1359.2 847.0,1358.5 849.0,1357.7 851.0,1357.1 853.0,1356.1 855.0,1355.4 857.0,1354.6 859.0,1354.2 861.0,1353.5 863.0,1353.0 865.0,1352.1 867.0,1351.4 869.0,1350.5 871.0,1349.8 873.0,1349.2 875.0,1348.7 877.0,1347.8 879.0,1347.0 881.0,1346.7 883.0,1346.1 885.0,1345.3 887.0,1344.8 889.0,1344.3 891.0,1343.6 893.0,1342.7 895.0,1342.2 897.0,1341.6 899.0,1341.1 901.0,1340.4 903.0,1339.7 905.0,1339.3 907.0,1338.7 909.0,1337.9 911.0,1337.3 913.0,1336.8 915.0,1336.3 917.0,1335.7 919.0,1335.0 921.0,1334.5 923.0,1334.2 925.0,1333.8 927.0,1333.1 929.0,1332.8 931.0,1332.5 933.0,1331.8 935.0,1331.3 937.0,1330.9 939.0,1330.6 941.0,1330.2 943.0,1329.8 945.0,1329.4 947.0,1329.2 949.0,1328.9 951.0,1328.6 953.0,1328.4 955.0,1327.9 957.0,1327.8 959.0,1327.6 961.0,1327.5 963.0,1327.4 965.0,1327.0 967.0,1326.7 969.0,1326.6 971.0,1326.6 973.0,1326.5 975.0,1326.2 977.0,1326.2 979.0,1326.2 981.0,1325.9 983.0,1325.6 985.0,1325.5 987.0,1325.6 989.0,1325.6 991.0,1325.6 993.0,1325.7 995.0,1325.6 997.0,1325.8 999.0,1325.6 1001.0,1325.8 1003.0,1325.9 1005.0,1326.1 1007.0,1326.3 1009.0,1326.3 1011.0,1326.3 1013.0,1326.2 1015.0,1326.2 1017.0,1326.2 1019.0,1326.9 1021.0,1327.2 1023.0,1327.4 1025.0,1327.4 1027.0,1328.0 1029.0,1328.0 1031.0,1328.3 1033.0,1328.3 1035.0,1328.8 1037.0,1329.4 1039.0,1329.7 1041.0,1329.8 1043.0,1330.3 1045.0,1330.8 1047.0,1330.9 1049.0,1331.5 1051.0,1331.8 1053.0,1332.5 1055.0,1333.0 1057.0,1333.6 1059.0,1333.9 1061.0,1334.4 1063.0,1335.0 1065.0,1335.5 1067.0,1336.2 1069.0,1336.7 1071.0,1337.4 1073.0,1338.2 1075.0,1338.8 1077.0,1339.7 1079.0,1340.4 1081.0,1341.0 1083.0,1341.6 1085.0,1342.5 1087.0,1343.5 1089.0,1344.3 1091.0,1345.1 1093.0,1345.9 1095.0,1346.5 1097.0,1347.5 1099.0,1348.5 1101.0,1349.3 1103.0,1350.1 1105.0,1351.2 1107.0,1352.2 1109.0,1353.4 1111.0,1354.3 1113.0,1355.0 1115.0,1355.9 1117.0,1356.9 1119.0,1358.0 1121.0,1359.1 1123.0,1360.4 1125.0,1361.1 1127.0,1362.2 1129.0,1363.3 1131.0,1364.4 1133.0,1365.4 1135.0,1366.6 1137.0,1367.8 1139.0,1368.9 1141.0,1369.9 1143.0,1371.1 1145.0,1372.5 1147.0,1373.8 1149.0,1374.7 1151.0,1376.1 1153.0,1377.5 1155.0,1378.4 1157.0,1380.0 1159.0,1381.4 1161.0,1382.5 1163.0,1384.0 1165.0,1385.4 1167.0,1386.5 1169.0,1387.8 1171.0,1389.0 1173.0,1390.5 1175.0,1392.1 1177.0,1393.7 1179.0,1395.5 1181.0,1396.6 1183.0,1397.8 1185.0,1399.9 1187.0,1401.5 1189.0,1402.9 1191.0,1404.2 1193.0,1405.6 1195.0,1407.3 1197.0,1409.5 1199.0,1411.0 1201.0,1412.4 1203.0,1414.0 1205.0,1415.4 1207.0,1416.8 1209.0,1418.6 1211.0,1420.4 1213.0,1421.5 1215.0,1423.1 1217.0,1424.9 1219.0,1427.1 1221.0,1429.3 1223.0,1430.3 1225.0,1431.9 1227.0,1433.6 1229.0,1435.8 1231.0,1437.4 1233.0,1439.2 1235.0,1441.3 1237.0,1444.4 1239.0,1445.5 1241.0,1446.8 1243.0,1448.9 1245.0,1451.5 1247.0,1453.5 1249.0,1454.8 1251.0,1455.8 1253.0,1459.1 1255.0,1461.4 1257.0,1463.1 1259.0,1464.9 1261.0,1466.7 1263.0,1469.1 1265.0,1470.5 1267.0,1472.9 1269.0,1474.2 1271.0,1476.1 1273.0,1478.1 1275.0,1480.0 1277.0,1482.2 1279.0,1485.1 1281.0,1487.5 1283.0,1488.2 1285.0,1490.0 1287.0,1493.2 1289.0,1494.6 1291.0,1496.8 1293.0,1499.0 1295.0,1501.3 1297.0,1502.5 1299.0,1505.6 1301.0,1507.3 1303.0,1507.4 1305.0,1510.4 1307.0,1512.7 1309.0,1515.2 1311.0,1516.9 1313.0,1518.4 1315.0,1520.7 1317.0,1523.2 1319.0,1525.1 1321.0,1527.2 1323.0,1530.8 1325.0,1531.6 1327.0,1532.1 1329.0,1534.8 1331.0,1536.9 1333.0,1538.0 1335.0,1540.5 1337.0,1541.5 1339.0,1542.5 1341.0,1546.4 1343.0,1549.0 1345.0,1550.8 1347.0,1552.0 1349.0,1553.4 1351.0,1556.0 1353.0,1558.3 1355.0,1560.7 1357.0,1562.9 1359.0,1564.1 1361.0,1564.7 1363.0,1566.4 1365.0,1567.5 1367.0,1571.1 1369.0,1573.3 1371.0,1575.6 1373.0,1577.1 1375.0,1579.3 1377.0,1579.4 1379.0,1581.6 1381.0,1583.0 1383.0,1584.4 1385.0,1584.8 1387.0,1587.1 1389.0,1588.1 1391.0,1591.3 1393.0,1593.2 1395.0,1595.3 1397.0,1595.5 1399.0,1598.2 1401.0,1600.1 1403.0,1600.6 1405.0,1605.9 1407.0,1607.0 1409.0,1607.7 1411.0,1611.9 1413.0,1612.8 1415.0,1610.7 1417.0,1613.9 1419.0,1615.9 1421.0,1618.0 1423.0,1619.0 1425.0,1621.3 1427.0,1622.9 1429.0,1622.4 1431.0,1626.7 1433.0,1630.1 1435.0,1630.9 1437.0,1633.5 1439.0,1635.6 1441.0,1635.9 1443.0,1637.4 1445.0,1638.9 1447.0,1640.3 1449.0,1644.3 1451.0,1644.5 1453.0,1645.9 1455.0,1648.2 1457.0,1649.8 1459.0,1648.4 1461.0,1649.9 1463.0,1653.0 1465.0,1654.8 1467.0,1654.5 1469.0,1655.9 1471.0,1659.8 1473.0,1661.6 1475.0,1661.9 1477.0,1663.1 1479.0,1664.0 1481.0,1664.8 1483.0,1666.8 1485.0,1669.4 1487.0,1671.0 1489.0,1673.1 1491.0,1672.0 1493.0,1673.0 1495.0,1676.6 1497.0,1676.9 1499.0,1678.7 1501.0,1680.4 1503.0,1680.2 1505.0,1681.4 1507.0,1684.0 1509.0,1683.2 1511.0,1687.1 1513.0,1687.1 1515.0,1690.7 1517.0,1692.0 1519.0,1693.2 1521.0,1694.7 1523.0,1695.3 1525.0,1695.2 1527.0,1698.5 1529.0,1699.6 1531.0,1700.9 1533.0,1701.5 1535.0,1702.7 1537.0,1705.3 1539.0,1706.6 1541.0,1706.6 1543.0,1705.9 1545.0,1707.0 1547.0,1708.6 1549.0,1712.1 1551.0,1712.9 1553.0,1713.3 1555.0,1713.9 1557.0,1714.6 1559.0,1716.8 1561.0,1716.1 1563.0,1717.3 1565.0,1720.3 1567.0,1721.3 1569.0,1721.0 1571.0,1720.3 1573.0,1721.5 1575.0,1724.8 1577.0,1726.0 1579.0,1727.6 1581.0,1726.4 1583.0,1727.0 1585.0,1727.5 1587.0,1730.4 1589.0,1728.4 1591.0,1731.4 1593.0,1733.3 1595.0,1731.0 1597.0,1730.6 1599.0,1731.6 1601.0,1732.4 1603.0,1735.2 1605.0,1735.7 1607.0,1735.5 1609.0,1737.3 1611.0,1740.0 1613.0,1738.9 1615.0,1739.6 1617.0,1742.5 1619.0,1740.4 1621.0,1741.4 1623.0,1744.3 1625.0,1743.2 1627.0,1741.3 1629.0,1742.4 1631.0,1742.0 1633.0,1744.6 1635.0,1746.4 1637.0,1745.7 1639.0,1749.8 1641.0,1750.9 1643.0,1750.4 1645.0,1749.2 1647.0,1750.6 1649.0,1752.3 1651.0,1753.7 1653.0,1753.9 1655.0,1750.6 1657.0,1752.1 1659.0,1752.8 1661.0,1754.6 1663.0,1756.7 1665.0,1759.6 1667.0,1758.1 1669.0,1759.2 1671.0,1759.0 1673.0,1759.8 1675.0,1762.0 1677.0,1760.0 1679.0,1762.6 1681.0,1766.0 1683.0,1767.8 1685.0,1763.6 1687.0,1762.6 1689.0,1763.1 1691.0,1764.9 1693.0,1766.5 1695.0,1767.7 1697.0,1769.5 1699.0,1768.9 1701.0,1769.6 1703.0,1768.2 1705.0,1769.9 1707.0,1771.0 1709.0,1769.7 1711.0,1773.4 1713.0,1775.7 1715.0,1775.7 1717.0,1776.5 1719.0,1776.7 1721.0,1776.2 1723.0,1778.2 1725.0,1778.8 1727.0,1780.3 1729.0,1781.3 1731.0,1781.8 1733.0,1781.0 1735.0,1783.7 1737.0,1787.1 1739.0,1787.0 1741.0,1785.9 1743.0,1786.2 1745.0,1789.0 1747.0,1788.4 1749.0,1786.9 1751.0,1789.7 1753.0,1792.8 1755.0,1790.2 1757.0,1792.1 1759.0,1792.6 1761.0,1794.0 1763.0,1794.4 1765.0,1793.9 1767.0,1792.9 1769.0,1796.5 1771.0,1798.3 1773.0,1798.7 1775.0,1798.2 1777.0,1800.2 1779.0,1804.0 1781.0,1801.2 1783.0,1801.8 1785.0,1801.8 1787.0,1803.8 1789.0,1805.8 1791.0,1807.8 1793.0,1807.3 1795.0,1807.5 1797.0,1808.7 1799.0,1809.6 1801.0,1809.5 1803.0,1810.4 1805.0,1812.2 1807.0,1810.7 1809.0,1811.3 1811.0,1811.1 1813.0,1812.6 1815.0,1815.5 1817.0,1813.9 1819.0,1816.1 1821.0,1818.8 1823.0,1817.4 1825.0,1816.3 1827.0,1815.2 1829.0,1813.5 1831.0,1815.8 1833.0,1817.4 1835.0,1820.5 1837.0,1820.6 1839.0,1818.8 1841.0,1821.0 1843.0,1821.1 1845.0,1824.7 1847.0,1825.2 1849.0,1824.1 1851.0,1823.5 1853.0,1826.5 1855.0,1826.5 1857.0,1826.9 1859.0,1826.4 1861.0,1825.9 1863.0,1827.2 1865.0,1826.2 1867.0,1828.4 1869.0,1827.9 1871.0,1826.2 1873.0,1829.1 1875.0,1829.4 1877.0,1829.4 1879.0,1830.5 1881.0,1831.8 1883.0,1829.8 1885.0,1830.3 1887.0,1833.4 1889.0,1833.0 1891.0,1831.1 1893.0,1833.2 1895.0,1832.4 1897.0,1835.7 1899.0,1836.4 1901.0,1836.5 1903.0,1834.3 1905.0,1835.8 1907.0,1838.3 1909.0,1836.5 1911.0,1838.9 1913.0,1839.0 1915.0,1839.5 1917.0,1839.1 1919.0,1841.4 1921.0,1842.2 1923.0,1843.8 1925.0,1846.0 1927.0,1843.0 1929.0,1842.7 1931.0,1842.5 1933.0,1846.1 1935.0,1844.7 1937.0,1845.5 1939.0,1843.7 1941.0,1845.2 1943.0,1847.1 1945.0,1847.4 1947.0,1847.0 1949.0,1848.7 1951.0,1848.7 1953.0,1849.8 1955.0,1848.8 1957.0,1849.8 1959.0,1849.4 1961.0,1851.6 1963.0,1850.6 1965.0,1850.5 1967.0,1850.4 1969.0,1852.7 1971.0,1852.2 1973.0,1852.2 1975.0,1854.1 1977.0,1852.3 1979.0,1854.8 1981.0,1855.4 1983.0,1851.8 1985.0,1855.0 1987.0,1855.5 1989.0,1855.3 1991.0,1855.2 1993.0,1853.7 1995.0,1856.0 1997.0,1855.9 1999.0,1853.9 2001.0,1855.3 2003.0,1854.8 2005.0,1856.5 2007.0,1856.0 2009.0,1857.0 2011.0,1855.5 2013.0,1856.7 2015.0,1857.5 2017.0,1858.6 2019.0,1861.4 2021.0,1862.5 2023.0,1858.1 2025.0,1860.5 2027.0,1859.8 2029.0,1859.7 2031.0,1860.0 2033.0,1860.5 2035.0,1861.2 2037.0,1863.1 2039.0,1864.1 2041.0,1862.9 2043.0,1862.6 2045.0,1863.5 2047.0,1864.1 2049.0,1865.6 2051.0,1861.8 2053.0,1860.8 2055.0,1862.9 2057.0,1864.2 2059.0,1863.9 2061.0,1863.7 2063.0,1860.2 2065.0,1862.4 2067.0,1863.2 2069.0,1862.6 2071.0,1863.8 2073.0,1865.1 2075.0,1865.9 2077.0,1864.0 2079.0,1863.2 2081.0,1867.0 2083.0,1868.8 2085.0,1864.9 2087.0,1862.3 2089.0,1859.3 2091.0,1859.7 2093.0,1863.1 2095.0,1860.8 2097.0,1865.4 2099.0,1864.8 2101.0,1870.2 2103.0,1870.1 2105.0,1868.5 2106.0,1869.2 2114.0,1874.2" stroke="#0000ff"/>
<path d="M305.0,1879.7 313.0,1884.4 315.0,1885.6 317.0,1886.7 319.0,1887.7 321.0,1889.0 323.0,1890.1 325.0,1891.5 327.0,1892.6 329.0,1893.8 331.0,1894.9 333.0,1895.9 335.0,1896.9 337.0,1898.0 339.0,1899.2 341.0,1900.0 343.0,1901.0 345.0,1901.9 347.0,1902.9 349.0,1903.8 351.0,1904.7 353.0,1905.5 355.0,1906.3 357.0,1907.1 359.0,1907.9 361.0,1908.5 363.0,1909.3 365.0,1910.0 367.0,1910.4 369.0,1911.1 371.0,1911.8 373.0,1911.9 375.0,1912.2 377.0,1912.7 379.0,1913.3 381.0,1913.5 383.0,1913.5 385.0,1913.8 387.0,1913.9 389.0,1913.9 391.0,1913.8 393.0,1914.1 395.0,1914.0 397.0,1914.0 399.0,1913.9 401.0,1914.0 403.0,1913.7 405.0,1913.3 407.0,1913.2 409.0,1913.0 411.0,1912.5 413.0,1912.2 415.0,1911.9 417.0,1911.4 419.0,1911.0 421.0,1910.5 423.0,1910.3 425.0,1909.8 427.0,1909.4 429.0,1908.8 431.0,1908.3 433.0,1907.7 435.0,1907.2 437.0,1906.4 439.0,1905.7 441.0,1905.3 443.0,1904.7 445.0,1904.1 447.0,1903.2 449.0,1902.3 451.0,1901.4 453.0,1900.4 455.0,1900.0 457.0,1899.5 459.0,1898.5 461.0,1897.6 463.0,1897.1 465.0,1896.3 467.0,1895.5 469.0,1894.7 471.0,1894.0 473.0,1893.2 475.0,1892.1 477.0,1891.5 479.0,1890.7 481.0,1890.0 483.0,1889.1 485.0,1888.5 487.0,1887.7 489.0,1886.9 491.0,1885.9 493.0,1885.2 495.0,1884.3 497.0,1883.3 499.0,1882.7 501.0,1881.9 503.0,1881.1 505.0,1880.3 507.0,1879.5 509.0,1878.9 511.0,1878.3 513.0,1877.4 515.0,1876.6 517.0,1876.2 519.0,1875.4 521.0,1874.7 523.0,1874.0 525.0,1873.2 527.0,1872.7 529.0,1871.9 531.0,1871.2 533.0,1870.4 535.0,1869.7 537.0,1869.3 539.0,1868.9 541.0,1868.1 543.0,1867.7 545.0,1866.9 547.0,1866.2 549.0,1865.4 551.0,1864.9 553.0,1864.6 555.0,1863.9 557.0,1863.0 559.0,1862.4 561.0,1862.1 563.0,1861.3 565.0,1860.8 567.0,1860.1 569.0,1859.7 571.0,1859.3 573.0,1858.7 575.0,1858.0 577.0,1857.4 579.0,1856.9 581.0,1856.4 583.0,1856.0 585.0,1855.5 587.0,1854.8 589.0,1854.1 591.0,1853.7 593.0,1853.3 595.0,1852.7 597.0,1852.1 599.0,1851.9 601.0,1851.7 603.0,1850.7 605.0,1850.4 607.0,1850.1 609.0,1849.4 611.0,1848.9 613.0,1848.6 615.0,1848.2 617.0,1847.6 619.0,1847.3 621.0,1846.5 623.0,1846.4 625.0,1846.0 627.0,1845.5 629.0,1845.2 631.0,1844.8 633.0,1844.5 635.0,1843.9 637.0,1843.4 639.0,1842.8 641.0,1842.5 643.0,1842.2 645.0,1841.7 647.0,1841.3 649.0,1841.0 651.0,1840.7 653.0,1840.5 655.0,1840.2 657.0,1839.5 659.0,1839.4 661.0,1839.3 663.0,1839.1 665.0,1838.6 667.0,1837.9 669.0,1837.6 671.0,1837.5 673.0,1837.3 675.0,1836.9 677.0,1836.5 679.0,1836.2 681.0,1835.8 683.0,1835.6 685.0,1835.4 687.0,1835.0 689.0,1834.8 691.0,1834.0 693.0,1834.0 695.0,1834.1 697.0,1833.8 699.0,1833.6 701.0,1833.1 703.0,1832.5 705.0,1832.4 707.0,1832.4 709.0,1831.7 711.0,1831.4 713.0,1831.1 715.0,1831.1 717.0,1830.9 719.0,1830.8 721.0,1830.5 723.0,1830.6 725.0,1830.2 727.0,1829.8 729.0,1829.4 731.0,1829.1 733.0,1829.2 735.0,1829.3 737.0,1828.8 739.0,1828.4 741.0,1828.3 743.0,1828.0 745.0,1827.7 747.0,1827.4 749.0,1827.5 751.0,1827.7 753.0,1827.5 755.0,1827.3 757.0,1826.9 759.0,1826.8 761.0,1826.7 763.0,1826.4 765.0,1826.2 767.0,1826.0 769.0,1826.0 771.0,1825.6 773.0,1825.6 775.0,1825.6 777.0,1825.4 779.0,1825.2 781.0,1824.8 783.0,1824.6 785.0,1824.5 787.0,1824.4 789.0,1824.1 791.0,1824.1 793.0,1823.9 795.0,1823.8 797.0,1823.9 799.0,1823.6 801.0,1823.7 803.0,1823.9 805.0,1823.8 807.0,1823.4 809.0,1823.4 811.0,1823.3 813.0,1823.5 815.0,1823.4 817.0,1823.1 819.0,1822.7 821.0,1822.6 823.0,1822.6 825.0,1822.5 827.0,1822.4 829.0,1822.4 831.0,1821.9 833.0,1821.7 835.0,1821.8 837.0,1821.8 839.0,1821.9 841.0,1821.7 843.0,1821.7 845.0,1821.5 847.0,1822.0 849.0,1821.8 851.0,1821.5 853.0,1821.7 855.0,1821.9 857.0,1821.8 859.0,1821.6 861.0,1821.6 863.0,1821.6 865.0,1821.2 867.0,1821.0 869.0,1821.2 871.0,1821.6 873.0,1821.7 875.0,1821.5 877.0,1821.7 879.0,1821.6 881.0,1821.3 883.0,1821.1 885.0,1821.1 887.0,1821.4 889.0,1821.7 891.0,1821.5 893.0,1821.0 895.0,1821.1 897.0,1821.5 899.0,1821.4 901.0,1821.3 903.0,1821.6 905.0,1821.8 907.0,1821.7 909.0,1821.6 911.0,1821.8 913.0,1821.6 915.0,1821.5 917.0,1821.5 919.0,1822.2 921.0,1822.3 923.0,1821.9 925.0,1822.0 927.0,1822.1 929.0,1822.3 931.0,1822.4 933.0,1822.3 935.0,1822.2 937.0,1822.1 939.0,1821.9 941.0,1821.8 943.0,1822.3 945.0,1822.4 947.0,1822.6 949.0,1822.6 951.0,1822.5 953.0,1822.7 955.0,1823.1 957.0,1823.1 959.0,1822.9 961.0,1823.1 963.0,1823.5 965.0,1823.6 967.0,1823.6 969.0,1823.7 971.0,1824.0 973.0,1824.1 975.0,1824.6 977.0,1824.1 979.0,1824.2 981.0,1824.7 983.0,1824.5 985.0,1824.5 987.0,1824.7 989.0,1824.4 991.0,1825.0 993.0,1825.2 995.0,1825.3 997.0,1825.3 999.0,1825.9 1001.0,1825.9 1003.0,1825.9 1005.0,1826.1 1007.0,1826.0 1009.0,1826.2 1011.0,1826.1 1013.0,1826.3 1015.0,1826.8 1017.0,1827.1 1019.0,1827.3 1021.0,1827.2 1023.0,1827.4 1025.0,1827.5 1027.0,1827.9 1029.0,1828.3 1031.0,1828.5 1033.0,1828.6 1035.0,1828.4 1037.0,1828.7 1039.0,1828.6 1041.0,1828.7 1043.0,1829.3 1045.0,1829.6 1047.0,1830.0 1049.0,1830.1 1051.0,1829.9 1053.0,1830.1 1055.0,1830.5 1057.0,1830.8 1059.0,1831.0 1061.0,1830.9 1063.0,1831.3 1065.0,1831.9 1067.0,1832.3 1069.0,1832.0 1071.0,1832.6 1073.0,1832.5 1075.0,1832.5 1077.0,1833.2 1079.0,1833.0 1081.0,1833.2 1083.0,1833.9 1085.0,1834.3 1087.0,1834.2 1089.0,1834.2 1091.0,1834.3 1093.0,1834.8 1095.0,1834.6 1097.0,1835.0 1099.0,1835.9 1101.0,1836.3 1103.0,1836.6 1105.0,1836.6 1107.0,1836.5 1109.0,1837.0 1111.0,1836.9 1113.0,1837.7 1115.0,1838.2 1117.0,1838.0 1119.0,1838.6 1121.0,1838.7 1123.0,1838.8 1125.0,1838.7 1127.0,1839.4 1129.0,1839.9 1131.0,1839.7 1133.0,1840.2 1135.0,1840.4 1137.0,1840.6 1139.0,1841.5 1141.0,1841.7 1143.0,1842.0 1145.0,1842.4 1147.0,1842.6 1149.0,1843.6 1151.0,1843.1 1153.0,1843.2 1155.0,1843.9 1157.0,1844.2 1159.0,1844.1 1161.0,1844.5 1163.0,1845.2 1165.0,1845.5 1167.0,1845.9 1169.0,1846.3 1171.0,1846.3 1173.0,1847.0 1175.0,1847.2 1177.0,1847.5 1179.0,1847.6 1181.0,1848.2 1183.0,1848.7 1185.0,1849.4 1187.0,1849.3 1189.0,1849.9 1191.0,1850.2 1193.0,1850.6 1195.0,1850.7 1197.0,1850.9 1199.0,1850.6 1201.0,1851.2 1203.0,1852.2 1205.0,1852.5 1207.0,1852.9 1209.0,1853.1 1211.0,1853.6 1213.0,1853.7 1215.0,1854.2 1217.0,1855.0 1219.0,1855.3 1221.0,1855.2 1223.0,1855.7 1225.0,1856.1 1227.0,1856.4 1229.0,1856.7 1231.0,1856.9 1233.0,1857.6 1235.0,1857.6 1237.0,1858.0 1239.0,1859.3 1241.0,1860.1 1243.0,1860.4 1245.0,1860.2 1247.0,1860.2 1249.0,1861.1 1251.0,1861.8 1253.0,1861.7 1255.0,1861.6 1257.0,1861.4 1259.0,1862.0 1261.0,1863.6 1263.0,1863.0 1265.0,1863.5 1267.0,1864.2 1269.0,1864.7 1271.0,1864.6 1273.0,1865.7 1275.0,1866.3 1277.0,1866.4 1279.0,1866.4 1281.0,1866.7 1283.0,1866.7 1285.0,1868.0 1287.0,1868.1 1289.0,1868.0 1291.0,1869.1 1293.0,1869.9 1295.0,1870.4 1297.0,1871.0 1299.0,1871.5 1301.0,1871.1 1303.0,1871.7 1305.0,1872.1 1307.0,1871.8 1309.0,1873.3 1311.0,1873.3 1313.0,1873.9 1315.0,1874.2 1317.0,1874.2 1319.0,1875.4 1321.0,1876.1 1323.0,1875.6 1325.0,1874.6 1327.0,1877.0 1329.0,1877.0 1331.0,1876.9 1333.0,1877.2 1335.0,1877.4 1337.0,1878.3 1339.0,1879.2 1341.0,1878.8 1343.0,1879.7 1345.0,1879.8 1347.0,1880.3 1349.0,1880.7 1351.0,1881.7 1353.0,1882.5 1355.0,1882.5 1357.0,1883.4 1359.0,1883.9 1361.0,1882.7 1363.0,1884.0 1365.0,1884.0 1367.0,1884.5 1369.0,1885.6 1371.0,1885.2 1373.0,1885.4 1375.0,1887.1 1377.0,1887.5 1379.0,1887.8 1381.0,1889.3 1383.0,1887.0 1385.0,1886.5 1387.0,1887.7 1389.0,1887.9 1391.0,1889.1 1393.0,1889.0 1395.0,1889.3 1397.0,1890.0 1399.0,1889.5 1401.0,1889.1 1403.0,1890.5 1405.0,1892.1 1407.0,1892.5 1409.0,1893.5 1411.0,1894.4 1413.0,1894.1 1415.0,1893.4 1417.0,1893.2 1419.0,1894.6 1421.0,1896.2 1423.0,1896.5 1425.0,1896.0 1427.0,1895.0 1429.0,1896.2 1431.0,1897.0 1433.0,1897.4 1435.0,1895.6 1437.0,1896.2 1439.0,1897.3 1441.0,1897.7 1443.0,1897.5 1445.0,1898.5 1447.0,1898.6 1449.0,1899.8 1451.0,1899.0 1453.0,1899.1 1455.0,1897.8 1457.0,1899.7 1459.0,1899.9 1461.0,1901.1 1463.0,1901.1 1465.0,1902.2 1467.0,1900.9 1469.0,1900.2 1471.0,1902.0 1473.0,1902.7 1475.0,1901.6 1477.0,1901.4 1479.0,1903.8 1481.0,1904.7 1483.0,1904.6 1485.0,1904.1 1487.0,1904.4 1489.0,1906.2 1491.0,1905.6 1493.0,1903.7 1495.0,1903.8 1497.0,1905.9 1499.0,1906.3 1501.0,1905.0 1503.0,1905.2 1505.0,1907.0 1507.0,1906.5 1509.0,1907.2 1511.0,1905.6 1513.0,1905.3 1515.0,1905.2 1517.0,1907.0 1519.0,1906.9 1521.0,1906.0 1523.0,1907.8 1525.0,1907.7 1527.0,1908.5 1529.0,1910.5 1531.0,1910.5 1533.0,1909.8 1535.0,1908.8 1537.0,1907.9 1539.0,1908.6 1541.0,1909.6 1543.0,1911.2 1545.0,1909.4 1547.0,1909.6 1549.0,1910.6 1551.0,1911.5 1553.0,1912.7 1555.0,1912.9 1557.0,1912.0 1559.0,1913.9 1561.0,1912.8 1563.0,1910.9 1565.0,1910.6 1567.0,1911.4 1569.0,1912.2 1571.0,1913.2 1573.0,1911.8 1575.0,1911.8 1577.0,1911.9 1579.0,1912.9 1581.0,1911.8 1583.0,1913.6 1585.0,1912.8 1587.0,1913.5 1589.0,1914.5 1591.0,1915.3 1593.0,1917.4 1595.0,1913.5 1597.0,1911.5 1599.0,1912.8 1601.0,1915.2 1603.0,1914.2 1605.0,1916.0 1607.0,1915.5 1609.0,1915.9 1611.0,1914.2 1613.0,1916.9 1615.0,1917.3 1617.0,1915.5 1619.0,1918.2 1621.0,1919.8 1623.0,1916.8 1625.0,1915.2 1627.0,1915.6 1629.0,1916.5 1631.0,1918.6 1633.0,1919.5 1635.0,1917.1 1637.0,1916.5 1639.0,1915.5 1641.0,1916.6 1643.0,1917.6 1645.0,1915.6 1647.0,1918.5 1649.0,1919.7 1651.0,1919.8 1653.0,1917.5 1655.0,1916.2 1657.0,1917.5 1659.0,1916.8 1661.0,1916.0 1663.0,1917.1 1665.0,1917.6 1667.0,1921.4 1669.0,1921.0 1671.0,1920.4 1673.0,1918.7 1675.0,1921.0 1677.0,1919.9 1679.0,1920.6 1681.0,1919.1 1683.0,1920.2 1685.0,1918.1 1687.0,1919.6 1689.0,1919.7 1691.0,1918.7 1693.0,1920.2 1695.0,1919.9 1697.0,1920.4 1699.0,1922.3 1701.0,1923.0 1703.0,1921.7 1705.0,1923.3 1707.0,1923.4 1709.0,1923.4 1711.0,1923.6 1713.0,1920.7 1715.0,1923.4 1717.0,1922.9 1719.0,1921.7 1721.0,1922.3 1723.0,1924.1 1725.0,1924.7 1727.0,1923.6 1729.0,1921.0 1731.0,1920.6 1733.0,1922.8 1735.0,1923.8 1737.0,1922.7 1739.0,1924.5 1741.0,1924.7 1743.0,1924.2 1745.0,1923.1 1747.0,1925.6 1749.0,1926.0 1751.0,1926.3 1753.0,1924.7 1755.0,1922.7 1757.0,1924.8 1759.0,1925.8 1761.0,1924.3 1763.0,1923.2 1765.0,1925.4 1767.0,1925.6 1769.0,1923.2 1771.0,1923.3 1773.0,1923.0 1775.0,1925.4 1777.0,1926.3 1779.0,1927.8 1781.0,1925.3 1783.0,1927.3 1785.0,1926.0 1787.0,1925.9 1789.0,1924.4 1791.0,1925.6 1793.0,1925.5 1795.0,1926.1 1797.0,1926.8 1799.0,1927.6 1801.0,1928.0 1803.0,1926.7 1805.0,1925.9 1807.0,1928.2 1809.0,1927.3 1811.0,1926.7 1813.0,1929.2 1815.0,1928.5 1817.0,1928.1 1819.0,1925.1 1821.0,1926.9 1823.0,1930.7 1825.0,1929.4 1827.0,1928.6 1829.0,1927.1 1831.0,1927.8 1833.0,1928.7 1835.0,1928.3 1837.0,1927.7 1839.0,1925.6 1841.0,1926.7 1843.0,1928.0 1845.0,1929.7 1847.0,1929.8 1849.0,1928.9 1851.0,1927.7 1853.0,1927.9 1855.0,1928.9 1857.0,1927.3 1859.0,1928.5 1861.0,1928.9 1863.0,1929.6 1865.0,1932.1 1867.0,1930.4 1869.0,1931.6 1871.0,1932.8 1873.0,1931.3 1875.0,1929.9 1877.0,1928.8 1879.0,1932.0 1881.0,1928.5 1883.0,1927.2 1885.0,1931.0 1887.0,1928.3 1889.0,1928.1 1891.0,1928.8 1893.0,1928.0 1895.0,1927.1 1897.0,1930.7 1899.0,1932.1 1901.0,1932.4 1903.0,1931.2 1905.0,1930.4 1907.0,1930.7 1909.0,1933.4 1911.0,1933.0 1913.0,1931.2 1915.0,1931.5 1917.0,1930.0 1919.0,1931.7 1921.0,1930.2 1923.0,1931.1 1925.0,1930.6 1927.0,1927.8 1929.0,1932.2 1931.0,1932.0 1933.0,1930.6 1935.0,1930.7 1937.0,1931.8 1939.0,1932.2 1941.0,1933.1 1943.0,1933.0 1945.0,1933.6 1947.0,1932.7 1949.0,1930.0 1951.0,1930.1 1953.0,1933.2 1955.0,1933.6 1957.0,1932.5 1959.0,1930.5 1961.0,1931.1 1963.0,1931.7 1965.0,1933.6 1967.0,1931.6 1969.0,1930.4 1971.0,1931.6 1973.0,1934.1 1975.0,1935.9 1977.0,1933.5 1979.0,1935.0 1981.0,1933.0 1983.0,1932.4 1985.0,1932.3 1987.0,1934.5 1989.0,1933.5 1991.0,1935.0 1993.0,1934.1 1995.0,1936.7 1997.0,1934.9 1999.0,1933.7 2001.0,1932.5 2003.0,1935.9 2005.0,1935.1 2007.0,1934.3 2009.0,1934.0 2011.0,1933.2 2013.0,1933.3 2015.0,1934.4 2017.0,1933.0 2019.0,1934.6 2021.0,1938.1 2023.0,1934.9 2025.0,1934.2 2027.0,1935.5 2029.0,1933.6 2031.0,1936.5 2033.0,1934.6 2035.0,1932.5 2037.0,1933.6 2039.0,1933.6 2041.0,1935.4 2043.0,1934.3 2045.0,1935.0 2047.0,1931.4 2049.0,1933.4 2051.0,1935.7 2053.0,1935.8 2055.0,1935.3 2057.0,1936.3 2059.0,1936.4 2061.0,1935.1 2063.0,1935.4 2065.0,1936.5 2067.0,1934.4 2069.0,1929.7 2071.0,1930.8 2073.0,1933.3 2075.0,1935.7 2077.0,1935.4 2079.0,1936.3 2081.0,1937.0 2083.0,1935.7 2085.0,1933.6 2087.0,1935.4 2089.0,1932.1 2091.0,1931.7 2093.0,1932.5 2095.0,1931.1 2097.0,1937.7 2099.0,1939.4 2101.0,1935.0 2103.0,1933.0 2105.0,1930.8 2106.0,1934.7 2114.0,1965.6" stroke="#ff00ff"/>
<path d="M305.0,1904.8 313.0,1908.1 315.0,1908.9 317.0,1909.7 319.0,1910.6 321.0,1911.5 323.0,1912.4 325.0,1913.4 327.0,1914.1 329.0,1915.1 331.0,1915.8 333.0,1916.7 335.0,1917.6 337.0,1918.4 339.0,1919.1 341.0,1920.0 343.0,1920.7 345.0,1921.2 347.0,1922.0 349.0,1922.6 351.0,1923.4 353.0,1923.9 355.0,1924.6 357.0,1925.1 359.0,1925.9 361.0,1926.4 363.0,1927.0 365.0,1927.2 367.0,1927.4 369.0,1928.0 371.0,1928.6 373.0,1929.2 375.0,1929.4 377.0,1929.7 379.0,1929.7 381.0,1929.9 383.0,1930.2 385.0,1930.5 387.0,1930.5 389.0,1930.6 391.0,1930.9 393.0,1930.7 395.0,1930.7 397.0,1930.6 399.0,1930.7 401.0,1930.9 403.0,1930.8 405.0,1930.3 407.0,1930.0 409.0,1930.3 411.0,1930.3 413.0,1929.9 415.0,1929.7 417.0,1929.4 419.0,1928.8 421.0,1928.5 423.0,1928.6 425.0,1928.4 427.0,1927.8 429.0,1927.6 431.0,1927.2 433.0,1926.8 435.0,1926.4 437.0,1926.4 439.0,1925.9 441.0,1925.4 443.0,1924.9 445.0,1924.6 447.0,1924.1 449.0,1923.6 451.0,1923.1 453.0,1922.7 455.0,1922.2 457.0,1921.8 459.0,1921.0 461.0,1920.5 463.0,1920.1 465.0,1920.0 467.0,1919.2 469.0,1918.6 471.0,1917.8 473.0,1917.4 475.0,1916.8 477.0,1916.5 479.0,1916.0 481.0,1915.8 483.0,1915.0 485.0,1914.8 487.0,1914.1 489.0,1913.6 491.0,1912.9 493.0,1912.5 495.0,1912.0 497.0,1911.5 499.0,1911.2 501.0,1910.4 503.0,1910.1 505.0,1909.7 507.0,1909.3 509.0,1908.6 511.0,1908.5 513.0,1907.8 515.0,1907.3 517.0,1906.9 519.0,1906.6 521.0,1906.5 523.0,1906.4 525.0,1905.0 527.0,1905.2 529.0,1905.0 531.0,1904.7 533.0,1904.0 535.0,1903.7 537.0,1903.6 539.0,1902.9 541.0,1902.4 543.0,1902.1 545.0,1901.9 547.0,1901.7 549.0,1900.9 551.0,1900.8 553.0,1899.8 555.0,1899.9 557.0,1899.6 559.0,1899.6 561.0,1899.3 563.0,1898.9 565.0,1898.6 567.0,1898.1 569.0,1897.3 571.0,1897.3 573.0,1896.9 575.0,1897.0 577.0,1896.5 579.0,1896.2 581.0,1895.9 583.0,1895.7 585.0,1895.5 587.0,1895.3 589.0,1894.7 591.0,1894.9 593.0,1894.2 595.0,1893.9 597.0,1893.2 599.0,1893.6 601.0,1893.7 603.0,1893.6 605.0,1893.2 607.0,1892.8 609.0,1892.3 611.0,1892.1 613.0,1891.9 615.0,1891.8 617.0,1891.3 619.0,1891.2 621.0,1891.3 623.0,1891.0 625.0,1890.7 627.0,1890.3 629.0,1890.4 631.0,1890.3 633.0,1890.4 635.0,1889.9 637.0,1889.8 639.0,1889.2 641.0,1889.6 643.0,1888.7 645.0,1888.7 647.0,1888.5 649.0,1888.3 651.0,1888.1 653.0,1888.0 655.0,1888.0 657.0,1888.0 659.0,1888.1 661.0,1888.1 663.0,1888.0 665.0,1887.4 667.0,1887.0 669.0,1887.6 671.0,1886.9 673.0,1885.9 675.0,1886.5 677.0,1886.3 679.0,1885.9 681.0,1885.8 683.0,1885.8 685.0,1885.5 687.0,1885.6 689.0,1885.4 691.0,1885.3 693.0,1885.4 695.0,1885.4 697.0,1885.6 699.0,1885.1 701.0,1884.5 703.0,1884.7 705.0,1885.2 707.0,1885.0 709.0,1884.2 711.0,1884.3 713.0,1883.9 715.0,1883.7 717.0,1883.1 719.0,1883.0 721.0,1883.4 723.0,1883.6 725.0,1883.5 727.0,1883.0 729.0,1883.0 731.0,1883.0 733.0,1882.6 735.0,1881.7 737.0,1882.1 739.0,1882.6 741.0,1882.6 743.0,1882.2 745.0,1882.3 747.0,1881.3 749.0,1882.2 751.0,1881.8 753.0,1881.7 755.0,1881.3 757.0,1881.1 759.0,1881.3 761.0,1881.3 763.0,1881.0 765.0,1881.4 767.0,1881.0 769.0,1881.0 771.0,1880.6 773.0,1880.5 775.0,1880.6 777.0,1880.2 779.0,1880.6 781.0,1880.1 783.0,1880.3 785.0,1879.8 787.0,1879.9 789.0,1879.9 791.0,1880.5 793.0,1880.6 795.0,1879.8 797.0,1879.9 799.0,1879.8 801.0,1880.0 803.0,1880.1 805.0,1880.2 807.0,1879.3 809.0,1878.6 811.0,1879.2 813.0,1878.9 815.0,1879.0 817.0,1879.5 819.0,1879.5 821.0,1879.0 823.0,1879.2 825.0,1878.9 827.0,1878.9 829.0,1878.6 831.0,1878.8 833.0,1878.1 835.0,1878.2 837.0,1878.4 839.0,1877.7 841.0,1878.1 843.0,1878.2 845.0,1878.3 847.0,1878.3 849.0,1877.0 851.0,1877.8 853.0,1877.9 855.0,1878.0 857.0,1877.7 859.0,1877.0 861.0,1876.8 863.0,1876.8 865.0,1877.5 867.0,1876.9 869.0,1877.0 871.0,1876.6 873.0,1875.9 875.0,1876.4 877.0,1876.7 879.0,1877.2 881.0,1876.5 883.0,1875.9 885.0,1876.2 887.0,1876.8 889.0,1876.7 891.0,1876.6 893.0,1876.5 895.0,1875.9 897.0,1876.5 899.0,1876.1 901.0,1875.0 903.0,1875.6 905.0,1876.4 907.0,1875.7 909.0,1875.5 911.0,1875.7 913.0,1875.7 915.0,1875.7 917.0,1875.8 919.0,1875.1 921.0,1874.7 923.0,1875.3 925.0,1875.5 927.0,1876.1 929.0,1876.5 931.0,1875.8 933.0,1875.9 935.0,1876.3 937.0,1875.8 939.0,1875.4 941.0,1874.6 943.0,1874.6 945.0,1874.5 947.0,1874.8 949.0,1875.5 951.0,1875.4 953.0,1874.6 955.0,1873.6 957.0,1874.9 959.0,1874.9 961.0,1874.1 963.0,1874.5 965.0,1874.5 967.0,1874.6 969.0,1873.2 971.0,1873.6 973.0,1874.9 975.0,1873.8 977.0,1873.7 979.0,1874.0 981.0,1874.6 983.0,1875.1 985.0,1874.5 987.0,1874.8 989.0,1874.5 991.0,1874.1 993.0,1875.2 995.0,1875.0 997.0,1874.0 999.0,1873.8 1001.0,1873.1 1003.0,1872.7 1005.0,1873.8 1007.0,1874.3 1009.0,1872.1 1011.0,1873.4 1013.0,1875.5 1015.0,1875.2 1017.0,1873.5 1019.0,1873.6 1021.0,1874.6 1023.0,1873.4 1025.0,1873.6 1027.0,1873.4 1029.0,1874.1 1031.0,1874.4 1033.0,1875.0 1035.0,1873.2 1037.0,1872.5 1039.0,1873.4 1041.0,1873.9 1043.0,1874.0 1045.0,1875.5 1047.0,1873.8 1049.0,1873.7 1051.0,1874.7 1053.0,1875.3 1055.0,1874.3 1057.0,1874.1 1059.0,1872.8 1061.0,1872.9 1063.0,1874.0 1065.0,1874.5 1067.0,1874.5 1069.0,1874.5 1071.0,1874.5 1073.0,1873.9 1075.0,1873.5 1077.0,1873.4 1079.0,1872.7 1081.0,1873.0 1083.0,1873.2 1085.0,1874.7 1087.0,1876.1 1089.0,1875.3 1091.0,1875.6 1093.0,1873.6 1095.0,1873.5 1097.0,1874.0 1099.0,1875.4 1101.0,1876.2 1103.0,1875.3 1105.0,1874.7 1107.0,1874.3 1109.0,1873.8 1111.0,1874.6 1113.0,1874.7 1115.0,1874.2 1117.0,1873.6 1119.0,1874.2 1121.0,1874.1 1123.0,1873.8 1125.0,1875.2 1127.0,1874.6 1129.0,1874.7 1131.0,1873.5 1133.0,1873.7 1135.0,1873.5 1137.0,1873.4 1139.0,1874.4 1141.0,1874.1 1143.0,1873.3 1145.0,1873.8 1147.0,1874.6 1149.0,1875.0 1151.0,1876.0 1153.0,1873.2 1155.0,1875.3 1157.0,1875.8 1159.0,1875.3 1161.0,1874.2 1163.0,1873.7 1165.0,1873.1 1167.0,1874.9 1169.0,1874.5 1171.0,1874.8 1173.0,1876.4 1175.0,1874.6 1177.0,1875.1 1179.0,1875.9 1181.0,1875.4 1183.0,1875.8 1185.0,1875.8 1187.0,1875.5 1189.0,1874.1 1191.0,1874.3 1193.0,1876.6 1195.0,1876.4 1197.0,1875.5 1199.0,1875.3 1201.0,1877.0 1203.0,1875.6 1205.0,1875.1 1207.0,1876.6 1209.0,1875.1 1211.0,1875.5 1213.0,1875.9 1215.0,1875.1 1217.0,1876.3 1219.0,1876.8 1221.0,1876.9 1223.0,1876.7 1225.0,1878.1 1227.0,1876.8 1229.0,1876.2 1231.0,1876.9 1233.0,1875.8 1235.0,1874.4 1237.0,1877.2 1239.0,1874.9 1241.0,1874.6 1243.0,1876.8 1245.0,1876.7 1247.0,1878.5 1249.0,1878.9 1251.0,1878.7 1253.0,1877.5 1255.0,1877.5 1257.0,1876.4 1259.0,1878.1 1261.0,1877.7 1263.0,1877.6 1265.0,1877.9 1267.0,1878.1 1269.0,1878.6 1271.0,1879.0 1273.0,1878.1 1275.0,1877.3 1277.0,1877.0 1279.0,1879.9 1281.0,1879.1 1283.0,1877.7 1285.0,1876.7 1287.0,1878.5 1289.0,1877.3 1291.0,1878.6 1293.0,1878.6 1295.0,1879.9 1297.0,1878.4 1299.0,1877.0 1301.0,1876.1 1303.0,1878.3 1305.0,1881.0 1307.0,1879.9 1309.0,1879.2 1311.0,1880.5 1313.0,1879.3 1315.0,1880.3 1317.0,1878.1 1319.0,1878.2 1321.0,1880.2 1323.0,1878.8 1325.0,1880.9 1327.0,1880.8 1329.0,1882.3 1331.0,1880.0 1333.0,1880.3 1335.0,1882.1 1337.0,1880.2 1339.0,1880.5 1341.0,1879.9 1343.0,1881.8 1345.0,1880.9 1347.0,1879.7 1349.0,1880.6 1351.0,1880.2 1353.0,1881.6 1355.0,1880.8 1357.0,1884.7 1359.0,1884.6 1361.0,1880.2 1363.0,1881.7 1365.0,1880.8 1367.0,1880.5 1369.0,1880.8 1371.0,1883.3 1373.0,1880.8 1375.0,1883.6 1377.0,1881.1 1379.0,1883.2 1381.0,1882.6 1383.0,1881.9 1385.0,1881.5 1387.0,1882.4 1389.0,1883.9 1391.0,1884.8 1393.0,1881.6 1395.0,1883.3 1397.0,1883.2 1399.0,1882.6 1401.0,1883.4 1403.0,1883.6 1405.0,1882.7 1407.0,1883.3 1409.0,1884.3 1411.0,1883.9 1413.0,1884.6 1415.0,1883.6 1417.0,1884.9 1419.0,1885.6 1421.0,1885.6 1423.0,1885.5 1425.0,1885.2 1427.0,1884.8 1429.0,1884.3 1431.0,1884.5 1433.0,1885.1 1435.0,1884.2 1437.0,1887.1 1439.0,1884.5 1441.0,1885.8 1443.0,1888.2 1445.0,1889.1 1447.0,1887.8 1449.0,1886.4 1451.0,1885.0 1453.0,1886.8 1455.0,1886.2 1457.0,1885.0 1459.0,1886.6 1461.0,1888.7 1463.0,1888.6 1465.0,1888.5 1467.0,1889.1 1469.0,1888.9 1471.0,1888.5 1473.0,1887.9 1475.0,1888.2 1477.0,1887.6 1479.0,1887.2 1481.0,1887.7 1483.0,1890.8 1485.0,1890.3 1487.0,1890.1 1489.0,1889.3 1491.0,1889.2 1493.0,1888.2 1495.0,1888.6 1497.0,1891.1 1499.0,1891.8 1501.0,1887.4 1503.0,1887.9 1505.0,1888.1 1507.0,1887.7 1509.0,1888.6 1511.0,1888.8 1513.0,1888.5 1515.0,1889.8 1517.0,1888.5 1519.0,1892.0 1521.0,1891.8 1523.0,1890.0 1525.0,1888.9 1527.0,1889.2 1529.0,1891.3 1531.0,1893.8 1533.0,1893.7 1535.0,1892.7 1537.0,1890.3 1539.0,1891.5 1541.0,1892.9 1543.0,1892.8 1545.0,1892.6 1547.0,1892.0 1549.0,1891.8 1551.0,1892.3 1553.0,1892.9 1555.0,1893.1 1557.0,1894.2 1559.0,1893.0 1561.0,1896.1 1563.0,1894.6 1565.0,1893.6 1567.0,1895.0 1569.0,1894.2 1571.0,1891.5 1573.0,1893.3 1575.0,1895.7 1577.0,1895.3 1579.0,1896.3 1581.0,1894.0 1583.0,1894.2 1585.0,1894.0 1587.0,1894.4 1589.0,1893.7 1591.0,1894.1 1593.0,1896.2 1595.0,1893.9 1597.0,1894.8 1599.0,1897.4 1601.0,1899.3 1603.0,1899.0 1605.0,1897.5 1607.0,1895.9 1609.0,1896.3 1611.0,1897.5 1613.0,1896.0 1615.0,1893.9 1617.0,1896.0 1619.0,1895.4 1621.0,1892.5 1623.0,1895.6 1625.0,1896.2 1627.0,1897.5 1629.0,1897.9 1631.0,1899.7 1633.0,1899.5 1635.0,1896.8 1637.0,1895.5 1639.0,1897.8 1641.0,1900.1 1643.0,1898.5 1645.0,1898.4 1647.0,1898.9 1649.0,1898.2 1651.0,1898.1 1653.0,1898.3 1655.0,1898.1 1657.0,1897.5 1659.0,1900.7 1661.0,1898.4 1663.0,1900.1 1665.0,1898.6 1667.0,1900.7 1669.0,1900.2 1671.0,1901.1 1673.0,1903.1 1675.0,1901.0 1677.0,1898.7 1679.0,1898.3 1681.0,1896.9 1683.0,1897.3 1685.0,1898.7 1687.0,1901.2 1689.0,1900.4 1691.0,1901.2 1693.0,1899.4 1695.0,1898.8 1697.0,1899.6 1699.0,1899.7 1701.0,1901.5 1703.0,1904.6 1705.0,1902.7 1707.0,1903.1 1709.0,1901.8 1711.0,1899.7 1713.0,1899.9 1715.0,1902.8 1717.0,1902.2 1719.0,1902.6 1721.0,1900.7 1723.0,1900.0 1725.0,1902.6 1727.0,1902.1 1729.0,1900.5 1731.0,1903.5 1733.0,1905.2 1735.0,1903.3 1737.0,1903.2 1739.0,1902.4 1741.0,1902.7 1743.0,1904.4 1745.0,1905.5 1747.0,1903.6 1749.0,1902.7 1751.0,1902.3 1753.0,1904.1 1755.0,1904.9 1757.0,1903.5 1759.0,1902.4 1761.0,1905.7 1763.0,1905.7 1765.0,1904.1 1767.0,1906.8 1769.0,1905.3 1771.0,1904.7 1773.0,1904.0 1775.0,1906.5 1777.0,1906.6 1779.0,1903.6 1781.0,1904.1 1783.0,1901.5 1785.0,1902.2 1787.0,1904.2 1789.0,1906.8 1791.0,1906.5 1793.0,1906.5 1795.0,1905.5 1797.0,1906.4 1799.0,1904.5 1801.0,1906.6 1803.0,1905.0 1805.0,1907.2 1807.0,1909.5 1809.0,1909.2 1811.0,1909.1 1813.0,1907.6 1815.0,1903.0 1817.0,1905.4 1819.0,1908.3 1821.0,1907.2 1823.0,1906.4 1825.0,1908.6 1827.0,1909.6 1829.0,1907.2 1831.0,1908.8 1833.0,1908.9 1835.0,1909.9 1837.0,1911.3 1839.0,1909.1 1841.0,1910.9 1843.0,1911.5 1845.0,1906.9 1847.0,1908.0 1849.0,1908.2 1851.0,1909.6 1853.0,1908.0 1855.0,1908.7 1857.0,1910.4 1859.0,1909.0 1861.0,1907.1 1863.0,1907.6 1865.0,1907.5 1867.0,1907.6 1869.0,1911.3 1871.0,1912.4 1873.0,1909.6 1875.0,1913.6 1877.0,1911.1 1879.0,1906.7 1881.0,1906.1 1883.0,1907.9 1885.0,1911.3 1887.0,1907.8 1889.0,1908.5 1891.0,1912.3 1893.0,1910.4 1895.0,1910.3 1897.0,1907.7 1899.0,1910.0 1901.0,1908.9 1903.0,1908.7 1905.0,1908.5 1907.0,1910.1 1909.0,1905.9 1911.0,1910.8 1913.0,1913.9 1915.0,1912.9 1917.0,1909.1 1919.0,1912.7 1921.0,1913.5 1923.0,1913.5 1925.0,1911.8 1927.0,1914.5 1929.0,1913.2 1931.0,1910.1 1933.0,1910.4 1935.0,1911.9 1937.0,1914.0 1939.0,1914.5 1941.0,1914.0 1943.0,1911.5 1945.0,1911.7 1947.0,1910.8 1949.0,1912.0 1951.0,1910.9 1953.0,1912.7 1955.0,1914.8 1957.0,1913.0 1959.0,1915.5 1961.0,1916.0 1963.0,1913.2 1965.0,1917.3 1967.0,1916.3 1969.0,1912.9 1971.0,1913.2 1973.0,1912.9 1975.0,1914.7 1977.0,1915.0 1979.0,1913.5 1981.0,1913.9 1983.0,1912.8 1985.0,1910.6 1987.0,1911.4 1989.0,1914.6 1991.0,1911.4 1993.0,1913.9 1995.0,1917.4 1997.0,1917.6 1999.0,1917.4 2001.0,1913.3 2003.0,1916.2 2005.0,1916.8 2007.0,1915.6 2009.0,1916.1 2011.0,1916.4 2013.0,1918.6 2015.0,1914.7 2017.0,1913.6 2019.0,1916.7 2021.0,1913.4 2023.0,1914.0 2025.0,1916.2 2027.0,1915.0 2029.0,1914.5 2031.0,1916.9 2033.0,1913.3 2035.0,1916.0 2037.0,1915.2 2039.0,1915.9 2041.0,1918.1 2043.0,1918.1 2045.0,1918.2 2047.0,1920.7 2049.0,1917.4 2051.0,1920.3 2053.0,1918.3 2055.0,1917.6 2057.0,1918.4 2059.0,1919.0 2061.0,1915.6 2063.0,1921.9 2065.0,1922.4 2067.0,1915.7 2069.0,1914.6 2071.0,1916.2 2073.0,1916.8 2075.0,1917.8 2077.0,1918.0 2079.0,1918.8 2081.0,1922.1 2083.0,1916.6 2085.0,1914.1 2087.0,1916.4 2089.0,1915.4 2091.0,1910.2 2093.0,1913.0 2095.0,1913.6 2097.0,1912.8 2099.0,1916.7 2101.0,1919.2 2103.0,1916.1 2105.0,1916.3 2106.0,1918.5 2114.0,1935.4" stroke="#ff8000"/>
<path d="M305.0,1795.5 313.0,1795.7 315.0,1795.7 317.0,1795.7 319.0,1795.8 321.0,1795.8 323.0,1795.8 325.0,1795.7 327.0,1795.7 329.0,1795.7 331.0,1795.6 333.0,1795.5 335.0,1795.4 337.0,1795.2 339.0,1795.1 341.0,1794.9 343.0,1794.7 345.0,1794.5 347.0,1794.2 349.0,1793.9 351.0,1793.6 353.0,1793.2 355.0,1792.8 357.0,1792.4 359.0,1791.9 361.0,1791.4 363.0,1790.9 365.0,1790.3 367.0,1789.7 369.0,1789.0 371.0,1788.3 373.0,1787.6 375.0,1786.8 377.0,1786.0 379.0,1785.1 381.0,1784.2 383.0,1783.2 385.0,1782.3 387.0,1781.2 389.0,1780.2 391.0,1779.1 393.0,1778.0 395.0,1776.9 397.0,1775.7 399.0,1774.6 401.0,1773.4 403.0,1772.2 405.0,1771.0 407.0,1769.7 409.0,1768.5 411.0,1767.3 413.0,1766.0 415.0,1764.8 417.0,1763.5 419.0,1762.3 421.0,1761.0 423.0,1759.8 425.0,1758.6 427.0,1757.3 429.0,1756.1 431.0,1755.0 433.0,1753.8 435.0,1752.6 437.0,1751.5 439.0,1750.4 441.0,1749.3 443.0,1748.2 445.0,1747.2 447.0,1746.1 449.0,1745.1 451.0,1744.2 453.0,1743.2 455.0,1742.3 457.0,1741.4 459.0,1740.5 461.0,1739.7 463.0,1738.9 465.0,1738.1 467.0,1737.3 469.0,1736.6 471.0,1735.9 473.0,1735.3 475.0,1734.7 477.0,1734.1 479.0,1733.5 481.0,1733.0 483.0,1732.5 485.0,1732.1 487.0,1731.6 489.0,1731.3 491.0,1730.9 493.0,1730.7 495.0,1730.4 497.0,1730.2 499.0,1730.0 501.0,1729.9 503.0,1729.8 505.0,1729.8 507.0,1729.8 509.0,1729.8 511.0,1729.9 513.0,1730.1 515.0,1730.2 517.0,1730.5 519.0,1730.8 521.0,1731.1 523.0,1731.5 525.0,1731.9 527.0,1732.4 529.0,1732.9 531.0,1733.5 533.0,1734.2 535.0,1734.9 537.0,1735.6 539.0,1736.5 541.0,1737.3 543.0,1738.3 545.0,1739.2 547.0,1740.3 549.0,1741.4 551.0,1742.5 553.0,1743.8 555.0,1745.1 557.0,1746.4 559.0,1747.8 561.0,1749.3 563.0,1750.8 565.0,1752.4 567.0,1754.1 569.0,1755.8 571.0,1757.6 573.0,1759.4 575.0,1761.4 577.0,1763.3 579.0,1765.4 581.0,1767.5 583.0,1769.6 585.0,1771.9 587.0,1774.2 589.0,1776.5 591.0,1778.9 593.0,1781.3 595.0,1783.7 597.0,1786.1 599.0,1788.5 601.0,1791.0 603.0,1793.4 605.0,1795.7 607.0,1798.1 609.0,1800.4 611.0,1802.6 613.0,1804.8 615.0,1806.9 617.0,1808.9 619.0,1810.9 621.0,1812.8 623.0,1814.6 625.0,1816.4 627.0,1818.0 629.0,1819.7 631.0,1821.2 633.0,1822.7 635.0,1824.1 637.0,1825.4 639.0,1826.7 641.0,1827.9 643.0,1829.0 645.0,1830.1 647.0,1831.1 649.0,1832.0 651.0,1832.9 653.0,1833.7 655.0,1834.4 657.0,1835.1 659.0,1835.7 661.0,1836.2 663.0,1836.7 665.0,1837.1 667.0,1837.5 669.0,1837.8 671.0,1838.0 673.0,1838.2 675.0,1838.3 677.0,1838.3 679.0,1838.3 681.0,1838.3 683.0,1838.2 685.0,1838.1 687.0,1838.0 689.0,1837.9 691.0,1837.7 693.0,1837.6 695.0,1837.5 697.0,1837.4 699.0,1837.3 701.0,1837.2 703.0,1837.2 705.0,1837.2 707.0,1837.3 709.0,1837.4 711.0,1837.6 713.0,1837.8 715.0,1838.0 717.0,1838.3 719.0,1838.7 721.0,1839.1 723.0,1839.5 725.0,1840.0 727.0,1840.5 729.0,1841.1 731.0,1841.8 733.0,1842.5 735.0,1843.3 737.0,1844.1 739.0,1844.9 741.0,1845.8 743.0,1846.7 745.0,1847.6 747.0,1848.5 749.0,1849.4 751.0,1850.4 753.0,1851.3 755.0,1852.1 757.0,1853.0 759.0,1853.8 761.0,1854.6 763.0,1855.3 765.0,1855.9 767.0,1856.5 769.0,1857.1 771.0,1857.6 773.0,1858.1 775.0,1858.5 777.0,1858.9 779.0,1859.3 781.0,1859.7 783.0,1860.0 785.0,1860.4 787.0,1860.7 789.0,1861.0 791.0,1861.4 793.0,1861.7 795.0,1862.1 797.0,1862.4 799.0,1862.8 801.0,1863.2 803.0,1863.7 805.0,1864.1 807.0,1864.5 809.0,1865.0 811.0,1865.4 813.0,1865.9 815.0,1866.4 817.0,1866.8 819.0,1867.3 821.0,1867.8 823.0,1868.3 825.0,1868.8 827.0,1869.3 829.0,1869.8 831.0,1870.3 833.0,1870.8 835.0,1871.3 837.0,1871.8 839.0,1872.3 841.0,1872.8 843.0,1873.3 845.0,1873.8 847.0,1874.3 849.0,1874.8 851.0,1875.2 853.0,1875.7 855.0,1876.2 857.0,1876.6 859.0,1877.1 861.0,1877.5 863.0,1877.9 865.0,1878.3 867.0,1878.7 869.0,1879.1 871.0,1879.4 873.0,1879.7 875.0,1880.1 877.0,1880.4 879.0,1880.6 881.0,1880.9 883.0,1881.1 885.0,1881.3 887.0,1881.5 889.0,1881.6 891.0,1881.8 893.0,1881.9 895.0,1882.0 897.0,1882.1 899.0,1882.2 901.0,1882.4 903.0,1882.5 905.0,1882.6 907.0,1882.7 909.0,1882.8 911.0,1883.0 913.0,1883.2 915.0,1883.3 917.0,1883.5 919.0,1883.8 921.0,1884.1 923.0,1884.4 925.0,1884.7 927.0,1885.1 929.0,1885.5 931.0,1886.0 933.0,1886.5 935.0,1887.0 937.0,1887.7 939.0,1888.4 941.0,1889.1 943.0,1889.9 945.0,1890.8 947.0,1891.7 949.0,1892.7 951.0,1893.8 953.0,1894.9 955.0,1896.0 957.0,1897.2 959.0,1898.3 961.0,1899.5 963.0,1900.8 965.0,1902.0 967.0,1903.2 969.0,1904.4 971.0,1905.6 973.0,1906.7 975.0,1907.9 977.0,1909.0 979.0,1910.1 981.0,1911.1 983.0,1912.2 985.0,1913.2 987.0,1914.2 989.0,1915.1 991.0,1916.0 993.0,1916.9 995.0,1917.8 997.0,1918.7 999.0,1919.5 1001.0,1920.3 1003.0,1921.1 1005.0,1921.9 1007.0,1922.6 1009.0,1923.3 1011.0,1924.0 1013.0,1924.7 1015.0,1925.3 1017.0,1926.0 1019.0,1926.6 1021.0,1927.2 1023.0,1927.8 1025.0,1928.3 1027.0,1928.9 1029.0,1929.4 1031.0,1929.9 1033.0,1930.4 1035.0,1930.8 1037.0,1931.3 1039.0,1931.7 1041.0,1932.1 1043.0,1932.5 1045.0,1932.9 1047.0,1933.3 1049.0,1933.6 1051.0,1934.0 1053.0,1934.3 1055.0,1934.6 1057.0,1934.9 1059.0,1935.2 1061.0,1935.5 1063.0,1935.8 1065.0,1936.0 1067.0,1936.2 1069.0,1936.5 1071.0,1936.7 1073.0,1936.9 1075.0,1937.1 1077.0,1937.3 1079.0,1937.5 1081.0,1937.6 1083.0,1937.8 1085.0,1937.9 1087.0,1938.1 1089.0,1938.2 1091.0,1938.4 1093.0,1938.5 1095.0,1938.6 1097.0,1938.7 1099.0,1938.8 1101.0,1938.9 1103.0,1939.0 1105.0,1939.1 1107.0,1939.2 1109.0,1939.3 1111.0,1939.3 1113.0,1939.4 1115.0,1939.4 1117.0,1939.5 1119.0,1939.6 1121.0,1939.6 1123.0,1939.6 1125.0,1939.7 1127.0,1939.7 1129.0,1939.7 1131.0,1939.8 1133.0,1939.8 1135.0,1939.8 1137.0,1939.8 1139.0,1939.8 1141.0,1939.9 1143.0,1939.9 1145.0,1939.9 1147.0,1939.9 1149.0,1939.9 1151.0,1939.9 1153.0,1939.9 1155.0,1939.9 1157.0,1939.8 1159.0,1939.8 1161.0,1939.8 1163.0,1939.8 1165.0,1939.8 1167.0,1939.8 1169.0,1939.8 1171.0,1939.7 1173.0,1939.7 1175.0,1939.7 1177.0,1939.7 1179.0,1939.7 1181.0,1939.6 1183.0,1939.6 1185.0,1939.6 1187.0,1939.6 1189.0,1939.6 1191.0,1939.6 1193.0,1939.5 1195.0,1939.5 1197.0,1939.5 1199.0,1939.5 1201.0,1939.5 1203.0,1939.5 1205.0,1939.5 1207.0,1939.5 1209.0,1939.5 1211.0,1939.5 1213.0,1939.5 1215.0,1939.5 1217.0,1939.5 1219.0,1939.5 1221.0,1939.5 1223.0,1939.5 1225.0,1939.5 1227.0,1939.5 1229.0,1939.5 1231.0,1939.5 1233.0,1939.5 1235.0,1939.5 1237.0,1939.6 1239.0,1939.6 1241.0,1939.6 1243.0,1939.6 1245.0,1939.6 1247.0,1939.6 1249.0,1939.6 1251.0,1939.7 1253.0,1939.7 1255.0,1939.7 1257.0,1939.7 1259.0,1939.7 1261.0,1939.7 1263.0,1939.8 1265.0,1939.8 1267.0,1939.8 1269.0,1939.8 1271.0,1939.8 1273.0,1939.8 1275.0,1939.8 1277.0,1939.8 1279.0,1939.8 1281.0,1939.8 1283.0,1939.8 1285.0,1939.8 1287.0,1939.8 1289.0,1939.8 1291.0,1939.8 1293.0,1939.8 1295.0,1939.8 1297.0,1939.8 1299.0,1939.8 1301.0,1939.8 1303.0,1939.7 1305.0,1939.7 1307.0,1939.7 1309.0,1939.7 1311.0,1939.6 1313.0,1939.6 1315.0,1939.6 1317.0,1939.5 1319.0,1939.5 1321.0,1939.4 1323.0,1939.4 1325.0,1939.3 1327.0,1939.3 1329.0,1939.2 1331.0,1939.1 1333.0,1939.1 1335.0,1939.0 1337.0,1938.9 1339.0,1938.8 1341.0,1938.8 1343.0,1938.7 1345.0,1938.6 1347.0,1938.5 1349.0,1938.4 1351.0,1938.3 1353.0,1938.2 1355.0,1938.1 1357.0,1938.0 1359.0,1937.9 1361.0,1937.8 1363.0,1937.7 1365.0,1937.6 1367.0,1937.5 1369.0,1937.4 1371.0,1937.3 1373.0,1937.2 1375.0,1937.1 1377.0,1937.0 1379.0,1936.9 1381.0,1936.8 1383.0,1936.7 1385.0,1936.6 1387.0,1936.5 1389.0,1936.4 1391.0,1936.3 1393.0,1936.2 1395.0,1936.1 1397.0,1936.0 1399.0,1935.9 1401.0,1935.8 1403.0,1935.8 1405.0,1935.7 1407.0,1935.6 1409.0,1935.5 1411.0,1935.5 1413.0,1935.4 1415.0,1935.3 1417.0,1935.3 1419.0,1935.2 1421.0,1935.2 1423.0,1935.1 1425.0,1935.1 1427.0,1935.0 1429.0,1935.0 1431.0,1935.0 1433.0,1935.0 1435.0,1934.9 1437.0,1934.9 1439.0,1934.9 1441.0,1934.9 1443.0,1934.9 1445.0,1934.9 1447.0,1935.0 1449.0,1935.0 1451.0,1935.0 1453.0,1935.1 1455.0,1935.1 1457.0,1935.2 1459.0,1935.2 1461.0,1935.2 1463.0,1935.3 1465.0,1935.3 1467.0,1935.4 1469.0,1935.4 1471.0,1935.5 1473.0,1935.5 1475.0,1935.6 1477.0,1935.6 1479.0,1935.6 1481.0,1935.6 1483.0,1935.6 1485.0,1935.6 1487.0,1935.6 1489.0,1935.6 1491.0,1935.6 1493.0,1935.5 1495.0,1935.4 1497.0,1935.4 1499.0,1935.3 1501.0,1935.2 1503.0,1935.0 1505.0,1934.9 1507.0,1934.7 1509.0,1934.6 1511.0,1934.4 1513.0,1934.1 1515.0,1933.9 1517.0,1933.6 1519.0,1933.4 1521.0,1933.1 1523.0,1932.7 1525.0,1932.4 1527.0,1932.0 1529.0,1931.6 1531.0,1931.2 1533.0,1930.8 1535.0,1930.3 1537.0,1929.8 1539.0,1929.3 1541.0,1928.8 1543.0,1928.2 1545.0,1927.6 1547.0,1927.0 1549.0,1926.4 1551.0,1925.7 1553.0,1925.1 1555.0,1924.3 1557.0,1923.6 1559.0,1922.8 1561.0,1922.1 1563.0,1921.2 1565.0,1920.4 1567.0,1919.5 1569.0,1918.6 1571.0,1917.7 1573.0,1916.7 1575.0,1915.8 1577.0,1914.8 1579.0,1913.8 1581.0,1912.8 1583.0,1911.7 1585.0,1910.7 1587.0,1909.7 1589.0,1908.7 1591.0,1907.7 1593.0,1906.7 1595.0,1905.7 1597.0,1904.7 1599.0,1903.8 1601.0,1902.9 1603.0,1902.0 1605.0,1901.2 1607.0,1900.5 1609.0,1899.8 1611.0,1899.2 1613.0,1898.8 1615.0,1898.4 1617.0,1898.2 1619.0,1898.2 1621.0,1898.3 1623.0,1898.5 1625.0,1899.0 1627.0,1899.6 1629.0,1900.4 1631.0,1901.5 1633.0,1902.7 1635.0,1904.0 1637.0,1905.5 1639.0,1907.0 1641.0,1908.7 1643.0,1910.4 1645.0,1912.2 1647.0,1914.0 1649.0,1915.8 1651.0,1917.6 1653.0,1919.3 1655.0,1921.0 1657.0,1922.6 1659.0,1924.1 1661.0,1925.6 1663.0,1926.9 1665.0,1928.1 1667.0,1929.3 1669.0,1930.4 1671.0,1931.5 1673.0,1932.4 1675.0,1933.3 1677.0,1934.2 1679.0,1935.0 1681.0,1935.8 1683.0,1936.5 1685.0,1937.2 1687.0,1937.8 1689.0,1938.4 1691.0,1939.0 1693.0,1939.6 1695.0,1940.1 1697.0,1940.7 1699.0,1941.2 1701.0,1941.6 1703.0,1942.1 1705.0,1942.5 1707.0,1942.9 1709.0,1943.3 1711.0,1943.6 1713.0,1944.0 1715.0,1944.3 1717.0,1944.6 1719.0,1944.9 1721.0,1945.1 1723.0,1945.4 1725.0,1945.6 1727.0,1945.8 1729.0,1946.0 1731.0,1946.2 1733.0,1946.3 1735.0,1946.5 1737.0,1946.6 1739.0,1946.7 1741.0,1946.8 1743.0,1946.9 1745.0,1947.0 1747.0,1947.1 1749.0,1947.1 1751.0,1947.2 1753.0,1947.2 1755.0,1947.2 1757.0,1947.2 1759.0,1947.2 1761.0,1947.2 1763.0,1947.2 1765.0,1947.2 1767.0,1947.2 1769.0,1947.1 1771.0,1947.1 1773.0,1947.0 1775.0,1947.0 1777.0,1946.9 1779.0,1946.9 1781.0,1946.8 1783.0,1946.8 1785.0,1946.7 1787.0,1946.6 1789.0,1946.6 1791.0,1946.5 1793.0,1946.4 1795.0,1946.4 1797.0,1946.3 1799.0,1946.3 1801.0,1946.2 1803.0,1946.1 1805.0,1946.1 1807.0,1946.0 1809.0,1946.0 1811.0,1945.9 1813.0,1945.9 1815.0,1945.9 1817.0,1945.8 1819.0,1945.8 1821.0,1945.8 1823.0,1945.8 1825.0,1945.7 1827.0,1945.7 1829.0,1945.7 1831.0,1945.7 1833.0,1945.7 1835.0,1945.7 1837.0,1945.7 1839.0,1945.7 1841.0,1945.7 1843.0,1945.7 1845.0,1945.7 1847.0,1945.7 1849.0,1945.8 1851.0,1945.8 1853.0,1945.8 1855.0,1945.8 1857.0,1945.8 1859.0,1945.9 1861.0,1945.9 1863.0,1945.9 1865.0,1945.9 1867.0,1946.0 1869.0,1946.0 1871.0,1946.0 1873.0,1946.1 1875.0,1946.1 1877.0,1946.1 1879.0,1946.2 1881.0,1946.2 1883.0,1946.2 1885.0,1946.3 1887.0,1946.3 1889.0,1946.3 1891.0,1946.4 1893.0,1946.4 1895.0,1946.5 1897.0,1946.5 1899.0,1946.5 1901.0,1946.6 1903.0,1946.6 1905.0,1946.6 1907.0,1946.7 1909.0,1946.7 1911.0,1946.7 1913.0,1946.7 1915.0,1946.8 1917.0,1946.8 1919.0,1946.8 1921.0,1946.8 1923.0,1946.9 1925.0,1946.9 1927.0,1946.9 1929.0,1946.9 1931.0,1946.9 1933.0,1947.0 1935.0,1947.0 1937.0,1947.0 1939.0,1947.0 1941.0,1947.0 1943.0,1947.0 1945.0,1947.0 1947.0,1947.0 1949.0,1947.0 1951.0,1947.0 1953.0,1947.0 1955.0,1947.0 1957.0,1947.0 1959.0,1947.0 1961.0,1947.0 1963.0,1947.0 1965.0,1946.9 1967.0,1946.9 1969.0,1946.9 1971.0,1946.9 1973.0,1946.9 1975.0,1946.9 1977.0,1946.9 1979.0,1946.9 1981.0,1946.8 1983.0,1946.8 1985.0,1946.8 1987.0,1946.8 1989.0,1946.8 1991.0,1946.8 1993.0,1946.8 1995.0,1946.7 1997.0,1946.7 1999.0,1946.7 2001.0,1946.7 2003.0,1946.7 2005.0,1946.7 2007.0,1946.6 2009.0,1946.6 2011.0,1946.6 2013.0,1946.6 2015.0,1946.6 2017.0,1946.6 2019.0,1946.6 2021.0,1946.5 2023.0,1946.5 2025.0,1946.5 2027.0,1946.5 2029.0,1946.5 2031.0,1946.5 2033.0,1946.5 2035.0,1946.5 2037.0,1946.5 2039.0,1946.5 2041.0,1946.5 2043.0,1946.5 2045.0,1946.5 2047.0,1946.5 2049.0,1946.5 2051.0,1946.5 2053.0,1946.5 2055.0,1946.5 2057.0,1946.5 2059.0,1946.5 2061.0,1946.5 2063.0,1946.5 2065.0,1946.5 2067.0,1946.6 2069.0,1946.6 2071.0,1946.6 2073.0,1946.6 2075.0,1946.6 2077.0,1946.6 2079.0,1946.7 2081.0,1946.7 2083.0,1946.7 2085.0,1946.7 2087.0,1946.7 2089.0,1946.7 2091.0,1946.7 2093.0,1946.8 2095.0,1946.8 2097.0,1946.8 2099.0,1946.8 2101.0,1946.8 2103.0,1946.8 2105.0,1946.8 2106.0,1946.8 2114.0,1946.9" stroke="#008000"/>
</g>
<g font-size="75" fill="#000">
<g text-anchor="end">
<text x="255" y="1970.0">0.0</text>
<text x="255" y="1863.6">0.5</text>
<text x="255" y="1757.2">1.0</text>
<text x="255" y="1650.8">1.5</text>
<text x="255" y="1544.5">2.0</text>
<text x="255" y="1438.1">2.5</text>
<text x="255" y="1331.7">3.0</text>
<text x="255" y="1225.3">3.5</text>
</g><g text-anchor="middle">
<text x="313.0" y="2064.0">300</text>
<text x="492.3" y="2064.0">350</text>
<text x="671.6" y="2064.0">400</text>
<text x="850.9" y="2064.0">450</text>
<text x="1030.2" y="2064.0">500</text>
<text x="1209.5" y="2064.0">550</text>
<text x="1388.8" y="2064.0">600</text>
<text x="1568.1" y="2064.0">650</text>
<text x="1747.4" y="2064.0">700</text>
<text x="1926.7" y="2064.0">750</text>
<text x="2106.0" y="2064.0">800</text>
</g></g>
<g font-weight="bold" fill="#000">
<text x="47" y="1134" font-size="65">(B)</text>
<text x="1208.5" y="2176" font-size="58" text-anchor="middle">Wavelength (nm)</text>
<text transform="translate(105,1602.2) rotate(-90)" font-size="58" text-anchor="middle">Absorbance (a.u.)</text>
<g stroke-width="13.5" stroke-linecap="round">
<path d="M1670,1282.7H1781" stroke="#008000"/>
<path d="M1670,1361.8H1781" stroke="#ff8000"/>
<path d="M1670,1440.9H1781" stroke="#ff00ff"/>
<path d="M1670,1520.0H1781" stroke="#0000ff"/>
<path d="M1670,1599.1H1781" stroke="#ff0000"/>
<path d="M1670,1678.2H1781" stroke="#000000"/>
</g>
<g font-size="58">
<text x="1809" y="1299.7">EXT-<tspan font-style="italic">AL</tspan></text>
<text x="1809" y="1378.8">10 <tspan class="mu">μ</tspan>g/mL</text>
<text x="1809" y="1457.9">20 <tspan class="mu">μ</tspan>g/mL</text>
<text x="1809" y="1537.0">50 <tspan class="mu">μ</tspan>g/mL</text>
<text x="1809" y="1616.1">100 <tspan class="mu">μ</tspan>g/mL</text>
<text x="1809" y="1695.2">200 <tspan class="mu">μ</tspan>g/mL</text>
</g></g>
</g>
<g id="panelC">
<g stroke="#000" stroke-width="7" fill="none" stroke-linecap="butt">
<path d="M313.0,2262.5V3048.0"/>
<path d="M276.0,3011.0H2109.5"/>
<path d="M293.0,2986.2H313.0M293.0,2961.3H313.0M293.0,2936.5H313.0M293.0,2911.7H313.0M276.0,2886.8H313.0M293.0,2862.0H313.0M293.0,2837.2H313.0M293.0,2812.3H313.0M293.0,2787.5H313.0M276.0,2762.7H313.0M293.0,2737.8H313.0M293.0,2713.0H313.0M293.0,2688.2H313.0M293.0,2663.3H313.0M276.0,2638.5H313.0M293.0,2613.7H313.0M293.0,2588.8H313.0M293.0,2564.0H313.0M293.0,2539.2H313.0M276.0,2514.3H313.0M293.0,2489.5H313.0M293.0,2464.7H313.0M293.0,2439.8H313.0M293.0,2415.0H313.0M276.0,2390.2H313.0M293.0,2365.3H313.0M293.0,2340.5H313.0M293.0,2315.7H313.0M293.0,2290.8H313.0M276.0,2266.0H313.0M348.9,3011.0V3031.0M384.7,3011.0V3031.0M420.6,3011.0V3031.0M456.4,3011.0V3031.0M492.3,3011.0V3048.0M528.2,3011.0V3031.0M564.0,3011.0V3031.0M599.9,3011.0V3031.0M635.7,3011.0V3031.0M671.6,3011.0V3048.0M707.5,3011.0V3031.0M743.3,3011.0V3031.0M779.2,3011.0V3031.0M815.0,3011.0V3031.0M850.9,3011.0V3048.0M886.8,3011.0V3031.0M922.6,3011.0V3031.0M958.5,3011.0V3031.0M994.3,3011.0V3031.0M1030.2,3011.0V3048.0M1066.1,3011.0V3031.0M1101.9,3011.0V3031.0M1137.8,3011.0V3031.0M1173.6,3011.0V3031.0M1209.5,3011.0V3048.0M1245.4,3011.0V3031.0M1281.2,3011.0V3031.0M1317.1,3011.0V3031.0M1352.9,3011.0V3031.0M1388.8,3011.0V3048.0M1424.7,3011.0V3031.0M1460.5,3011.0V3031.0M1496.4,3011.0V3031.0M1532.2,3011.0V3031.0M1568.1,3011.0V3048.0M1604.0,3011.0V3031.0M1639.8,3011.0V3031.0M1675.7,3011.0V3031.0M1711.5,3011.0V3031.0M1747.4,3011.0V3048.0M1783.3,3011.0V3031.0M1819.1,3011.0V3031.0M1855.0,3011.0V3031.0M1890.8,3011.0V3031.0M1926.7,3011.0V3048.0M1962.6,3011.0V3031.0M1998.4,3011.0V3031.0M2034.3,3011.0V3031.0M2070.1,3011.0V3031.0M2106.0,3011.0V3048.0" stroke-width="5.5"/>
</g>
<g fill="none" stroke-width="11.5" stroke-linejoin="round" stroke-linecap="butt" clip-path="url(#clipC)">
<path d="M305.0,2923.0 313.0,2925.7 315.0,2926.4 317.0,2927.0 319.0,2927.8 321.0,2928.6 323.0,2929.5 325.0,2930.1 327.0,2931.0 329.0,2931.7 331.0,2932.4 333.0,2933.1 335.0,2933.8 337.0,2934.6 339.0,2935.2 341.0,2936.0 343.0,2936.6 345.0,2937.4 347.0,2938.1 349.0,2938.5 351.0,2939.1 353.0,2939.7 355.0,2940.1 357.0,2940.8 359.0,2941.3 361.0,2941.7 363.0,2942.1 365.0,2942.7 367.0,2943.2 369.0,2943.5 371.0,2943.8 373.0,2944.2 375.0,2944.5 377.0,2944.7 379.0,2944.9 381.0,2945.1 383.0,2945.4 385.0,2945.7 387.0,2945.7 389.0,2945.9 391.0,2945.7 393.0,2945.7 395.0,2945.7 397.0,2945.8 399.0,2945.7 401.0,2945.7 403.0,2945.5 405.0,2945.5 407.0,2945.3 409.0,2945.1 411.0,2944.9 413.0,2944.7 415.0,2944.4 417.0,2944.1 419.0,2943.9 421.0,2943.6 423.0,2943.2 425.0,2943.1 427.0,2942.6 429.0,2942.0 431.0,2941.5 433.0,2941.2 435.0,2940.7 437.0,2940.5 439.0,2939.9 441.0,2939.6 443.0,2939.0 445.0,2938.6 447.0,2938.2 449.0,2937.6 451.0,2936.9 453.0,2936.5 455.0,2936.0 457.0,2935.6 459.0,2935.0 461.0,2934.5 463.0,2933.8 465.0,2933.0 467.0,2932.5 469.0,2932.1 471.0,2931.3 473.0,2930.8 475.0,2930.4 477.0,2929.6 479.0,2928.9 481.0,2928.5 483.0,2927.8 485.0,2927.1 487.0,2926.6 489.0,2926.0 491.0,2925.4 493.0,2924.7 495.0,2924.2 497.0,2923.5 499.0,2923.0 501.0,2922.2 503.0,2921.7 505.0,2921.1 507.0,2920.4 509.0,2919.7 511.0,2919.2 513.0,2918.7 515.0,2918.1 517.0,2917.6 519.0,2917.3 521.0,2916.6 523.0,2916.1 525.0,2915.4 527.0,2914.9 529.0,2914.3 531.0,2913.7 533.0,2913.2 535.0,2912.7 537.0,2911.8 539.0,2911.4 541.0,2910.9 543.0,2910.2 545.0,2909.8 547.0,2909.3 549.0,2908.8 551.0,2908.2 553.0,2907.6 555.0,2907.0 557.0,2906.3 559.0,2906.1 561.0,2905.5 563.0,2904.7 565.0,2904.2 567.0,2903.8 569.0,2903.2 571.0,2902.8 573.0,2902.2 575.0,2901.8 577.0,2901.2 579.0,2900.7 581.0,2900.0 583.0,2899.6 585.0,2899.1 587.0,2898.5 589.0,2898.1 591.0,2897.6 593.0,2897.0 595.0,2896.7 597.0,2896.0 599.0,2895.8 601.0,2895.3 603.0,2894.7 605.0,2894.1 607.0,2893.6 609.0,2893.4 611.0,2892.9 613.0,2892.2 615.0,2891.9 617.0,2891.4 619.0,2890.9 621.0,2890.3 623.0,2889.7 625.0,2889.3 627.0,2888.9 629.0,2888.5 631.0,2887.7 633.0,2887.3 635.0,2886.8 637.0,2886.4 639.0,2885.9 641.0,2885.4 643.0,2885.1 645.0,2884.7 647.0,2884.0 649.0,2883.6 651.0,2883.2 653.0,2882.7 655.0,2882.3 657.0,2881.5 659.0,2881.3 661.0,2880.9 663.0,2880.6 665.0,2880.4 667.0,2879.7 669.0,2879.3 671.0,2879.0 673.0,2878.5 675.0,2878.2 677.0,2877.7 679.0,2877.0 681.0,2876.8 683.0,2876.5 685.0,2876.0 687.0,2875.6 689.0,2875.2 691.0,2874.8 693.0,2874.5 695.0,2874.1 697.0,2873.7 699.0,2873.4 701.0,2872.7 703.0,2872.3 705.0,2872.0 707.0,2871.6 709.0,2871.2 711.0,2871.2 713.0,2870.7 715.0,2870.3 717.0,2869.9 719.0,2869.5 721.0,2869.5 723.0,2868.9 725.0,2868.6 727.0,2868.2 729.0,2868.0 731.0,2867.8 733.0,2867.2 735.0,2866.5 737.0,2866.5 739.0,2866.2 741.0,2866.1 743.0,2865.8 745.0,2865.6 747.0,2865.2 749.0,2864.9 751.0,2864.7 753.0,2864.4 755.0,2863.9 757.0,2863.6 759.0,2863.4 761.0,2863.0 763.0,2863.1 765.0,2862.9 767.0,2862.5 769.0,2862.1 771.0,2862.1 773.0,2862.2 775.0,2861.9 777.0,2861.7 779.0,2861.6 781.0,2861.3 783.0,2861.2 785.0,2861.1 787.0,2860.9 789.0,2860.6 791.0,2860.5 793.0,2860.4 795.0,2860.4 797.0,2860.3 799.0,2860.1 801.0,2860.0 803.0,2859.8 805.0,2860.0 807.0,2859.8 809.0,2859.8 811.0,2859.6 813.0,2859.4 815.0,2859.4 817.0,2859.5 819.0,2859.6 821.0,2859.5 823.0,2859.7 825.0,2859.7 827.0,2859.8 829.0,2859.4 831.0,2859.7 833.0,2859.6 835.0,2859.7 837.0,2859.8 839.0,2860.0 841.0,2860.0 843.0,2860.0 845.0,2860.3 847.0,2860.2 849.0,2860.5 851.0,2860.6 853.0,2860.9 855.0,2860.9 857.0,2860.9 859.0,2861.0 861.0,2861.3 863.0,2861.7 865.0,2862.1 867.0,2862.1 869.0,2862.3 871.0,2862.4 873.0,2862.8 875.0,2863.2 877.0,2863.5 879.0,2863.5 881.0,2863.8 883.0,2864.1 885.0,2864.5 887.0,2864.8 889.0,2865.2 891.0,2865.7 893.0,2865.9 895.0,2866.2 897.0,2866.5 899.0,2866.7 901.0,2867.3 903.0,2867.7 905.0,2868.3 907.0,2868.4 909.0,2869.0 911.0,2869.4 913.0,2870.0 915.0,2870.4 917.0,2870.6 919.0,2871.0 921.0,2871.6 923.0,2872.1 925.0,2872.3 927.0,2872.9 929.0,2873.3 931.0,2873.7 933.0,2874.0 935.0,2874.6 937.0,2875.0 939.0,2875.4 941.0,2875.8 943.0,2876.3 945.0,2876.9 947.0,2877.3 949.0,2877.6 951.0,2878.2 953.0,2879.0 955.0,2879.4 957.0,2879.8 959.0,2880.5 961.0,2880.6 963.0,2881.1 965.0,2881.9 967.0,2882.5 969.0,2882.8 971.0,2883.2 973.0,2883.9 975.0,2884.3 977.0,2884.6 979.0,2885.0 981.0,2885.7 983.0,2886.2 985.0,2886.6 987.0,2887.2 989.0,2887.7 991.0,2888.2 993.0,2888.9 995.0,2889.5 997.0,2889.5 999.0,2890.1 1001.0,2890.8 1003.0,2891.4 1005.0,2891.9 1007.0,2892.3 1009.0,2892.8 1011.0,2893.4 1013.0,2894.0 1015.0,2894.5 1017.0,2894.8 1019.0,2895.5 1021.0,2895.9 1023.0,2896.3 1025.0,2897.0 1027.0,2897.5 1029.0,2897.8 1031.0,2898.5 1033.0,2898.9 1035.0,2899.6 1037.0,2899.8 1039.0,2900.3 1041.0,2900.8 1043.0,2901.2 1045.0,2901.7 1047.0,2902.3 1049.0,2902.8 1051.0,2903.3 1053.0,2903.7 1055.0,2904.3 1057.0,2904.8 1059.0,2905.0 1061.0,2905.3 1063.0,2906.2 1065.0,2906.4 1067.0,2906.5 1069.0,2907.7 1071.0,2908.2 1073.0,2908.8 1075.0,2909.4 1077.0,2910.1 1079.0,2910.3 1081.0,2910.8 1083.0,2911.4 1085.0,2911.8 1087.0,2912.1 1089.0,2912.5 1091.0,2913.0 1093.0,2913.2 1095.0,2914.0 1097.0,2914.6 1099.0,2914.9 1101.0,2915.4 1103.0,2915.7 1105.0,2916.2 1107.0,2916.4 1109.0,2917.0 1111.0,2917.7 1113.0,2918.0 1115.0,2918.5 1117.0,2918.8 1119.0,2919.3 1121.0,2919.8 1123.0,2920.2 1125.0,2920.5 1127.0,2921.0 1129.0,2921.4 1131.0,2921.8 1133.0,2922.2 1135.0,2922.8 1137.0,2923.6 1139.0,2924.2 1141.0,2924.4 1143.0,2924.7 1145.0,2924.9 1147.0,2925.3 1149.0,2926.0 1151.0,2926.5 1153.0,2926.6 1155.0,2927.1 1157.0,2927.8 1159.0,2928.2 1161.0,2928.5 1163.0,2928.7 1165.0,2929.1 1167.0,2929.5 1169.0,2929.6 1171.0,2930.3 1173.0,2930.9 1175.0,2931.2 1177.0,2931.5 1179.0,2931.8 1181.0,2932.3 1183.0,2932.7 1185.0,2933.0 1187.0,2933.4 1189.0,2933.6 1191.0,2934.0 1193.0,2934.5 1195.0,2934.7 1197.0,2935.0 1199.0,2935.4 1201.0,2936.0 1203.0,2936.5 1205.0,2936.9 1207.0,2937.1 1209.0,2937.3 1211.0,2937.7 1213.0,2938.2 1215.0,2938.2 1217.0,2938.7 1219.0,2939.0 1221.0,2939.4 1223.0,2939.9 1225.0,2940.1 1227.0,2940.3 1229.0,2940.8 1231.0,2940.8 1233.0,2941.1 1235.0,2941.5 1237.0,2941.8 1239.0,2942.3 1241.0,2942.3 1243.0,2942.7 1245.0,2942.9 1247.0,2943.3 1249.0,2943.8 1251.0,2943.7 1253.0,2944.0 1255.0,2944.5 1257.0,2944.7 1259.0,2945.2 1261.0,2945.6 1263.0,2945.7 1265.0,2946.0 1267.0,2946.3 1269.0,2946.4 1271.0,2946.1 1273.0,2946.7 1275.0,2947.5 1277.0,2947.5 1279.0,2947.6 1281.0,2948.0 1283.0,2948.3 1285.0,2948.4 1287.0,2948.8 1289.0,2949.3 1291.0,2949.4 1293.0,2949.5 1295.0,2949.7 1297.0,2950.0 1299.0,2950.0 1301.0,2950.5 1303.0,2950.7 1305.0,2951.1 1307.0,2951.3 1309.0,2951.1 1311.0,2951.3 1313.0,2951.5 1315.0,2952.1 1317.0,2952.0 1319.0,2952.1 1321.0,2952.5 1323.0,2952.7 1325.0,2953.0 1327.0,2953.0 1329.0,2953.4 1331.0,2953.6 1333.0,2953.4 1335.0,2953.6 1337.0,2953.7 1339.0,2953.9 1341.0,2954.1 1343.0,2954.4 1345.0,2954.6 1347.0,2954.8 1349.0,2955.4 1351.0,2955.1 1353.0,2955.2 1355.0,2955.4 1357.0,2955.3 1359.0,2955.9 1361.0,2956.2 1363.0,2956.2 1365.0,2956.2 1367.0,2956.5 1369.0,2956.5 1371.0,2956.8 1373.0,2957.0 1375.0,2957.2 1377.0,2957.3 1379.0,2957.6 1381.0,2957.7 1383.0,2957.8 1385.0,2957.8 1387.0,2958.2 1389.0,2958.4 1391.0,2958.6 1393.0,2958.6 1395.0,2958.8 1397.0,2958.7 1399.0,2958.9 1401.0,2959.1 1403.0,2959.5 1405.0,2959.3 1407.0,2959.4 1409.0,2959.5 1411.0,2959.9 1413.0,2960.0 1415.0,2959.9 1417.0,2959.8 1419.0,2960.2 1421.0,2960.1 1423.0,2960.4 1425.0,2960.2 1427.0,2960.7 1429.0,2960.6 1431.0,2960.5 1433.0,2961.0 1435.0,2961.0 1437.0,2960.7 1439.0,2961.5 1441.0,2961.3 1443.0,2961.0 1445.0,2961.5 1447.0,2961.9 1449.0,2961.9 1451.0,2961.8 1453.0,2962.1 1455.0,2961.9 1457.0,2961.9 1459.0,2962.5 1461.0,2962.3 1463.0,2962.4 1465.0,2962.9 1467.0,2962.5 1469.0,2963.1 1471.0,2962.9 1473.0,2963.0 1475.0,2963.0 1477.0,2963.0 1479.0,2963.3 1481.0,2963.6 1483.0,2963.0 1485.0,2963.0 1487.0,2963.5 1489.0,2963.6 1491.0,2964.3 1493.0,2964.0 1495.0,2963.7 1497.0,2963.6 1499.0,2963.9 1501.0,2963.9 1503.0,2964.3 1505.0,2963.8 1507.0,2964.2 1509.0,2964.5 1511.0,2964.0 1513.0,2964.0 1515.0,2964.2 1517.0,2964.9 1519.0,2964.7 1521.0,2964.1 1523.0,2964.7 1525.0,2965.1 1527.0,2965.3 1529.0,2965.5 1531.0,2964.6 1533.0,2965.3 1535.0,2964.7 1537.0,2964.8 1539.0,2965.0 1541.0,2965.2 1543.0,2965.3 1545.0,2965.5 1547.0,2966.0 1549.0,2966.3 1551.0,2966.1 1553.0,2965.8 1555.0,2965.6 1557.0,2966.4 1559.0,2966.5 1561.0,2966.4 1563.0,2966.4 1565.0,2966.3 1567.0,2965.5 1569.0,2966.6 1571.0,2966.7 1573.0,2966.3 1575.0,2966.8 1577.0,2966.2 1579.0,2966.1 1581.0,2966.8 1583.0,2967.5 1585.0,2966.9 1587.0,2966.0 1589.0,2966.4 1591.0,2967.3 1593.0,2967.3 1595.0,2966.8 1597.0,2967.4 1599.0,2968.0 1601.0,2967.3 1603.0,2967.8 1605.0,2967.6 1607.0,2967.2 1609.0,2967.3 1611.0,2967.7 1613.0,2968.4 1615.0,2968.0 1617.0,2967.8 1619.0,2967.3 1621.0,2967.5 1623.0,2967.3 1625.0,2967.5 1627.0,2968.5 1629.0,2968.2 1631.0,2967.4 1633.0,2968.4 1635.0,2968.6 1637.0,2967.8 1639.0,2967.9 1641.0,2968.2 1643.0,2968.9 1645.0,2969.0 1647.0,2968.6 1649.0,2968.6 1651.0,2968.5 1653.0,2967.6 1655.0,2967.8 1657.0,2969.2 1659.0,2969.0 1661.0,2968.8 1663.0,2968.3 1665.0,2968.3 1667.0,2968.4 1669.0,2969.6 1671.0,2969.3 1673.0,2969.5 1675.0,2969.1 1677.0,2969.4 1679.0,2970.5 1681.0,2970.1 1683.0,2969.3 1685.0,2969.1 1687.0,2969.4 1689.0,2969.6 1691.0,2969.4 1693.0,2971.0 1695.0,2970.8 1697.0,2970.2 1699.0,2968.3 1701.0,2969.1 1703.0,2971.5 1705.0,2971.3 1707.0,2971.7 1709.0,2972.1 1711.0,2972.4 1713.0,2972.2 1715.0,2971.3 1717.0,2971.3 1719.0,2971.6 1721.0,2971.7 1723.0,2971.1 1725.0,2971.1 1727.0,2971.4 1729.0,2970.7 1731.0,2970.5 1733.0,2972.3 1735.0,2972.4 1737.0,2972.9 1739.0,2972.9 1741.0,2972.9 1743.0,2972.8 1745.0,2972.8 1747.0,2972.8 1749.0,2971.9 1751.0,2972.2 1753.0,2973.1 1755.0,2972.4 1757.0,2972.2 1759.0,2973.3 1761.0,2971.9 1763.0,2972.9 1765.0,2973.0 1767.0,2973.3 1769.0,2973.1 1771.0,2973.1 1773.0,2973.4 1775.0,2973.6 1777.0,2973.1 1779.0,2973.4 1781.0,2973.7 1783.0,2974.7 1785.0,2973.7 1787.0,2974.3 1789.0,2973.3 1791.0,2973.6 1793.0,2974.8 1795.0,2974.3 1797.0,2975.4 1799.0,2975.8 1801.0,2975.1 1803.0,2974.8 1805.0,2974.0 1807.0,2974.5 1809.0,2975.1 1811.0,2974.3 1813.0,2975.5 1815.0,2975.3 1817.0,2975.4 1819.0,2975.9 1821.0,2974.9 1823.0,2975.3 1825.0,2976.1 1827.0,2975.6 1829.0,2975.6 1831.0,2976.4 1833.0,2976.0 1835.0,2975.3 1837.0,2976.0 1839.0,2976.6 1841.0,2976.8 1843.0,2977.2 1845.0,2977.7 1847.0,2976.4 1849.0,2976.7 1851.0,2977.5 1853.0,2977.0 1855.0,2977.3 1857.0,2977.7 1859.0,2977.6 1861.0,2977.7 1863.0,2977.9 1865.0,2977.7 1867.0,2976.9 1869.0,2978.0 1871.0,2977.9 1873.0,2977.4 1875.0,2977.2 1877.0,2977.9 1879.0,2977.9 1881.0,2978.4 1883.0,2978.1 1885.0,2978.7 1887.0,2978.1 1889.0,2978.1 1891.0,2978.4 1893.0,2979.4 1895.0,2979.4 1897.0,2979.1 1899.0,2978.9 1901.0,2979.6 1903.0,2980.2 1905.0,2979.6 1907.0,2980.0 1909.0,2979.7 1911.0,2979.0 1913.0,2978.9 1915.0,2979.4 1917.0,2979.2 1919.0,2979.9 1921.0,2979.9 1923.0,2978.6 1925.0,2979.9 1927.0,2980.8 1929.0,2979.6 1931.0,2979.3 1933.0,2979.7 1935.0,2980.1 1937.0,2981.0 1939.0,2980.7 1941.0,2981.7 1943.0,2981.1 1945.0,2980.6 1947.0,2981.2 1949.0,2981.9 1951.0,2981.2 1953.0,2981.1 1955.0,2980.5 1957.0,2980.9 1959.0,2981.6 1961.0,2981.4 1963.0,2982.9 1965.0,2981.9 1967.0,2980.9 1969.0,2981.1 1971.0,2982.0 1973.0,2981.7 1975.0,2981.3 1977.0,2982.3 1979.0,2982.0 1981.0,2981.9 1983.0,2981.6 1985.0,2981.3 1987.0,2981.4 1989.0,2982.8 1991.0,2983.3 1993.0,2982.8 1995.0,2982.1 1997.0,2982.5 1999.0,2983.1 2001.0,2982.6 2003.0,2982.8 2005.0,2982.2 2007.0,2983.1 2009.0,2983.6 2011.0,2983.4 2013.0,2982.7 2015.0,2982.7 2017.0,2982.4 2019.0,2982.7 2021.0,2983.2 2023.0,2982.7 2025.0,2983.2 2027.0,2982.5 2029.0,2982.9 2031.0,2983.6 2033.0,2982.8 2035.0,2983.4 2037.0,2984.0 2039.0,2983.6 2041.0,2983.0 2043.0,2983.4 2045.0,2984.1 2047.0,2984.4 2049.0,2983.6 2051.0,2983.7 2053.0,2983.8 2055.0,2983.3 2057.0,2983.9 2059.0,2983.8 2061.0,2983.0 2063.0,2983.6 2065.0,2983.7 2067.0,2983.6 2069.0,2984.2 2071.0,2984.4 2073.0,2984.0 2075.0,2983.3 2077.0,2983.4 2079.0,2984.1 2081.0,2982.9 2083.0,2983.4 2085.0,2983.4 2087.0,2983.7 2089.0,2983.4 2091.0,2983.8 2093.0,2984.4 2095.0,2983.7 2097.0,2984.6 2099.0,2983.7 2101.0,2983.9 2103.0,2983.6 2105.0,2984.7 2106.0,2984.0 2114.0,2978.0" stroke="#000000"/>
<path d="M305.0,2799.6 313.0,2810.3 315.0,2813.0 317.0,2815.6 319.0,2818.1 321.0,2820.8 323.0,2823.3 325.0,2825.8 327.0,2828.3 329.0,2830.7 331.0,2833.0 333.0,2835.5 335.0,2837.8 337.0,2839.9 339.0,2842.2 341.0,2844.4 343.0,2846.3 345.0,2848.5 347.0,2850.5 349.0,2852.4 351.0,2854.3 353.0,2856.2 355.0,2858.0 357.0,2859.7 359.0,2861.2 361.0,2862.9 363.0,2864.3 365.0,2865.7 367.0,2867.2 369.0,2868.6 371.0,2869.8 373.0,2870.8 375.0,2871.8 377.0,2872.7 379.0,2873.7 381.0,2874.6 383.0,2875.2 385.0,2875.9 387.0,2876.4 389.0,2876.8 391.0,2876.9 393.0,2877.1 395.0,2877.4 397.0,2877.6 399.0,2877.6 401.0,2877.5 403.0,2877.1 405.0,2876.8 407.0,2876.5 409.0,2876.2 411.0,2875.7 413.0,2874.9 415.0,2874.2 417.0,2873.3 419.0,2872.4 421.0,2871.3 423.0,2870.2 425.0,2869.0 427.0,2867.7 429.0,2866.2 431.0,2864.7 433.0,2863.2 435.0,2861.5 437.0,2859.7 439.0,2857.7 441.0,2855.8 443.0,2853.6 445.0,2851.6 447.0,2849.3 449.0,2846.8 451.0,2844.5 453.0,2842.0 455.0,2839.1 457.0,2836.0 459.0,2833.1 461.0,2830.3 463.0,2827.5 465.0,2824.2 467.0,2820.9 469.0,2817.4 471.0,2813.9 473.0,2810.4 475.0,2806.6 477.0,2803.0 479.0,2799.2 481.0,2795.2 483.0,2791.2 485.0,2787.0 487.0,2782.8 489.0,2778.4 491.0,2773.8 493.0,2769.3 495.0,2764.7 497.0,2760.2 499.0,2755.4 501.0,2750.5 503.0,2745.6 505.0,2740.7 507.0,2735.8 509.0,2730.6 511.0,2725.5 513.0,2720.7 515.0,2715.7 517.0,2710.8 519.0,2705.9 521.0,2700.9 523.0,2696.1 525.0,2691.8 527.0,2687.3 529.0,2682.7 531.0,2678.2 533.0,2673.8 535.0,2669.3 537.0,2665.1 539.0,2660.7 541.0,2656.5 543.0,2652.4 545.0,2648.3 547.0,2643.7 549.0,2639.7 551.0,2635.5 553.0,2631.0 555.0,2626.9 557.0,2622.6 559.0,2618.1 561.0,2613.7 563.0,2609.3 565.0,2605.2 567.0,2600.8 569.0,2596.2 571.0,2591.4 573.0,2586.9 575.0,2582.3 577.0,2577.6 579.0,2573.0 581.0,2568.5 583.0,2563.7 585.0,2558.8 587.0,2554.1 589.0,2549.6 591.0,2544.8 593.0,2540.1 595.0,2535.5 597.0,2530.6 599.0,2525.7 601.0,2521.1 603.0,2516.6 605.0,2511.6 607.0,2507.2 609.0,2502.5 611.0,2497.6 613.0,2493.1 615.0,2488.8 617.0,2484.3 619.0,2479.9 621.0,2476.0 623.0,2471.7 625.0,2467.6 627.0,2463.5 629.0,2459.4 631.0,2455.5 633.0,2451.6 635.0,2448.0 637.0,2444.4 639.0,2440.7 641.0,2437.0 643.0,2433.4 645.0,2429.3 647.0,2425.2 649.0,2421.8 651.0,2417.3 653.0,2413.8 655.0,2410.4 657.0,2406.2 659.0,2403.5 661.0,2399.0 663.0,2394.9 665.0,2391.5 667.0,2388.1 669.0,2384.9 671.0,2381.6 673.0,2378.6 675.0,2374.7 677.0,2371.3 679.0,2367.5 681.0,2364.9 683.0,2361.0 685.0,2357.4 687.0,2356.2 689.0,2352.1 691.0,2349.0 693.0,2346.6 695.0,2344.8 697.0,2341.0 699.0,2339.1 701.0,2337.8 703.0,2336.1 705.0,2332.5 707.0,2330.0 709.0,2327.7 711.0,2327.2 713.0,2324.1 715.0,2321.9 717.0,2320.1 719.0,2317.8 721.0,2316.4 723.0,2314.5 725.0,2314.6 727.0,2312.4 729.0,2311.1 731.0,2310.4 733.0,2308.1 735.0,2308.6 737.0,2307.8 739.0,2305.4 741.0,2305.2 743.0,2304.3 745.0,2304.1 747.0,2302.9 749.0,2301.9 751.0,2302.4 753.0,2302.0 755.0,2302.3 757.0,2302.9 759.0,2303.0 761.0,2302.2 763.0,2300.8 765.0,2301.5 767.0,2300.9 769.0,2301.1 771.0,2300.2 773.0,2300.6 775.0,2299.8 777.0,2297.7 779.0,2296.1 781.0,2293.7 783.0,2294.0 785.0,2294.3 787.0,2295.5 789.0,2298.6 791.0,2301.1 793.0,2303.4 795.0,2304.4 797.0,2306.3 799.0,2307.8 801.0,2308.8 803.0,2310.1 805.0,2311.5 807.0,2313.4 809.0,2315.9 811.0,2317.3 813.0,2318.9 815.0,2322.2 817.0,2325.1 819.0,2326.9 821.0,2329.9 823.0,2332.2 825.0,2334.2 827.0,2337.5 829.0,2340.4 831.0,2343.3 833.0,2345.1 835.0,2349.7 837.0,2353.1 839.0,2355.8 841.0,2359.8 843.0,2363.0 845.0,2366.6 847.0,2370.6 849.0,2374.4 851.0,2377.8 853.0,2381.8 855.0,2385.6 857.0,2389.3 859.0,2394.0 861.0,2398.0 863.0,2402.1 865.0,2406.5 867.0,2410.7 869.0,2414.8 871.0,2419.7 873.0,2424.0 875.0,2428.7 877.0,2433.5 879.0,2438.3 881.0,2443.2 883.0,2447.5 885.0,2452.0 887.0,2456.7 889.0,2461.7 891.0,2467.0 893.0,2471.9 895.0,2476.5 897.0,2481.6 899.0,2486.9 901.0,2492.5 903.0,2497.0 905.0,2502.3 907.0,2507.0 909.0,2512.7 911.0,2518.3 913.0,2523.0 915.0,2528.6 917.0,2533.2 919.0,2538.8 921.0,2544.0 923.0,2549.5 925.0,2554.9 927.0,2560.4 929.0,2565.6 931.0,2570.8 933.0,2575.9 935.0,2581.3 937.0,2586.3 939.0,2591.5 941.0,2596.8 943.0,2602.5 945.0,2608.1 947.0,2612.8 949.0,2618.2 951.0,2622.5 953.0,2627.6 955.0,2633.0 957.0,2638.1 959.0,2643.1 961.0,2648.2 963.0,2652.6 965.0,2657.6 967.0,2662.0 969.0,2665.8 971.0,2670.9 973.0,2675.8 975.0,2680.5 977.0,2685.1 979.0,2689.4 981.0,2694.0 983.0,2697.8 985.0,2702.2 987.0,2706.6 989.0,2710.3 991.0,2714.9 993.0,2718.9 995.0,2722.4 997.0,2726.3 999.0,2730.0 1001.0,2733.9 1003.0,2737.9 1005.0,2741.3 1007.0,2744.2 1009.0,2747.7 1011.0,2751.6 1013.0,2754.2 1015.0,2757.7 1017.0,2761.4 1019.0,2764.9 1021.0,2768.5 1023.0,2771.5 1025.0,2775.3 1027.0,2777.5 1029.0,2780.5 1031.0,2783.4 1033.0,2785.9 1035.0,2788.9 1037.0,2791.6 1039.0,2794.1 1041.0,2796.4 1043.0,2799.1 1045.0,2802.0 1047.0,2804.3 1049.0,2806.9 1051.0,2809.4 1053.0,2811.8 1055.0,2814.2 1057.0,2816.7 1059.0,2819.3 1061.0,2821.8 1063.0,2823.9 1065.0,2826.0 1067.0,2828.4 1069.0,2831.0 1071.0,2832.9 1073.0,2835.6 1075.0,2838.4 1077.0,2840.4 1079.0,2842.7 1081.0,2845.3 1083.0,2846.7 1085.0,2849.5 1087.0,2851.8 1089.0,2854.0 1091.0,2856.6 1093.0,2858.9 1095.0,2860.9 1097.0,2862.7 1099.0,2864.5 1101.0,2866.2 1103.0,2868.0 1105.0,2869.4 1107.0,2871.5 1109.0,2873.6 1111.0,2875.2 1113.0,2876.9 1115.0,2877.9 1117.0,2879.6 1119.0,2881.2 1121.0,2883.2 1123.0,2884.4 1125.0,2885.7 1127.0,2886.8 1129.0,2888.3 1131.0,2889.5 1133.0,2891.1 1135.0,2892.9 1137.0,2893.4 1139.0,2894.6 1141.0,2895.7 1143.0,2897.3 1145.0,2897.9 1147.0,2898.9 1149.0,2900.4 1151.0,2901.8 1153.0,2902.4 1155.0,2902.9 1157.0,2903.2 1159.0,2903.9 1161.0,2905.8 1163.0,2907.0 1165.0,2908.2 1167.0,2908.8 1169.0,2909.5 1171.0,2910.7 1173.0,2911.6 1175.0,2911.8 1177.0,2912.9 1179.0,2913.7 1181.0,2913.9 1183.0,2914.9 1185.0,2915.6 1187.0,2916.6 1189.0,2917.2 1191.0,2917.0 1193.0,2918.1 1195.0,2919.3 1197.0,2919.7 1199.0,2919.9 1201.0,2920.6 1203.0,2921.2 1205.0,2922.1 1207.0,2922.5 1209.0,2923.8 1211.0,2924.5 1213.0,2925.3 1215.0,2925.8 1217.0,2926.4 1219.0,2927.0 1221.0,2927.4 1223.0,2927.4 1225.0,2928.5 1227.0,2928.8 1229.0,2929.1 1231.0,2930.7 1233.0,2931.0 1235.0,2931.1 1237.0,2932.2 1239.0,2933.0 1241.0,2933.6 1243.0,2934.4 1245.0,2934.5 1247.0,2935.4 1249.0,2935.6 1251.0,2936.5 1253.0,2937.2 1255.0,2937.6 1257.0,2938.7 1259.0,2938.3 1261.0,2938.7 1263.0,2939.6 1265.0,2940.2 1267.0,2941.2 1269.0,2941.5 1271.0,2942.4 1273.0,2942.7 1275.0,2943.5 1277.0,2944.0 1279.0,2944.4 1281.0,2945.1 1283.0,2945.6 1285.0,2946.6 1287.0,2947.2 1289.0,2947.0 1291.0,2947.6 1293.0,2948.3 1295.0,2948.8 1297.0,2949.7 1299.0,2950.1 1301.0,2949.4 1303.0,2950.1 1305.0,2951.2 1307.0,2951.5 1309.0,2951.6 1311.0,2952.1 1313.0,2952.8 1315.0,2953.5 1317.0,2953.4 1319.0,2954.0 1321.0,2954.9 1323.0,2955.2 1325.0,2955.2 1327.0,2955.4 1329.0,2955.4 1331.0,2955.7 1333.0,2956.5 1335.0,2957.4 1337.0,2957.9 1339.0,2958.3 1341.0,2958.6 1343.0,2958.9 1345.0,2959.0 1347.0,2959.1 1349.0,2959.9 1351.0,2959.8 1353.0,2959.7 1355.0,2960.6 1357.0,2961.1 1359.0,2961.9 1361.0,2961.6 1363.0,2961.8 1365.0,2961.8 1367.0,2962.5 1369.0,2962.7 1371.0,2962.7 1373.0,2963.1 1375.0,2963.2 1377.0,2963.8 1379.0,2963.9 1381.0,2964.3 1383.0,2964.2 1385.0,2964.5 1387.0,2964.9 1389.0,2965.5 1391.0,2965.4 1393.0,2965.1 1395.0,2966.0 1397.0,2966.2 1399.0,2966.6 1401.0,2967.0 1403.0,2967.0 1405.0,2966.8 1407.0,2967.1 1409.0,2967.6 1411.0,2967.9 1413.0,2967.6 1415.0,2967.7 1417.0,2967.9 1419.0,2968.4 1421.0,2968.6 1423.0,2969.4 1425.0,2969.4 1427.0,2969.6 1429.0,2969.5 1431.0,2969.2 1433.0,2969.0 1435.0,2970.1 1437.0,2970.1 1439.0,2969.9 1441.0,2971.1 1443.0,2971.0 1445.0,2971.2 1447.0,2970.8 1449.0,2970.5 1451.0,2970.9 1453.0,2971.4 1455.0,2971.0 1457.0,2971.5 1459.0,2972.2 1461.0,2972.4 1463.0,2972.1 1465.0,2971.6 1467.0,2972.3 1469.0,2973.0 1471.0,2973.1 1473.0,2972.9 1475.0,2973.2 1477.0,2973.4 1479.0,2973.3 1481.0,2973.3 1483.0,2973.4 1485.0,2973.6 1487.0,2973.9 1489.0,2974.2 1491.0,2974.5 1493.0,2974.6 1495.0,2974.4 1497.0,2974.1 1499.0,2974.8 1501.0,2974.9 1503.0,2975.5 1505.0,2975.4 1507.0,2976.0 1509.0,2975.9 1511.0,2976.2 1513.0,2976.0 1515.0,2976.1 1517.0,2976.0 1519.0,2976.0 1521.0,2976.2 1523.0,2976.6 1525.0,2976.4 1527.0,2976.9 1529.0,2976.9 1531.0,2977.1 1533.0,2976.9 1535.0,2977.1 1537.0,2976.9 1539.0,2977.2 1541.0,2977.4 1543.0,2977.4 1545.0,2977.7 1547.0,2978.0 1549.0,2978.0 1551.0,2977.6 1553.0,2978.1 1555.0,2978.3 1557.0,2978.3 1559.0,2978.5 1561.0,2979.3 1563.0,2979.3 1565.0,2979.4 1567.0,2979.5 1569.0,2979.1 1571.0,2979.1 1573.0,2979.0 1575.0,2979.4 1577.0,2979.2 1579.0,2979.6 1581.0,2980.1 1583.0,2980.2 1585.0,2979.9 1587.0,2980.0 1589.0,2980.7 1591.0,2980.6 1593.0,2980.5 1595.0,2980.7 1597.0,2980.8 1599.0,2980.6 1601.0,2980.7 1603.0,2980.5 1605.0,2981.2 1607.0,2981.4 1609.0,2981.8 1611.0,2981.8 1613.0,2981.6 1615.0,2982.1 1617.0,2981.8 1619.0,2982.1 1621.0,2981.9 1623.0,2981.9 1625.0,2981.9 1627.0,2982.4 1629.0,2983.0 1631.0,2982.7 1633.0,2982.7 1635.0,2982.7 1637.0,2983.0 1639.0,2983.1 1641.0,2983.3 1643.0,2983.5 1645.0,2983.3 1647.0,2983.5 1649.0,2983.9 1651.0,2983.7 1653.0,2983.5 1655.0,2984.0 1657.0,2984.0 1659.0,2983.7 1661.0,2983.7 1663.0,2984.0 1665.0,2984.4 1667.0,2984.5 1669.0,2984.8 1671.0,2985.3 1673.0,2985.2 1675.0,2984.7 1677.0,2984.7 1679.0,2985.1 1681.0,2984.8 1683.0,2984.8 1685.0,2985.1 1687.0,2985.3 1689.0,2985.3 1691.0,2985.3 1693.0,2984.8 1695.0,2985.3 1697.0,2985.7 1699.0,2986.0 1701.0,2986.0 1703.0,2986.1 1705.0,2986.7 1707.0,2986.6 1709.0,2986.5 1711.0,2986.5 1713.0,2986.5 1715.0,2986.3 1717.0,2986.3 1719.0,2986.6 1721.0,2986.4 1723.0,2986.9 1725.0,2986.9 1727.0,2987.2 1729.0,2987.2 1731.0,2987.0 1733.0,2987.1 1735.0,2987.4 1737.0,2987.9 1739.0,2988.0 1741.0,2987.7 1743.0,2987.8 1745.0,2987.8 1747.0,2988.3 1749.0,2988.2 1751.0,2987.9 1753.0,2987.9 1755.0,2988.5 1757.0,2988.9 1759.0,2988.6 1761.0,2988.3 1763.0,2988.4 1765.0,2988.4 1767.0,2988.3 1769.0,2989.0 1771.0,2988.8 1773.0,2988.5 1775.0,2988.4 1777.0,2989.2 1779.0,2989.5 1781.0,2989.9 1783.0,2989.8 1785.0,2989.5 1787.0,2989.3 1789.0,2989.7 1791.0,2989.7 1793.0,2989.9 1795.0,2989.6 1797.0,2990.0 1799.0,2990.1 1801.0,2989.9 1803.0,2989.8 1805.0,2989.8 1807.0,2990.5 1809.0,2990.9 1811.0,2990.6 1813.0,2990.1 1815.0,2990.6 1817.0,2990.5 1819.0,2991.1 1821.0,2991.6 1823.0,2991.2 1825.0,2990.7 1827.0,2991.5 1829.0,2991.7 1831.0,2992.0 1833.0,2991.9 1835.0,2991.8 1837.0,2991.4 1839.0,2992.0 1841.0,2991.6 1843.0,2991.5 1845.0,2992.1 1847.0,2992.4 1849.0,2992.7 1851.0,2992.7 1853.0,2992.5 1855.0,2992.6 1857.0,2992.8 1859.0,2992.8 1861.0,2992.7 1863.0,2992.3 1865.0,2992.7 1867.0,2992.8 1869.0,2993.0 1871.0,2992.9 1873.0,2993.3 1875.0,2993.4 1877.0,2993.0 1879.0,2993.3 1881.0,2993.5 1883.0,2993.1 1885.0,2992.9 1887.0,2993.4 1889.0,2993.7 1891.0,2993.8 1893.0,2994.1 1895.0,2994.1 1897.0,2994.3 1899.0,2994.1 1901.0,2994.5 1903.0,2994.2 1905.0,2994.2 1907.0,2993.8 1909.0,2994.1 1911.0,2994.7 1913.0,2994.6 1915.0,2994.5 1917.0,2994.4 1919.0,2994.8 1921.0,2994.6 1923.0,2995.2 1925.0,2995.1 1927.0,2994.8 1929.0,2994.8 1931.0,2994.9 1933.0,2995.2 1935.0,2995.2 1937.0,2994.9 1939.0,2995.3 1941.0,2995.2 1943.0,2995.7 1945.0,2995.2 1947.0,2995.6 1949.0,2995.4 1951.0,2995.7 1953.0,2996.0 1955.0,2995.9 1957.0,2995.5 1959.0,2995.5 1961.0,2996.2 1963.0,2995.9 1965.0,2996.2 1967.0,2996.3 1969.0,2995.9 1971.0,2996.6 1973.0,2996.3 1975.0,2996.2 1977.0,2996.1 1979.0,2996.4 1981.0,2996.6 1983.0,2996.8 1985.0,2996.9 1987.0,2996.9 1989.0,2996.7 1991.0,2996.7 1993.0,2996.8 1995.0,2996.9 1997.0,2997.2 1999.0,2997.1 2001.0,2996.9 2003.0,2996.6 2005.0,2996.5 2007.0,2996.9 2009.0,2997.0 2011.0,2996.7 2013.0,2997.0 2015.0,2997.3 2017.0,2997.2 2019.0,2996.9 2021.0,2997.0 2023.0,2997.0 2025.0,2997.5 2027.0,2997.7 2029.0,2998.1 2031.0,2997.6 2033.0,2997.9 2035.0,2997.7 2037.0,2997.7 2039.0,2997.8 2041.0,2997.2 2043.0,2997.4 2045.0,2998.1 2047.0,2998.2 2049.0,2998.3 2051.0,2998.0 2053.0,2997.8 2055.0,2998.1 2057.0,2997.9 2059.0,2997.9 2061.0,2997.9 2063.0,2997.9 2065.0,2998.5 2067.0,2998.3 2069.0,2998.2 2071.0,2998.2 2073.0,2998.0 2075.0,2998.1 2077.0,2998.2 2079.0,2998.2 2081.0,2997.8 2083.0,2998.3 2085.0,2997.8 2087.0,2997.9 2089.0,2997.9 2091.0,2998.2 2093.0,2998.0 2095.0,2998.5 2097.0,2998.6 2099.0,2998.7 2101.0,2998.6 2103.0,2998.4 2105.0,2998.4 2106.0,2998.2 2114.0,2996.7" stroke="#ff0000" stroke-width="13"/>
<path d="M305.0,2941.7 313.0,2945.4 315.0,2946.3 317.0,2947.2 319.0,2948.1 321.0,2948.9 323.0,2949.8 325.0,2950.6 327.0,2951.4 329.0,2952.2 331.0,2953.0 333.0,2953.8 335.0,2954.5 337.0,2955.2 339.0,2955.9 341.0,2956.6 343.0,2957.2 345.0,2957.9 347.0,2958.5 349.0,2959.0 351.0,2959.5 353.0,2960.0 355.0,2960.5 357.0,2961.0 359.0,2961.4 361.0,2961.7 363.0,2962.0 365.0,2962.3 367.0,2962.6 369.0,2962.8 371.0,2963.0 373.0,2963.1 375.0,2963.2 377.0,2963.3 379.0,2963.3 381.0,2963.2 383.0,2963.2 385.0,2963.0 387.0,2962.9 389.0,2962.7 391.0,2962.4 393.0,2962.2 395.0,2961.9 397.0,2961.5 399.0,2961.1 401.0,2960.7 403.0,2960.2 405.0,2959.7 407.0,2959.2 409.0,2958.6 411.0,2958.0 413.0,2957.4 415.0,2956.7 417.0,2956.0 419.0,2955.3 421.0,2954.5 423.0,2953.7 425.0,2952.9 427.0,2952.0 429.0,2951.1 431.0,2950.2 433.0,2949.2 435.0,2948.2 437.0,2947.2 439.0,2946.2 441.0,2945.1 443.0,2944.0 445.0,2942.8 447.0,2941.7 449.0,2940.5 451.0,2939.3 453.0,2938.1 455.0,2936.8 457.0,2935.5 459.0,2934.2 461.0,2932.9 463.0,2931.5 465.0,2930.1 467.0,2928.7 469.0,2927.3 471.0,2925.8 473.0,2924.4 475.0,2922.9 477.0,2921.4 479.0,2919.8 481.0,2918.3 483.0,2916.7 485.0,2915.1 487.0,2913.5 489.0,2911.9 491.0,2910.2 493.0,2908.5 495.0,2906.9 497.0,2905.2 499.0,2903.5 501.0,2901.7 503.0,2900.0 505.0,2898.2 507.0,2896.4 509.0,2894.7 511.0,2892.9 513.0,2891.0 515.0,2889.2 517.0,2887.4 519.0,2885.5 521.0,2883.6 523.0,2881.8 525.0,2879.9 527.0,2878.0 529.0,2876.0 531.0,2874.1 533.0,2872.2 535.0,2870.2 537.0,2868.3 539.0,2866.3 541.0,2864.3 543.0,2862.3 545.0,2860.3 547.0,2858.3 549.0,2856.3 551.0,2854.3 553.0,2852.3 555.0,2850.3 557.0,2848.2 559.0,2846.2 561.0,2844.1 563.0,2842.1 565.0,2840.0 567.0,2838.0 569.0,2835.9 571.0,2833.8 573.0,2831.7 575.0,2829.6 577.0,2827.6 579.0,2825.5 581.0,2823.4 583.0,2821.3 585.0,2819.2 587.0,2817.1 589.0,2815.0 591.0,2812.9 593.0,2810.8 595.0,2808.7 597.0,2806.6 599.0,2804.5 601.0,2802.4 603.0,2800.3 605.0,2798.2 607.0,2796.1 609.0,2794.0 611.0,2791.9 613.0,2789.8 615.0,2787.8 617.0,2785.7 619.0,2783.6 621.0,2781.5 623.0,2779.5 625.0,2777.4 627.0,2775.4 629.0,2773.3 631.0,2771.3 633.0,2769.3 635.0,2767.3 637.0,2765.4 639.0,2763.4 641.0,2761.5 643.0,2759.5 645.0,2757.6 647.0,2755.7 649.0,2753.9 651.0,2752.0 653.0,2750.2 655.0,2748.4 657.0,2746.7 659.0,2745.0 661.0,2743.3 663.0,2741.6 665.0,2739.9 667.0,2738.3 669.0,2736.8 671.0,2735.2 673.0,2733.7 675.0,2732.2 677.0,2730.8 679.0,2729.4 681.0,2728.1 683.0,2726.7 685.0,2725.5 687.0,2724.3 689.0,2723.1 691.0,2721.9 693.0,2720.9 695.0,2719.8 697.0,2718.8 699.0,2717.9 701.0,2717.0 703.0,2716.2 705.0,2715.4 707.0,2714.7 709.0,2714.0 711.0,2713.4 713.0,2712.8 715.0,2712.3 717.0,2711.9 719.0,2711.5 721.0,2711.2 723.0,2711.0 725.0,2710.8 727.0,2710.7 729.0,2710.6 731.0,2710.6 733.0,2710.7 735.0,2710.9 737.0,2711.1 739.0,2711.4 741.0,2711.8 743.0,2712.2 745.0,2712.7 747.0,2713.3 749.0,2713.9 751.0,2714.6 753.0,2715.3 755.0,2716.2 757.0,2717.0 759.0,2718.0 761.0,2719.0 763.0,2720.0 765.0,2721.1 767.0,2722.3 769.0,2723.5 771.0,2724.8 773.0,2726.1 775.0,2727.5 777.0,2728.9 779.0,2730.4 781.0,2731.9 783.0,2733.4 785.0,2735.1 787.0,2736.7 789.0,2738.4 791.0,2740.2 793.0,2742.0 795.0,2743.8 797.0,2745.7 799.0,2747.6 801.0,2749.6 803.0,2751.6 805.0,2753.6 807.0,2755.7 809.0,2757.8 811.0,2759.9 813.0,2762.1 815.0,2764.3 817.0,2766.5 819.0,2768.8 821.0,2771.1 823.0,2773.4 825.0,2775.8 827.0,2778.1 829.0,2780.6 831.0,2783.0 833.0,2785.4 835.0,2787.9 837.0,2790.4 839.0,2792.9 841.0,2795.5 843.0,2798.0 845.0,2800.6 847.0,2803.2 849.0,2805.8 851.0,2808.4 853.0,2811.1 855.0,2813.7 857.0,2816.4 859.0,2819.1 861.0,2821.8 863.0,2824.5 865.0,2827.2 867.0,2829.9 869.0,2832.6 871.0,2835.2 873.0,2837.9 875.0,2840.6 877.0,2843.3 879.0,2846.0 881.0,2848.6 883.0,2851.3 885.0,2853.9 887.0,2856.6 889.0,2859.2 891.0,2861.7 893.0,2864.3 895.0,2866.8 897.0,2869.4 899.0,2871.8 901.0,2874.3 903.0,2876.7 905.0,2879.1 907.0,2881.5 909.0,2883.8 911.0,2886.1 913.0,2888.3 915.0,2890.5 917.0,2892.7 919.0,2894.8 921.0,2896.9 923.0,2898.9 925.0,2900.9 927.0,2902.9 929.0,2904.8 931.0,2906.7 933.0,2908.6 935.0,2910.4 937.0,2912.1 939.0,2913.9 941.0,2915.6 943.0,2917.2 945.0,2918.9 947.0,2920.5 949.0,2922.0 951.0,2923.5 953.0,2925.0 955.0,2926.5 957.0,2927.9 959.0,2929.3 961.0,2930.6 963.0,2931.9 965.0,2933.2 967.0,2934.5 969.0,2935.7 971.0,2936.9 973.0,2938.0 975.0,2939.2 977.0,2940.3 979.0,2941.3 981.0,2942.4 983.0,2943.4 985.0,2944.4 987.0,2945.3 989.0,2946.3 991.0,2947.2 993.0,2948.1 995.0,2948.9 997.0,2949.7 999.0,2950.5 1001.0,2951.3 1003.0,2952.1 1005.0,2952.8 1007.0,2953.5 1009.0,2954.2 1011.0,2954.9 1013.0,2955.5 1015.0,2956.2 1017.0,2956.8 1019.0,2957.4 1021.0,2958.0 1023.0,2958.5 1025.0,2959.0 1027.0,2959.6 1029.0,2960.1 1031.0,2960.6 1033.0,2961.0 1035.0,2961.5 1037.0,2961.9 1039.0,2962.4 1041.0,2962.8 1043.0,2963.2 1045.0,2963.6 1047.0,2963.9 1049.0,2964.3 1051.0,2964.7 1053.0,2965.0 1055.0,2965.4 1057.0,2965.7 1059.0,2966.0 1061.0,2966.3 1063.0,2966.6 1065.0,2966.9 1067.0,2967.2 1069.0,2967.5 1071.0,2967.8 1073.0,2968.0 1075.0,2968.3 1077.0,2968.6 1079.0,2968.8 1081.0,2969.1 1083.0,2969.3 1085.0,2969.6 1087.0,2969.9 1089.0,2970.1 1091.0,2970.4 1093.0,2970.6 1095.0,2970.9 1097.0,2971.1 1099.0,2971.4 1101.0,2971.6 1103.0,2971.9 1105.0,2972.1 1107.0,2972.4 1109.0,2972.6 1111.0,2972.9 1113.0,2973.1 1115.0,2973.4 1117.0,2973.6 1119.0,2973.9 1121.0,2974.2 1123.0,2974.4 1125.0,2974.7 1127.0,2974.9 1129.0,2975.2 1131.0,2975.4 1133.0,2975.7 1135.0,2975.9 1137.0,2976.2 1139.0,2976.4 1141.0,2976.7 1143.0,2976.9 1145.0,2977.2 1147.0,2977.5 1149.0,2977.7 1151.0,2978.0 1153.0,2978.2 1155.0,2978.4 1157.0,2978.7 1159.0,2978.9 1161.0,2979.2 1163.0,2979.4 1165.0,2979.7 1167.0,2979.9 1169.0,2980.2 1171.0,2980.4 1173.0,2980.6 1175.0,2980.9 1177.0,2981.1 1179.0,2981.4 1181.0,2981.6 1183.0,2981.8 1185.0,2982.0 1187.0,2982.3 1189.0,2982.5 1191.0,2982.7 1193.0,2983.0 1195.0,2983.2 1197.0,2983.4 1199.0,2983.6 1201.0,2983.8 1203.0,2984.1 1205.0,2984.3 1207.0,2984.5 1209.0,2984.7 1211.0,2984.9 1213.0,2985.1 1215.0,2985.3 1217.0,2985.5 1219.0,2985.7 1221.0,2985.9 1223.0,2986.1 1225.0,2986.3 1227.0,2986.5 1229.0,2986.7 1231.0,2986.9 1233.0,2987.1 1235.0,2987.2 1237.0,2987.4 1239.0,2987.6 1241.0,2987.8 1243.0,2988.0 1245.0,2988.1 1247.0,2988.3 1249.0,2988.5 1251.0,2988.7 1253.0,2988.8 1255.0,2989.0 1257.0,2989.2 1259.0,2989.3 1261.0,2989.5 1263.0,2989.6 1265.0,2989.8 1267.0,2990.0 1269.0,2990.1 1271.0,2990.3 1273.0,2990.4 1275.0,2990.6 1277.0,2990.7 1279.0,2990.9 1281.0,2991.0 1283.0,2991.2 1285.0,2991.3 1287.0,2991.4 1289.0,2991.6 1291.0,2991.7 1293.0,2991.8 1295.0,2992.0 1297.0,2992.1 1299.0,2992.2 1301.0,2992.4 1303.0,2992.5 1305.0,2992.6 1307.0,2992.7 1309.0,2992.9 1311.0,2993.0 1313.0,2993.1 1315.0,2993.2 1317.0,2993.3 1319.0,2993.5 1321.0,2993.6 1323.0,2993.7 1325.0,2993.8 1327.0,2993.9 1329.0,2994.0 1331.0,2994.1 1333.0,2994.2 1335.0,2994.3 1337.0,2994.4 1339.0,2994.5 1341.0,2994.6 1343.0,2994.7 1345.0,2994.8 1347.0,2994.9 1349.0,2995.0 1351.0,2995.1 1353.0,2995.2 1355.0,2995.3 1357.0,2995.4 1359.0,2995.5 1361.0,2995.5 1363.0,2995.6 1365.0,2995.7 1367.0,2995.8 1369.0,2995.9 1371.0,2996.0 1373.0,2996.0 1375.0,2996.1 1377.0,2996.2 1379.0,2996.3 1381.0,2996.3 1383.0,2996.4 1385.0,2996.5 1387.0,2996.6 1389.0,2996.6 1391.0,2996.7 1393.0,2996.8 1395.0,2996.8 1397.0,2996.9 1399.0,2997.0 1401.0,2997.0 1403.0,2997.1 1405.0,2997.1 1407.0,2997.2 1409.0,2997.3 1411.0,2997.3 1413.0,2997.4 1415.0,2997.4 1417.0,2997.5 1419.0,2997.5 1421.0,2997.6 1423.0,2997.6 1425.0,2997.7 1427.0,2997.7 1429.0,2997.8 1431.0,2997.8 1433.0,2997.9 1435.0,2997.9 1437.0,2998.0 1439.0,2998.0 1441.0,2998.1 1443.0,2998.1 1445.0,2998.2 1447.0,2998.2 1449.0,2998.2 1451.0,2998.3 1453.0,2998.3 1455.0,2998.4 1457.0,2998.4 1459.0,2998.4 1461.0,2998.5 1463.0,2998.5 1465.0,2998.5 1467.0,2998.6 1469.0,2998.6 1471.0,2998.6 1473.0,2998.7 1475.0,2998.7 1477.0,2998.7 1479.0,2998.8 1481.0,2998.8 1483.0,2998.8 1485.0,2998.8 1487.0,2998.9 1489.0,2998.9 1491.0,2998.9 1493.0,2998.9 1495.0,2999.0 1497.0,2999.0 1499.0,2999.0 1501.0,2999.0 1503.0,2999.1 1505.0,2999.1 1507.0,2999.1 1509.0,2999.1 1511.0,2999.1 1513.0,2999.2 1515.0,2999.2 1517.0,2999.2 1519.0,2999.2 1521.0,2999.2 1523.0,2999.2 1525.0,2999.3 1527.0,2999.3 1529.0,2999.3 1531.0,2999.3 1533.0,2999.3 1535.0,2999.3 1537.0,2999.4 1539.0,2999.4 1541.0,2999.4 1543.0,2999.4 1545.0,2999.4 1547.0,2999.4 1549.0,2999.4 1551.0,2999.4 1553.0,2999.5 1555.0,2999.5 1557.0,2999.5 1559.0,2999.5 1561.0,2999.5 1563.0,2999.5 1565.0,2999.5 1567.0,2999.5 1569.0,2999.5 1571.0,2999.5 1573.0,2999.5 1575.0,2999.6 1577.0,2999.6 1579.0,2999.6 1581.0,2999.6 1583.0,2999.6 1585.0,2999.6 1587.0,2999.6 1589.0,2999.6 1591.0,2999.6 1593.0,2999.6 1595.0,2999.6 1597.0,2999.6 1599.0,2999.6 1601.0,2999.7 1603.0,2999.7 1605.0,2999.7 1607.0,2999.7 1609.0,2999.7 1611.0,2999.7 1613.0,2999.7 1615.0,2999.7 1617.0,2999.7 1619.0,2999.7 1621.0,2999.7 1623.0,2999.7 1625.0,2999.7 1627.0,2999.7 1629.0,2999.7 1631.0,2999.7 1633.0,2999.8 1635.0,2999.8 1637.0,2999.8 1639.0,2999.8 1641.0,2999.8 1643.0,2999.8 1645.0,2999.8 1647.0,2999.8 1649.0,2999.8 1651.0,2999.8 1653.0,2999.8 1655.0,2999.8 1657.0,2999.8 1659.0,2999.8 1661.0,2999.9 1663.0,2999.9 1665.0,2999.9 1667.0,2999.9 1669.0,2999.9 1671.0,2999.9 1673.0,2999.9 1675.0,2999.9 1677.0,2999.9 1679.0,2999.9 1681.0,3000.0 1683.0,3000.0 1685.0,3000.0 1687.0,3000.0 1689.0,3000.0 1691.0,3000.0 1693.0,3000.0 1695.0,3000.0 1697.0,3000.1 1699.0,3000.1 1701.0,3000.1 1703.0,3000.1 1705.0,3000.1 1707.0,3000.1 1709.0,3000.2 1711.0,3000.2 1713.0,3000.2 1715.0,3000.2 1717.0,3000.2 1719.0,3000.2 1721.0,3000.3 1723.0,3000.3 1725.0,3000.3 1727.0,3000.3 1729.0,3000.3 1731.0,3000.4 1733.0,3000.4 1735.0,3000.4 1737.0,3000.4 1739.0,3000.4 1741.0,3000.5 1743.0,3000.5 1745.0,3000.5 1747.0,3000.5 1749.0,3000.5 1751.0,3000.6 1753.0,3000.6 1755.0,3000.6 1757.0,3000.6 1759.0,3000.6 1761.0,3000.7 1763.0,3000.7 1765.0,3000.7 1767.0,3000.7 1769.0,3000.8 1771.0,3000.8 1773.0,3000.8 1775.0,3000.8 1777.0,3000.9 1779.0,3000.9 1781.0,3000.9 1783.0,3000.9 1785.0,3001.0 1787.0,3001.0 1789.0,3001.0 1791.0,3001.0 1793.0,3001.1 1795.0,3001.1 1797.0,3001.1 1799.0,3001.1 1801.0,3001.2 1803.0,3001.2 1805.0,3001.2 1807.0,3001.2 1809.0,3001.3 1811.0,3001.3 1813.0,3001.3 1815.0,3001.4 1817.0,3001.4 1819.0,3001.4 1821.0,3001.4 1823.0,3001.5 1825.0,3001.5 1827.0,3001.5 1829.0,3001.6 1831.0,3001.6 1833.0,3001.6 1835.0,3001.6 1837.0,3001.7 1839.0,3001.7 1841.0,3001.7 1843.0,3001.7 1845.0,3001.8 1847.0,3001.8 1849.0,3001.8 1851.0,3001.9 1853.0,3001.9 1855.0,3001.9 1857.0,3002.0 1859.0,3002.0 1861.0,3002.0 1863.0,3002.0 1865.0,3002.1 1867.0,3002.1 1869.0,3002.1 1871.0,3002.2 1873.0,3002.2 1875.0,3002.2 1877.0,3002.2 1879.0,3002.3 1881.0,3002.3 1883.0,3002.3 1885.0,3002.4 1887.0,3002.4 1889.0,3002.4 1891.0,3002.4 1893.0,3002.5 1895.0,3002.5 1897.0,3002.5 1899.0,3002.6 1901.0,3002.6 1903.0,3002.6 1905.0,3002.6 1907.0,3002.7 1909.0,3002.7 1911.0,3002.7 1913.0,3002.8 1915.0,3002.8 1917.0,3002.8 1919.0,3002.8 1921.0,3002.9 1923.0,3002.9 1925.0,3002.9 1927.0,3002.9 1929.0,3003.0 1931.0,3003.0 1933.0,3003.0 1935.0,3003.1 1937.0,3003.1 1939.0,3003.1 1941.0,3003.1 1943.0,3003.2 1945.0,3003.2 1947.0,3003.2 1949.0,3003.2 1951.0,3003.3 1953.0,3003.3 1955.0,3003.3 1957.0,3003.3 1959.0,3003.4 1961.0,3003.4 1963.0,3003.4 1965.0,3003.4 1967.0,3003.5 1969.0,3003.5 1971.0,3003.5 1973.0,3003.5 1975.0,3003.6 1977.0,3003.6 1979.0,3003.6 1981.0,3003.6 1983.0,3003.7 1985.0,3003.7 1987.0,3003.7 1989.0,3003.7 1991.0,3003.7 1993.0,3003.8 1995.0,3003.8 1997.0,3003.8 1999.0,3003.8 2001.0,3003.8 2003.0,3003.9 2005.0,3003.9 2007.0,3003.9 2009.0,3003.9 2011.0,3003.9 2013.0,3004.0 2015.0,3004.0 2017.0,3004.0 2019.0,3004.0 2021.0,3004.0 2023.0,3004.1 2025.0,3004.1 2027.0,3004.1 2029.0,3004.1 2031.0,3004.1 2033.0,3004.1 2035.0,3004.2 2037.0,3004.2 2039.0,3004.2 2041.0,3004.2 2043.0,3004.2 2045.0,3004.2 2047.0,3004.2 2049.0,3004.3 2051.0,3004.3 2053.0,3004.3 2055.0,3004.3 2057.0,3004.3 2059.0,3004.3 2061.0,3004.3 2063.0,3004.3 2065.0,3004.4 2067.0,3004.4 2069.0,3004.4 2071.0,3004.4 2073.0,3004.4 2075.0,3004.4 2077.0,3004.4 2079.0,3004.4 2081.0,3004.4 2083.0,3004.4 2085.0,3004.4 2087.0,3004.4 2089.0,3004.5 2091.0,3004.5 2093.0,3004.5 2095.0,3004.5 2097.0,3004.5 2099.0,3004.5 2101.0,3004.5 2103.0,3004.5 2105.0,3004.5 2106.0,3004.5 2114.0,3004.5" stroke="#0000ff"/>
<path d="M305.0,2980.9 313.0,2982.9 315.0,2983.4 317.0,2983.9 319.0,2984.3 321.0,2984.8 323.0,2985.2 325.0,2985.6 327.0,2986.0 329.0,2986.4 331.0,2986.8 333.0,2987.1 335.0,2987.5 337.0,2987.8 339.0,2988.1 341.0,2988.4 343.0,2988.6 345.0,2988.9 347.0,2989.1 349.0,2989.3 351.0,2989.5 353.0,2989.7 355.0,2989.9 357.0,2990.0 359.0,2990.2 361.0,2990.3 363.0,2990.3 365.0,2990.4 367.0,2990.5 369.0,2990.5 371.0,2990.5 373.0,2990.5 375.0,2990.4 377.0,2990.4 379.0,2990.3 381.0,2990.2 383.0,2990.1 385.0,2989.9 387.0,2989.8 389.0,2989.6 391.0,2989.4 393.0,2989.2 395.0,2989.0 397.0,2988.7 399.0,2988.5 401.0,2988.2 403.0,2987.9 405.0,2987.6 407.0,2987.2 409.0,2986.9 411.0,2986.5 413.0,2986.1 415.0,2985.7 417.0,2985.3 419.0,2984.9 421.0,2984.5 423.0,2984.0 425.0,2983.5 427.0,2983.1 429.0,2982.6 431.0,2982.1 433.0,2981.5 435.0,2981.0 437.0,2980.5 439.0,2979.9 441.0,2979.3 443.0,2978.8 445.0,2978.2 447.0,2977.6 449.0,2976.9 451.0,2976.3 453.0,2975.7 455.0,2975.0 457.0,2974.4 459.0,2973.7 461.0,2973.1 463.0,2972.4 465.0,2971.7 467.0,2971.0 469.0,2970.3 471.0,2969.6 473.0,2968.9 475.0,2968.1 477.0,2967.4 479.0,2966.7 481.0,2965.9 483.0,2965.2 485.0,2964.4 487.0,2963.7 489.0,2962.9 491.0,2962.1 493.0,2961.3 495.0,2960.6 497.0,2959.8 499.0,2959.0 501.0,2958.2 503.0,2957.4 505.0,2956.6 507.0,2955.8 509.0,2955.0 511.0,2954.2 513.0,2953.4 515.0,2952.6 517.0,2951.8 519.0,2950.9 521.0,2950.1 523.0,2949.3 525.0,2948.5 527.0,2947.7 529.0,2946.8 531.0,2946.0 533.0,2945.2 535.0,2944.4 537.0,2943.6 539.0,2942.7 541.0,2941.9 543.0,2941.1 545.0,2940.3 547.0,2939.4 549.0,2938.6 551.0,2937.8 553.0,2937.0 555.0,2936.2 557.0,2935.4 559.0,2934.5 561.0,2933.7 563.0,2932.9 565.0,2932.1 567.0,2931.3 569.0,2930.5 571.0,2929.7 573.0,2928.9 575.0,2928.1 577.0,2927.4 579.0,2926.6 581.0,2925.8 583.0,2925.0 585.0,2924.3 587.0,2923.5 589.0,2922.7 591.0,2922.0 593.0,2921.2 595.0,2920.5 597.0,2919.8 599.0,2919.0 601.0,2918.3 603.0,2917.6 605.0,2916.9 607.0,2916.2 609.0,2915.5 611.0,2914.8 613.0,2914.1 615.0,2913.4 617.0,2912.7 619.0,2912.1 621.0,2911.4 623.0,2910.8 625.0,2910.1 627.0,2909.5 629.0,2908.9 631.0,2908.3 633.0,2907.7 635.0,2907.1 637.0,2906.5 639.0,2905.9 641.0,2905.4 643.0,2904.8 645.0,2904.3 647.0,2903.7 649.0,2903.2 651.0,2902.7 653.0,2902.2 655.0,2901.7 657.0,2901.3 659.0,2900.8 661.0,2900.3 663.0,2899.9 665.0,2899.5 667.0,2899.1 669.0,2898.7 671.0,2898.3 673.0,2897.9 675.0,2897.5 677.0,2897.2 679.0,2896.8 681.0,2896.5 683.0,2896.2 685.0,2895.9 687.0,2895.6 689.0,2895.4 691.0,2895.1 693.0,2894.9 695.0,2894.7 697.0,2894.5 699.0,2894.3 701.0,2894.1 703.0,2893.9 705.0,2893.8 707.0,2893.7 709.0,2893.6 711.0,2893.5 713.0,2893.4 715.0,2893.3 717.0,2893.3 719.0,2893.3 721.0,2893.3 723.0,2893.3 725.0,2893.3 727.0,2893.4 729.0,2893.4 731.0,2893.5 733.0,2893.6 735.0,2893.7 737.0,2893.9 739.0,2894.0 741.0,2894.2 743.0,2894.4 745.0,2894.6 747.0,2894.9 749.0,2895.1 751.0,2895.4 753.0,2895.7 755.0,2896.0 757.0,2896.3 759.0,2896.6 761.0,2897.0 763.0,2897.3 765.0,2897.7 767.0,2898.1 769.0,2898.5 771.0,2898.9 773.0,2899.3 775.0,2899.8 777.0,2900.2 779.0,2900.7 781.0,2901.2 783.0,2901.7 785.0,2902.2 787.0,2902.7 789.0,2903.2 791.0,2903.7 793.0,2904.3 795.0,2904.8 797.0,2905.4 799.0,2906.0 801.0,2906.5 803.0,2907.1 805.0,2907.7 807.0,2908.3 809.0,2909.0 811.0,2909.6 813.0,2910.2 815.0,2910.8 817.0,2911.5 819.0,2912.1 821.0,2912.8 823.0,2913.5 825.0,2914.1 827.0,2914.8 829.0,2915.5 831.0,2916.1 833.0,2916.8 835.0,2917.5 837.0,2918.2 839.0,2918.9 841.0,2919.6 843.0,2920.3 845.0,2921.0 847.0,2921.7 849.0,2922.4 851.0,2923.1 853.0,2923.8 855.0,2924.5 857.0,2925.2 859.0,2926.0 861.0,2926.7 863.0,2927.4 865.0,2928.1 867.0,2928.8 869.0,2929.5 871.0,2930.2 873.0,2930.9 875.0,2931.7 877.0,2932.4 879.0,2933.1 881.0,2933.8 883.0,2934.5 885.0,2935.2 887.0,2936.0 889.0,2936.7 891.0,2937.4 893.0,2938.1 895.0,2938.8 897.0,2939.6 899.0,2940.3 901.0,2941.0 903.0,2941.7 905.0,2942.4 907.0,2943.2 909.0,2943.9 911.0,2944.6 913.0,2945.3 915.0,2946.1 917.0,2946.8 919.0,2947.5 921.0,2948.2 923.0,2948.9 925.0,2949.7 927.0,2950.4 929.0,2951.1 931.0,2951.8 933.0,2952.5 935.0,2953.2 937.0,2953.9 939.0,2954.6 941.0,2955.3 943.0,2956.0 945.0,2956.7 947.0,2957.4 949.0,2958.1 951.0,2958.8 953.0,2959.5 955.0,2960.1 957.0,2960.8 959.0,2961.4 961.0,2962.1 963.0,2962.7 965.0,2963.4 967.0,2964.0 969.0,2964.6 971.0,2965.2 973.0,2965.8 975.0,2966.4 977.0,2967.0 979.0,2967.6 981.0,2968.2 983.0,2968.7 985.0,2969.3 987.0,2969.8 989.0,2970.3 991.0,2970.9 993.0,2971.4 995.0,2971.9 997.0,2972.4 999.0,2972.9 1001.0,2973.4 1003.0,2973.9 1005.0,2974.4 1007.0,2974.8 1009.0,2975.3 1011.0,2975.7 1013.0,2976.2 1015.0,2976.6 1017.0,2977.1 1019.0,2977.5 1021.0,2977.9 1023.0,2978.3 1025.0,2978.7 1027.0,2979.1 1029.0,2979.5 1031.0,2979.9 1033.0,2980.3 1035.0,2980.6 1037.0,2981.0 1039.0,2981.4 1041.0,2981.7 1043.0,2982.1 1045.0,2982.4 1047.0,2982.7 1049.0,2983.1 1051.0,2983.4 1053.0,2983.7 1055.0,2984.0 1057.0,2984.3 1059.0,2984.6 1061.0,2984.9 1063.0,2985.2 1065.0,2985.5 1067.0,2985.8 1069.0,2986.0 1071.0,2986.3 1073.0,2986.6 1075.0,2986.8 1077.0,2987.1 1079.0,2987.3 1081.0,2987.6 1083.0,2987.8 1085.0,2988.0 1087.0,2988.3 1089.0,2988.5 1091.0,2988.7 1093.0,2988.9 1095.0,2989.1 1097.0,2989.3 1099.0,2989.6 1101.0,2989.7 1103.0,2989.9 1105.0,2990.1 1107.0,2990.3 1109.0,2990.5 1111.0,2990.7 1113.0,2990.9 1115.0,2991.0 1117.0,2991.2 1119.0,2991.4 1121.0,2991.5 1123.0,2991.7 1125.0,2991.8 1127.0,2992.0 1129.0,2992.1 1131.0,2992.3 1133.0,2992.4 1135.0,2992.5 1137.0,2992.7 1139.0,2992.8 1141.0,2992.9 1143.0,2993.1 1145.0,2993.2 1147.0,2993.3 1149.0,2993.4 1151.0,2993.5 1153.0,2993.7 1155.0,2993.8 1157.0,2993.9 1159.0,2994.0 1161.0,2994.1 1163.0,2994.2 1165.0,2994.3 1167.0,2994.4 1169.0,2994.5 1171.0,2994.6 1173.0,2994.7 1175.0,2994.8 1177.0,2994.9 1179.0,2994.9 1181.0,2995.0 1183.0,2995.1 1185.0,2995.2 1187.0,2995.3 1189.0,2995.4 1191.0,2995.5 1193.0,2995.5 1195.0,2995.6 1197.0,2995.7 1199.0,2995.8 1201.0,2995.9 1203.0,2995.9 1205.0,2996.0 1207.0,2996.1 1209.0,2996.2 1211.0,2996.2 1213.0,2996.3 1215.0,2996.4 1217.0,2996.5 1219.0,2996.5 1221.0,2996.6 1223.0,2996.7 1225.0,2996.7 1227.0,2996.8 1229.0,2996.9 1231.0,2997.0 1233.0,2997.0 1235.0,2997.1 1237.0,2997.2 1239.0,2997.2 1241.0,2997.3 1243.0,2997.4 1245.0,2997.4 1247.0,2997.5 1249.0,2997.6 1251.0,2997.6 1253.0,2997.7 1255.0,2997.8 1257.0,2997.8 1259.0,2997.9 1261.0,2998.0 1263.0,2998.0 1265.0,2998.1 1267.0,2998.1 1269.0,2998.2 1271.0,2998.3 1273.0,2998.3 1275.0,2998.4 1277.0,2998.5 1279.0,2998.5 1281.0,2998.6 1283.0,2998.6 1285.0,2998.7 1287.0,2998.8 1289.0,2998.8 1291.0,2998.9 1293.0,2998.9 1295.0,2999.0 1297.0,2999.0 1299.0,2999.1 1301.0,2999.2 1303.0,2999.2 1305.0,2999.3 1307.0,2999.3 1309.0,2999.4 1311.0,2999.4 1313.0,2999.5 1315.0,2999.5 1317.0,2999.6 1319.0,2999.6 1321.0,2999.7 1323.0,2999.7 1325.0,2999.8 1327.0,2999.9 1329.0,2999.9 1331.0,3000.0 1333.0,3000.0 1335.0,3000.1 1337.0,3000.1 1339.0,3000.2 1341.0,3000.2 1343.0,3000.3 1345.0,3000.3 1347.0,3000.3 1349.0,3000.4 1351.0,3000.4 1353.0,3000.5 1355.0,3000.5 1357.0,3000.6 1359.0,3000.6 1361.0,3000.7 1363.0,3000.7 1365.0,3000.8 1367.0,3000.8 1369.0,3000.8 1371.0,3000.9 1373.0,3000.9 1375.0,3001.0 1377.0,3001.0 1379.0,3001.1 1381.0,3001.1 1383.0,3001.1 1385.0,3001.2 1387.0,3001.2 1389.0,3001.3 1391.0,3001.3 1393.0,3001.4 1395.0,3001.4 1397.0,3001.4 1399.0,3001.5 1401.0,3001.5 1403.0,3001.5 1405.0,3001.6 1407.0,3001.6 1409.0,3001.7 1411.0,3001.7 1413.0,3001.7 1415.0,3001.8 1417.0,3001.8 1419.0,3001.8 1421.0,3001.9 1423.0,3001.9 1425.0,3002.0 1427.0,3002.0 1429.0,3002.0 1431.0,3002.1 1433.0,3002.1 1435.0,3002.1 1437.0,3002.2 1439.0,3002.2 1441.0,3002.2 1443.0,3002.3 1445.0,3002.3 1447.0,3002.3 1449.0,3002.4 1451.0,3002.4 1453.0,3002.4 1455.0,3002.4 1457.0,3002.5 1459.0,3002.5 1461.0,3002.5 1463.0,3002.6 1465.0,3002.6 1467.0,3002.6 1469.0,3002.7 1471.0,3002.7 1473.0,3002.7 1475.0,3002.7 1477.0,3002.8 1479.0,3002.8 1481.0,3002.8 1483.0,3002.9 1485.0,3002.9 1487.0,3002.9 1489.0,3002.9 1491.0,3003.0 1493.0,3003.0 1495.0,3003.0 1497.0,3003.0 1499.0,3003.1 1501.0,3003.1 1503.0,3003.1 1505.0,3003.1 1507.0,3003.2 1509.0,3003.2 1511.0,3003.2 1513.0,3003.2 1515.0,3003.3 1517.0,3003.3 1519.0,3003.3 1521.0,3003.3 1523.0,3003.3 1525.0,3003.4 1527.0,3003.4 1529.0,3003.4 1531.0,3003.4 1533.0,3003.5 1535.0,3003.5 1537.0,3003.5 1539.0,3003.5 1541.0,3003.5 1543.0,3003.6 1545.0,3003.6 1547.0,3003.6 1549.0,3003.6 1551.0,3003.6 1553.0,3003.7 1555.0,3003.7 1557.0,3003.7 1559.0,3003.7 1561.0,3003.7 1563.0,3003.8 1565.0,3003.8 1567.0,3003.8 1569.0,3003.8 1571.0,3003.8 1573.0,3003.8 1575.0,3003.9 1577.0,3003.9 1579.0,3003.9 1581.0,3003.9 1583.0,3003.9 1585.0,3003.9 1587.0,3004.0 1589.0,3004.0 1591.0,3004.0 1593.0,3004.0 1595.0,3004.0 1597.0,3004.0 1599.0,3004.1 1601.0,3004.1 1603.0,3004.1 1605.0,3004.1 1607.0,3004.1 1609.0,3004.1 1611.0,3004.1 1613.0,3004.2 1615.0,3004.2 1617.0,3004.2 1619.0,3004.2 1621.0,3004.2 1623.0,3004.2 1625.0,3004.2 1627.0,3004.2 1629.0,3004.3 1631.0,3004.3 1633.0,3004.3 1635.0,3004.3 1637.0,3004.3 1639.0,3004.3 1641.0,3004.3 1643.0,3004.3 1645.0,3004.4 1647.0,3004.4 1649.0,3004.4 1651.0,3004.4 1653.0,3004.4 1655.0,3004.4 1657.0,3004.4 1659.0,3004.4 1661.0,3004.4 1663.0,3004.4 1665.0,3004.5 1667.0,3004.5 1669.0,3004.5 1671.0,3004.5 1673.0,3004.5 1675.0,3004.5 1677.0,3004.5 1679.0,3004.5 1681.0,3004.5 1683.0,3004.5 1685.0,3004.6 1687.0,3004.6 1689.0,3004.6 1691.0,3004.6 1693.0,3004.6 1695.0,3004.6 1697.0,3004.6 1699.0,3004.6 1701.0,3004.6 1703.0,3004.6 1705.0,3004.6 1707.0,3004.6 1709.0,3004.7 1711.0,3004.7 1713.0,3004.7 1715.0,3004.7 1717.0,3004.7 1719.0,3004.7 1721.0,3004.7 1723.0,3004.7 1725.0,3004.7 1727.0,3004.7 1729.0,3004.7 1731.0,3004.7 1733.0,3004.7 1735.0,3004.7 1737.0,3004.8 1739.0,3004.8 1741.0,3004.8 1743.0,3004.8 1745.0,3004.8 1747.0,3004.8 1749.0,3004.8 1751.0,3004.8 1753.0,3004.8 1755.0,3004.8 1757.0,3004.8 1759.0,3004.8 1761.0,3004.8 1763.0,3004.8 1765.0,3004.8 1767.0,3004.8 1769.0,3004.8 1771.0,3004.9 1773.0,3004.9 1775.0,3004.9 1777.0,3004.9 1779.0,3004.9 1781.0,3004.9 1783.0,3004.9 1785.0,3004.9 1787.0,3004.9 1789.0,3004.9 1791.0,3004.9 1793.0,3004.9 1795.0,3004.9 1797.0,3004.9 1799.0,3004.9 1801.0,3004.9 1803.0,3004.9 1805.0,3004.9 1807.0,3004.9 1809.0,3004.9 1811.0,3005.0 1813.0,3005.0 1815.0,3005.0 1817.0,3005.0 1819.0,3005.0 1821.0,3005.0 1823.0,3005.0 1825.0,3005.0 1827.0,3005.0 1829.0,3005.0 1831.0,3005.0 1833.0,3005.0 1835.0,3005.0 1837.0,3005.0 1839.0,3005.0 1841.0,3005.0 1843.0,3005.0 1845.0,3005.0 1847.0,3005.0 1849.0,3005.0 1851.0,3005.0 1853.0,3005.0 1855.0,3005.0 1857.0,3005.1 1859.0,3005.1 1861.0,3005.1 1863.0,3005.1 1865.0,3005.1 1867.0,3005.1 1869.0,3005.1 1871.0,3005.1 1873.0,3005.1 1875.0,3005.1 1877.0,3005.1 1879.0,3005.1 1881.0,3005.1 1883.0,3005.1 1885.0,3005.1 1887.0,3005.1 1889.0,3005.1 1891.0,3005.1 1893.0,3005.1 1895.0,3005.1 1897.0,3005.1 1899.0,3005.2 1901.0,3005.2 1903.0,3005.2 1905.0,3005.2 1907.0,3005.2 1909.0,3005.2 1911.0,3005.2 1913.0,3005.2 1915.0,3005.2 1917.0,3005.2 1919.0,3005.2 1921.0,3005.2 1923.0,3005.2 1925.0,3005.2 1927.0,3005.2 1929.0,3005.2 1931.0,3005.2 1933.0,3005.2 1935.0,3005.3 1937.0,3005.3 1939.0,3005.3 1941.0,3005.3 1943.0,3005.3 1945.0,3005.3 1947.0,3005.3 1949.0,3005.3 1951.0,3005.3 1953.0,3005.3 1955.0,3005.3 1957.0,3005.3 1959.0,3005.3 1961.0,3005.3 1963.0,3005.3 1965.0,3005.3 1967.0,3005.4 1969.0,3005.4 1971.0,3005.4 1973.0,3005.4 1975.0,3005.4 1977.0,3005.4 1979.0,3005.4 1981.0,3005.4 1983.0,3005.4 1985.0,3005.4 1987.0,3005.4 1989.0,3005.4 1991.0,3005.4 1993.0,3005.5 1995.0,3005.5 1997.0,3005.5 1999.0,3005.5 2001.0,3005.5 2003.0,3005.5 2005.0,3005.5 2007.0,3005.5 2009.0,3005.5 2011.0,3005.5 2013.0,3005.5 2015.0,3005.6 2017.0,3005.6 2019.0,3005.6 2021.0,3005.6 2023.0,3005.6 2025.0,3005.6 2027.0,3005.6 2029.0,3005.6 2031.0,3005.6 2033.0,3005.6 2035.0,3005.7 2037.0,3005.7 2039.0,3005.7 2041.0,3005.7 2043.0,3005.7 2045.0,3005.7 2047.0,3005.7 2049.0,3005.7 2051.0,3005.8 2053.0,3005.8 2055.0,3005.8 2057.0,3005.8 2059.0,3005.8 2061.0,3005.8 2063.0,3005.8 2065.0,3005.8 2067.0,3005.9 2069.0,3005.9 2071.0,3005.9 2073.0,3005.9 2075.0,3005.9 2077.0,3005.9 2079.0,3005.9 2081.0,3005.9 2083.0,3006.0 2085.0,3006.0 2087.0,3006.0 2089.0,3006.0 2091.0,3006.0 2093.0,3006.0 2095.0,3006.1 2097.0,3006.1 2099.0,3006.1 2101.0,3006.1 2103.0,3006.1 2105.0,3006.1 2106.0,3006.1 2114.0,3006.2" stroke="#ff00ff"/>
<path d="M305.0,2980.5 313.0,2982.4 315.0,2982.9 317.0,2983.4 319.0,2983.8 321.0,2984.2 323.0,2984.6 325.0,2985.0 327.0,2985.4 329.0,2985.7 331.0,2986.0 333.0,2986.3 335.0,2986.6 337.0,2986.9 339.0,2987.1 341.0,2987.3 343.0,2987.5 345.0,2987.7 347.0,2987.9 349.0,2988.0 351.0,2988.2 353.0,2988.3 355.0,2988.4 357.0,2988.4 359.0,2988.5 361.0,2988.5 363.0,2988.5 365.0,2988.5 367.0,2988.5 369.0,2988.5 371.0,2988.4 373.0,2988.4 375.0,2988.3 377.0,2988.2 379.0,2988.1 381.0,2988.0 383.0,2987.8 385.0,2987.6 387.0,2987.5 389.0,2987.3 391.0,2987.1 393.0,2986.8 395.0,2986.6 397.0,2986.3 399.0,2986.1 401.0,2985.8 403.0,2985.5 405.0,2985.2 407.0,2984.8 409.0,2984.5 411.0,2984.1 413.0,2983.8 415.0,2983.4 417.0,2983.0 419.0,2982.6 421.0,2982.2 423.0,2981.7 425.0,2981.3 427.0,2980.8 429.0,2980.3 431.0,2979.8 433.0,2979.3 435.0,2978.8 437.0,2978.3 439.0,2977.8 441.0,2977.2 443.0,2976.7 445.0,2976.1 447.0,2975.5 449.0,2974.9 451.0,2974.3 453.0,2973.7 455.0,2973.1 457.0,2972.4 459.0,2971.8 461.0,2971.1 463.0,2970.5 465.0,2969.8 467.0,2969.1 469.0,2968.4 471.0,2967.7 473.0,2967.0 475.0,2966.2 477.0,2965.5 479.0,2964.8 481.0,2964.0 483.0,2963.3 485.0,2962.5 487.0,2961.7 489.0,2960.9 491.0,2960.1 493.0,2959.3 495.0,2958.5 497.0,2957.7 499.0,2956.9 501.0,2956.0 503.0,2955.2 505.0,2954.4 507.0,2953.5 509.0,2952.7 511.0,2951.8 513.0,2950.9 515.0,2950.1 517.0,2949.2 519.0,2948.3 521.0,2947.4 523.0,2946.6 525.0,2945.7 527.0,2944.8 529.0,2943.9 531.0,2943.0 533.0,2942.1 535.0,2941.2 537.0,2940.3 539.0,2939.4 541.0,2938.5 543.0,2937.6 545.0,2936.7 547.0,2935.8 549.0,2934.9 551.0,2934.1 553.0,2933.2 555.0,2932.3 557.0,2931.4 559.0,2930.5 561.0,2929.6 563.0,2928.8 565.0,2927.9 567.0,2927.0 569.0,2926.2 571.0,2925.3 573.0,2924.4 575.0,2923.6 577.0,2922.8 579.0,2921.9 581.0,2921.1 583.0,2920.3 585.0,2919.4 587.0,2918.6 589.0,2917.8 591.0,2917.0 593.0,2916.3 595.0,2915.5 597.0,2914.7 599.0,2914.0 601.0,2913.2 603.0,2912.5 605.0,2911.8 607.0,2911.0 609.0,2910.3 611.0,2909.6 613.0,2909.0 615.0,2908.3 617.0,2907.6 619.0,2907.0 621.0,2906.4 623.0,2905.7 625.0,2905.1 627.0,2904.5 629.0,2903.9 631.0,2903.4 633.0,2902.8 635.0,2902.3 637.0,2901.7 639.0,2901.2 641.0,2900.7 643.0,2900.2 645.0,2899.7 647.0,2899.2 649.0,2898.8 651.0,2898.3 653.0,2897.9 655.0,2897.5 657.0,2897.1 659.0,2896.7 661.0,2896.3 663.0,2895.9 665.0,2895.6 667.0,2895.2 669.0,2894.9 671.0,2894.6 673.0,2894.3 675.0,2894.0 677.0,2893.7 679.0,2893.5 681.0,2893.2 683.0,2893.0 685.0,2892.7 687.0,2892.5 689.0,2892.3 691.0,2892.2 693.0,2892.0 695.0,2891.8 697.0,2891.7 699.0,2891.6 701.0,2891.4 703.0,2891.3 705.0,2891.3 707.0,2891.2 709.0,2891.1 711.0,2891.1 713.0,2891.0 715.0,2891.0 717.0,2891.0 719.0,2891.0 721.0,2891.1 723.0,2891.1 725.0,2891.1 727.0,2891.2 729.0,2891.3 731.0,2891.4 733.0,2891.5 735.0,2891.6 737.0,2891.8 739.0,2891.9 741.0,2892.1 743.0,2892.3 745.0,2892.4 747.0,2892.7 749.0,2892.9 751.0,2893.1 753.0,2893.3 755.0,2893.6 757.0,2893.9 759.0,2894.1 761.0,2894.4 763.0,2894.7 765.0,2895.0 767.0,2895.4 769.0,2895.7 771.0,2896.0 773.0,2896.4 775.0,2896.7 777.0,2897.1 779.0,2897.5 781.0,2897.9 783.0,2898.3 785.0,2898.7 787.0,2899.1 789.0,2899.5 791.0,2900.0 793.0,2900.4 795.0,2900.8 797.0,2901.3 799.0,2901.7 801.0,2902.2 803.0,2902.7 805.0,2903.2 807.0,2903.6 809.0,2904.1 811.0,2904.6 813.0,2905.1 815.0,2905.6 817.0,2906.1 819.0,2906.7 821.0,2907.2 823.0,2907.7 825.0,2908.2 827.0,2908.8 829.0,2909.3 831.0,2909.8 833.0,2910.4 835.0,2910.9 837.0,2911.4 839.0,2912.0 841.0,2912.5 843.0,2913.1 845.0,2913.6 847.0,2914.2 849.0,2914.7 851.0,2915.3 853.0,2915.9 855.0,2916.4 857.0,2917.0 859.0,2917.5 861.0,2918.1 863.0,2918.6 865.0,2919.2 867.0,2919.7 869.0,2920.3 871.0,2920.9 873.0,2921.4 875.0,2922.0 877.0,2922.5 879.0,2923.1 881.0,2923.6 883.0,2924.2 885.0,2924.7 887.0,2925.3 889.0,2925.8 891.0,2926.4 893.0,2926.9 895.0,2927.5 897.0,2928.0 899.0,2928.6 901.0,2929.1 903.0,2929.7 905.0,2930.2 907.0,2930.8 909.0,2931.3 911.0,2931.8 913.0,2932.4 915.0,2932.9 917.0,2933.5 919.0,2934.0 921.0,2934.5 923.0,2935.1 925.0,2935.6 927.0,2936.1 929.0,2936.6 931.0,2937.2 933.0,2937.7 935.0,2938.2 937.0,2938.7 939.0,2939.3 941.0,2939.8 943.0,2940.3 945.0,2940.8 947.0,2941.3 949.0,2941.8 951.0,2942.3 953.0,2942.8 955.0,2943.3 957.0,2943.8 959.0,2944.3 961.0,2944.8 963.0,2945.3 965.0,2945.8 967.0,2946.3 969.0,2946.7 971.0,2947.2 973.0,2947.7 975.0,2948.2 977.0,2948.6 979.0,2949.1 981.0,2949.6 983.0,2950.0 985.0,2950.5 987.0,2950.9 989.0,2951.4 991.0,2951.8 993.0,2952.3 995.0,2952.7 997.0,2953.2 999.0,2953.6 1001.0,2954.0 1003.0,2954.5 1005.0,2954.9 1007.0,2955.3 1009.0,2955.8 1011.0,2956.2 1013.0,2956.6 1015.0,2957.0 1017.0,2957.4 1019.0,2957.8 1021.0,2958.2 1023.0,2958.6 1025.0,2959.1 1027.0,2959.4 1029.0,2959.8 1031.0,2960.2 1033.0,2960.6 1035.0,2961.0 1037.0,2961.4 1039.0,2961.8 1041.0,2962.2 1043.0,2962.5 1045.0,2962.9 1047.0,2963.3 1049.0,2963.7 1051.0,2964.0 1053.0,2964.4 1055.0,2964.8 1057.0,2965.1 1059.0,2965.5 1061.0,2965.8 1063.0,2966.2 1065.0,2966.5 1067.0,2966.9 1069.0,2967.2 1071.0,2967.6 1073.0,2967.9 1075.0,2968.2 1077.0,2968.6 1079.0,2968.9 1081.0,2969.2 1083.0,2969.6 1085.0,2969.9 1087.0,2970.2 1089.0,2970.5 1091.0,2970.9 1093.0,2971.2 1095.0,2971.5 1097.0,2971.8 1099.0,2972.1 1101.0,2972.4 1103.0,2972.7 1105.0,2973.0 1107.0,2973.3 1109.0,2973.6 1111.0,2973.9 1113.0,2974.2 1115.0,2974.5 1117.0,2974.8 1119.0,2975.1 1121.0,2975.3 1123.0,2975.6 1125.0,2975.9 1127.0,2976.2 1129.0,2976.5 1131.0,2976.7 1133.0,2977.0 1135.0,2977.3 1137.0,2977.5 1139.0,2977.8 1141.0,2978.1 1143.0,2978.3 1145.0,2978.6 1147.0,2978.8 1149.0,2979.1 1151.0,2979.3 1153.0,2979.6 1155.0,2979.8 1157.0,2980.1 1159.0,2980.3 1161.0,2980.6 1163.0,2980.8 1165.0,2981.0 1167.0,2981.3 1169.0,2981.5 1171.0,2981.7 1173.0,2982.0 1175.0,2982.2 1177.0,2982.4 1179.0,2982.6 1181.0,2982.9 1183.0,2983.1 1185.0,2983.3 1187.0,2983.5 1189.0,2983.7 1191.0,2983.9 1193.0,2984.1 1195.0,2984.4 1197.0,2984.6 1199.0,2984.8 1201.0,2985.0 1203.0,2985.2 1205.0,2985.4 1207.0,2985.6 1209.0,2985.8 1211.0,2986.0 1213.0,2986.1 1215.0,2986.3 1217.0,2986.5 1219.0,2986.7 1221.0,2986.9 1223.0,2987.1 1225.0,2987.3 1227.0,2987.4 1229.0,2987.6 1231.0,2987.8 1233.0,2988.0 1235.0,2988.1 1237.0,2988.3 1239.0,2988.5 1241.0,2988.6 1243.0,2988.8 1245.0,2989.0 1247.0,2989.1 1249.0,2989.3 1251.0,2989.5 1253.0,2989.6 1255.0,2989.8 1257.0,2989.9 1259.0,2990.1 1261.0,2990.2 1263.0,2990.4 1265.0,2990.5 1267.0,2990.7 1269.0,2990.8 1271.0,2991.0 1273.0,2991.1 1275.0,2991.3 1277.0,2991.4 1279.0,2991.5 1281.0,2991.7 1283.0,2991.8 1285.0,2991.9 1287.0,2992.1 1289.0,2992.2 1291.0,2992.3 1293.0,2992.5 1295.0,2992.6 1297.0,2992.7 1299.0,2992.8 1301.0,2993.0 1303.0,2993.1 1305.0,2993.2 1307.0,2993.3 1309.0,2993.4 1311.0,2993.5 1313.0,2993.7 1315.0,2993.8 1317.0,2993.9 1319.0,2994.0 1321.0,2994.1 1323.0,2994.2 1325.0,2994.3 1327.0,2994.4 1329.0,2994.5 1331.0,2994.6 1333.0,2994.7 1335.0,2994.8 1337.0,2994.9 1339.0,2995.0 1341.0,2995.1 1343.0,2995.2 1345.0,2995.3 1347.0,2995.4 1349.0,2995.5 1351.0,2995.6 1353.0,2995.7 1355.0,2995.8 1357.0,2995.8 1359.0,2995.9 1361.0,2996.0 1363.0,2996.1 1365.0,2996.2 1367.0,2996.3 1369.0,2996.3 1371.0,2996.4 1373.0,2996.5 1375.0,2996.6 1377.0,2996.6 1379.0,2996.7 1381.0,2996.8 1383.0,2996.9 1385.0,2996.9 1387.0,2997.0 1389.0,2997.1 1391.0,2997.1 1393.0,2997.2 1395.0,2997.3 1397.0,2997.3 1399.0,2997.4 1401.0,2997.5 1403.0,2997.5 1405.0,2997.6 1407.0,2997.6 1409.0,2997.7 1411.0,2997.8 1413.0,2997.8 1415.0,2997.9 1417.0,2997.9 1419.0,2998.0 1421.0,2998.0 1423.0,2998.1 1425.0,2998.1 1427.0,2998.2 1429.0,2998.2 1431.0,2998.3 1433.0,2998.3 1435.0,2998.4 1437.0,2998.4 1439.0,2998.5 1441.0,2998.5 1443.0,2998.6 1445.0,2998.6 1447.0,2998.6 1449.0,2998.7 1451.0,2998.7 1453.0,2998.8 1455.0,2998.8 1457.0,2998.8 1459.0,2998.9 1461.0,2998.9 1463.0,2998.9 1465.0,2999.0 1467.0,2999.0 1469.0,2999.1 1471.0,2999.1 1473.0,2999.1 1475.0,2999.1 1477.0,2999.2 1479.0,2999.2 1481.0,2999.2 1483.0,2999.3 1485.0,2999.3 1487.0,2999.3 1489.0,2999.4 1491.0,2999.4 1493.0,2999.4 1495.0,2999.4 1497.0,2999.5 1499.0,2999.5 1501.0,2999.5 1503.0,2999.5 1505.0,2999.5 1507.0,2999.6 1509.0,2999.6 1511.0,2999.6 1513.0,2999.6 1515.0,2999.7 1517.0,2999.7 1519.0,2999.7 1521.0,2999.7 1523.0,2999.7 1525.0,2999.7 1527.0,2999.8 1529.0,2999.8 1531.0,2999.8 1533.0,2999.8 1535.0,2999.8 1537.0,2999.8 1539.0,2999.9 1541.0,2999.9 1543.0,2999.9 1545.0,2999.9 1547.0,2999.9 1549.0,2999.9 1551.0,2999.9 1553.0,2999.9 1555.0,3000.0 1557.0,3000.0 1559.0,3000.0 1561.0,3000.0 1563.0,3000.0 1565.0,3000.0 1567.0,3000.0 1569.0,3000.0 1571.0,3000.0 1573.0,3000.0 1575.0,3000.0 1577.0,3000.1 1579.0,3000.1 1581.0,3000.1 1583.0,3000.1 1585.0,3000.1 1587.0,3000.1 1589.0,3000.1 1591.0,3000.1 1593.0,3000.1 1595.0,3000.1 1597.0,3000.1 1599.0,3000.1 1601.0,3000.1 1603.0,3000.1 1605.0,3000.1 1607.0,3000.1 1609.0,3000.2 1611.0,3000.2 1613.0,3000.2 1615.0,3000.2 1617.0,3000.2 1619.0,3000.2 1621.0,3000.2 1623.0,3000.2 1625.0,3000.2 1627.0,3000.2 1629.0,3000.2 1631.0,3000.2 1633.0,3000.2 1635.0,3000.2 1637.0,3000.2 1639.0,3000.2 1641.0,3000.2 1643.0,3000.2 1645.0,3000.2 1647.0,3000.2 1649.0,3000.2 1651.0,3000.2 1653.0,3000.2 1655.0,3000.2 1657.0,3000.2 1659.0,3000.3 1661.0,3000.3 1663.0,3000.3 1665.0,3000.3 1667.0,3000.3 1669.0,3000.3 1671.0,3000.3 1673.0,3000.3 1675.0,3000.3 1677.0,3000.3 1679.0,3000.3 1681.0,3000.3 1683.0,3000.3 1685.0,3000.3 1687.0,3000.3 1689.0,3000.3 1691.0,3000.3 1693.0,3000.3 1695.0,3000.4 1697.0,3000.4 1699.0,3000.4 1701.0,3000.4 1703.0,3000.4 1705.0,3000.4 1707.0,3000.4 1709.0,3000.4 1711.0,3000.4 1713.0,3000.4 1715.0,3000.4 1717.0,3000.4 1719.0,3000.5 1721.0,3000.5 1723.0,3000.5 1725.0,3000.5 1727.0,3000.5 1729.0,3000.5 1731.0,3000.5 1733.0,3000.5 1735.0,3000.5 1737.0,3000.5 1739.0,3000.6 1741.0,3000.6 1743.0,3000.6 1745.0,3000.6 1747.0,3000.6 1749.0,3000.6 1751.0,3000.6 1753.0,3000.6 1755.0,3000.7 1757.0,3000.7 1759.0,3000.7 1761.0,3000.7 1763.0,3000.7 1765.0,3000.7 1767.0,3000.7 1769.0,3000.7 1771.0,3000.8 1773.0,3000.8 1775.0,3000.8 1777.0,3000.8 1779.0,3000.8 1781.0,3000.8 1783.0,3000.8 1785.0,3000.9 1787.0,3000.9 1789.0,3000.9 1791.0,3000.9 1793.0,3000.9 1795.0,3000.9 1797.0,3000.9 1799.0,3001.0 1801.0,3001.0 1803.0,3001.0 1805.0,3001.0 1807.0,3001.0 1809.0,3001.0 1811.0,3001.1 1813.0,3001.1 1815.0,3001.1 1817.0,3001.1 1819.0,3001.1 1821.0,3001.1 1823.0,3001.2 1825.0,3001.2 1827.0,3001.2 1829.0,3001.2 1831.0,3001.2 1833.0,3001.2 1835.0,3001.3 1837.0,3001.3 1839.0,3001.3 1841.0,3001.3 1843.0,3001.3 1845.0,3001.3 1847.0,3001.4 1849.0,3001.4 1851.0,3001.4 1853.0,3001.4 1855.0,3001.4 1857.0,3001.5 1859.0,3001.5 1861.0,3001.5 1863.0,3001.5 1865.0,3001.5 1867.0,3001.6 1869.0,3001.6 1871.0,3001.6 1873.0,3001.6 1875.0,3001.6 1877.0,3001.7 1879.0,3001.7 1881.0,3001.7 1883.0,3001.7 1885.0,3001.7 1887.0,3001.8 1889.0,3001.8 1891.0,3001.8 1893.0,3001.8 1895.0,3001.8 1897.0,3001.9 1899.0,3001.9 1901.0,3001.9 1903.0,3001.9 1905.0,3001.9 1907.0,3002.0 1909.0,3002.0 1911.0,3002.0 1913.0,3002.0 1915.0,3002.0 1917.0,3002.1 1919.0,3002.1 1921.0,3002.1 1923.0,3002.1 1925.0,3002.1 1927.0,3002.2 1929.0,3002.2 1931.0,3002.2 1933.0,3002.2 1935.0,3002.2 1937.0,3002.3 1939.0,3002.3 1941.0,3002.3 1943.0,3002.3 1945.0,3002.4 1947.0,3002.4 1949.0,3002.4 1951.0,3002.4 1953.0,3002.4 1955.0,3002.5 1957.0,3002.5 1959.0,3002.5 1961.0,3002.5 1963.0,3002.5 1965.0,3002.6 1967.0,3002.6 1969.0,3002.6 1971.0,3002.6 1973.0,3002.7 1975.0,3002.7 1977.0,3002.7 1979.0,3002.7 1981.0,3002.7 1983.0,3002.8 1985.0,3002.8 1987.0,3002.8 1989.0,3002.8 1991.0,3002.8 1993.0,3002.9 1995.0,3002.9 1997.0,3002.9 1999.0,3002.9 2001.0,3003.0 2003.0,3003.0 2005.0,3003.0 2007.0,3003.0 2009.0,3003.0 2011.0,3003.1 2013.0,3003.1 2015.0,3003.1 2017.0,3003.1 2019.0,3003.1 2021.0,3003.2 2023.0,3003.2 2025.0,3003.2 2027.0,3003.2 2029.0,3003.3 2031.0,3003.3 2033.0,3003.3 2035.0,3003.3 2037.0,3003.3 2039.0,3003.4 2041.0,3003.4 2043.0,3003.4 2045.0,3003.4 2047.0,3003.4 2049.0,3003.5 2051.0,3003.5 2053.0,3003.5 2055.0,3003.5 2057.0,3003.6 2059.0,3003.6 2061.0,3003.6 2063.0,3003.6 2065.0,3003.6 2067.0,3003.7 2069.0,3003.7 2071.0,3003.7 2073.0,3003.7 2075.0,3003.7 2077.0,3003.8 2079.0,3003.8 2081.0,3003.8 2083.0,3003.8 2085.0,3003.8 2087.0,3003.9 2089.0,3003.9 2091.0,3003.9 2093.0,3003.9 2095.0,3003.9 2097.0,3004.0 2099.0,3004.0 2101.0,3004.0 2103.0,3004.0 2105.0,3004.0 2106.0,3004.0 2114.0,3004.1" stroke="#ff8000"/>
<path d="M305.0,2868.4 313.0,2868.3 315.0,2868.3 317.0,2868.3 319.0,2868.2 321.0,2868.2 323.0,2868.1 325.0,2868.0 327.0,2868.0 329.0,2867.9 331.0,2867.7 333.0,2867.6 335.0,2867.4 337.0,2867.3 339.0,2867.1 341.0,2866.9 343.0,2866.6 345.0,2866.4 347.0,2866.1 349.0,2865.8 351.0,2865.5 353.0,2865.2 355.0,2864.8 357.0,2864.4 359.0,2864.0 361.0,2863.5 363.0,2863.0 365.0,2862.5 367.0,2862.0 369.0,2861.4 371.0,2860.8 373.0,2860.2 375.0,2859.5 377.0,2858.8 379.0,2858.1 381.0,2857.3 383.0,2856.5 385.0,2855.7 387.0,2854.9 389.0,2854.0 391.0,2853.1 393.0,2852.2 395.0,2851.3 397.0,2850.3 399.0,2849.4 401.0,2848.4 403.0,2847.4 405.0,2846.4 407.0,2845.4 409.0,2844.3 411.0,2843.3 413.0,2842.2 415.0,2841.2 417.0,2840.1 419.0,2839.0 421.0,2837.9 423.0,2836.9 425.0,2835.8 427.0,2834.7 429.0,2833.6 431.0,2832.6 433.0,2831.5 435.0,2830.4 437.0,2829.4 439.0,2828.3 441.0,2827.3 443.0,2826.2 445.0,2825.2 447.0,2824.2 449.0,2823.2 451.0,2822.2 453.0,2821.3 455.0,2820.3 457.0,2819.4 459.0,2818.5 461.0,2817.6 463.0,2816.8 465.0,2816.0 467.0,2815.2 469.0,2814.4 471.0,2813.6 473.0,2812.9 475.0,2812.2 477.0,2811.6 479.0,2811.0 481.0,2810.4 483.0,2809.8 485.0,2809.3 487.0,2808.9 489.0,2808.4 491.0,2808.0 493.0,2807.7 495.0,2807.4 497.0,2807.2 499.0,2806.9 501.0,2806.8 503.0,2806.7 505.0,2806.6 507.0,2806.6 509.0,2806.6 511.0,2806.7 513.0,2806.8 515.0,2807.0 517.0,2807.2 519.0,2807.5 521.0,2807.8 523.0,2808.2 525.0,2808.7 527.0,2809.2 529.0,2809.7 531.0,2810.4 533.0,2811.0 535.0,2811.8 537.0,2812.6 539.0,2813.4 541.0,2814.3 543.0,2815.3 545.0,2816.3 547.0,2817.4 549.0,2818.6 551.0,2819.8 553.0,2821.1 555.0,2822.4 557.0,2823.8 559.0,2825.3 561.0,2826.8 563.0,2828.4 565.0,2830.0 567.0,2831.7 569.0,2833.4 571.0,2835.1 573.0,2836.9 575.0,2838.7 577.0,2840.5 579.0,2842.4 581.0,2844.3 583.0,2846.2 585.0,2848.1 587.0,2850.0 589.0,2851.9 591.0,2853.9 593.0,2855.8 595.0,2857.8 597.0,2859.7 599.0,2861.6 601.0,2863.5 603.0,2865.4 605.0,2867.3 607.0,2869.1 609.0,2871.0 611.0,2872.8 613.0,2874.5 615.0,2876.2 617.0,2877.9 619.0,2879.6 621.0,2881.2 623.0,2882.8 625.0,2884.3 627.0,2885.8 629.0,2887.3 631.0,2888.7 633.0,2890.0 635.0,2891.3 637.0,2892.6 639.0,2893.8 641.0,2895.0 643.0,2896.2 645.0,2897.2 647.0,2898.3 649.0,2899.3 651.0,2900.2 653.0,2901.1 655.0,2901.9 657.0,2902.7 659.0,2903.4 661.0,2904.1 663.0,2904.7 665.0,2905.2 667.0,2905.7 669.0,2906.2 671.0,2906.5 673.0,2906.9 675.0,2907.1 677.0,2907.3 679.0,2907.5 681.0,2907.6 683.0,2907.6 685.0,2907.7 687.0,2907.7 689.0,2907.6 691.0,2907.6 693.0,2907.5 695.0,2907.5 697.0,2907.4 699.0,2907.3 701.0,2907.2 703.0,2907.2 705.0,2907.2 707.0,2907.1 709.0,2907.1 711.0,2907.2 713.0,2907.2 715.0,2907.3 717.0,2907.5 719.0,2907.7 721.0,2907.9 723.0,2908.1 725.0,2908.5 727.0,2908.8 729.0,2909.2 731.0,2909.7 733.0,2910.3 735.0,2910.9 737.0,2911.5 739.0,2912.3 741.0,2913.0 743.0,2913.8 745.0,2914.7 747.0,2915.5 749.0,2916.4 751.0,2917.2 753.0,2918.1 755.0,2919.0 757.0,2919.8 759.0,2920.6 761.0,2921.4 763.0,2922.1 765.0,2922.8 767.0,2923.5 769.0,2924.1 771.0,2924.7 773.0,2925.2 775.0,2925.7 777.0,2926.2 779.0,2926.7 781.0,2927.1 783.0,2927.6 785.0,2928.0 787.0,2928.4 789.0,2928.8 791.0,2929.2 793.0,2929.6 795.0,2929.9 797.0,2930.3 799.0,2930.7 801.0,2931.1 803.0,2931.5 805.0,2931.9 807.0,2932.3 809.0,2932.7 811.0,2933.2 813.0,2933.6 815.0,2934.0 817.0,2934.4 819.0,2934.8 821.0,2935.3 823.0,2935.7 825.0,2936.1 827.0,2936.6 829.0,2937.0 831.0,2937.5 833.0,2937.9 835.0,2938.4 837.0,2938.8 839.0,2939.3 841.0,2939.8 843.0,2940.2 845.0,2940.7 847.0,2941.2 849.0,2941.7 851.0,2942.2 853.0,2942.7 855.0,2943.2 857.0,2943.7 859.0,2944.2 861.0,2944.7 863.0,2945.1 865.0,2945.6 867.0,2946.0 869.0,2946.5 871.0,2946.8 873.0,2947.2 875.0,2947.5 877.0,2947.8 879.0,2948.0 881.0,2948.2 883.0,2948.3 885.0,2948.4 887.0,2948.4 889.0,2948.4 891.0,2948.3 893.0,2948.3 895.0,2948.2 897.0,2948.0 899.0,2947.9 901.0,2947.8 903.0,2947.8 905.0,2947.7 907.0,2947.7 909.0,2947.7 911.0,2947.8 913.0,2948.0 915.0,2948.2 917.0,2948.5 919.0,2948.8 921.0,2949.2 923.0,2949.7 925.0,2950.2 927.0,2950.8 929.0,2951.4 931.0,2952.1 933.0,2952.8 935.0,2953.6 937.0,2954.4 939.0,2955.2 941.0,2956.1 943.0,2957.1 945.0,2958.0 947.0,2959.0 949.0,2960.0 951.0,2961.0 953.0,2962.1 955.0,2963.1 957.0,2964.2 959.0,2965.3 961.0,2966.4 963.0,2967.5 965.0,2968.6 967.0,2969.7 969.0,2970.8 971.0,2971.9 973.0,2973.0 975.0,2974.1 977.0,2975.2 979.0,2976.3 981.0,2977.4 983.0,2978.4 985.0,2979.5 987.0,2980.5 989.0,2981.5 991.0,2982.5 993.0,2983.5 995.0,2984.4 997.0,2985.4 999.0,2986.3 1001.0,2987.2 1003.0,2988.1 1005.0,2989.0 1007.0,2989.8 1009.0,2990.6 1011.0,2991.4 1013.0,2992.2 1015.0,2992.9 1017.0,2993.7 1019.0,2994.3 1021.0,2995.0 1023.0,2995.7 1025.0,2996.3 1027.0,2996.8 1029.0,2997.4 1031.0,2997.9 1033.0,2998.4 1035.0,2998.8 1037.0,2999.2 1039.0,2999.6 1041.0,3000.0 1043.0,3000.3 1045.0,3000.6 1047.0,3000.9 1049.0,3001.1 1051.0,3001.3 1053.0,3001.5 1055.0,3001.7 1057.0,3001.9 1059.0,3002.0 1061.0,3002.1 1063.0,3002.2 1065.0,3002.3 1067.0,3002.4 1069.0,3002.5 1071.0,3002.5 1073.0,3002.5 1075.0,3002.6 1077.0,3002.6 1079.0,3002.6 1081.0,3002.6 1083.0,3002.6 1085.0,3002.6 1087.0,3002.6 1089.0,3002.6 1091.0,3002.6 1093.0,3002.6 1095.0,3002.6 1097.0,3002.6 1099.0,3002.6 1101.0,3002.6 1103.0,3002.6 1105.0,3002.7 1107.0,3002.7 1109.0,3002.7 1111.0,3002.7 1113.0,3002.7 1115.0,3002.8 1117.0,3002.8 1119.0,3002.8 1121.0,3002.8 1123.0,3002.9 1125.0,3002.9 1127.0,3002.9 1129.0,3003.0 1131.0,3003.0 1133.0,3003.0 1135.0,3003.1 1137.0,3003.1 1139.0,3003.2 1141.0,3003.2 1143.0,3003.2 1145.0,3003.3 1147.0,3003.3 1149.0,3003.4 1151.0,3003.4 1153.0,3003.4 1155.0,3003.5 1157.0,3003.5 1159.0,3003.6 1161.0,3003.6 1163.0,3003.6 1165.0,3003.7 1167.0,3003.7 1169.0,3003.7 1171.0,3003.8 1173.0,3003.8 1175.0,3003.8 1177.0,3003.9 1179.0,3003.9 1181.0,3003.9 1183.0,3004.0 1185.0,3004.0 1187.0,3004.0 1189.0,3004.1 1191.0,3004.1 1193.0,3004.1 1195.0,3004.1 1197.0,3004.1 1199.0,3004.1 1201.0,3004.2 1203.0,3004.2 1205.0,3004.2 1207.0,3004.2 1209.0,3004.2 1211.0,3004.2 1213.0,3004.2 1215.0,3004.2 1217.0,3004.2 1219.0,3004.2 1221.0,3004.2 1223.0,3004.1 1225.0,3004.1 1227.0,3004.1 1229.0,3004.1 1231.0,3004.1 1233.0,3004.0 1235.0,3004.0 1237.0,3004.0 1239.0,3003.9 1241.0,3003.9 1243.0,3003.9 1245.0,3003.8 1247.0,3003.8 1249.0,3003.8 1251.0,3003.7 1253.0,3003.7 1255.0,3003.6 1257.0,3003.6 1259.0,3003.5 1261.0,3003.5 1263.0,3003.4 1265.0,3003.4 1267.0,3003.3 1269.0,3003.3 1271.0,3003.2 1273.0,3003.2 1275.0,3003.1 1277.0,3003.0 1279.0,3003.0 1281.0,3002.9 1283.0,3002.9 1285.0,3002.8 1287.0,3002.7 1289.0,3002.7 1291.0,3002.6 1293.0,3002.5 1295.0,3002.5 1297.0,3002.4 1299.0,3002.3 1301.0,3002.2 1303.0,3002.2 1305.0,3002.1 1307.0,3002.0 1309.0,3001.9 1311.0,3001.9 1313.0,3001.8 1315.0,3001.7 1317.0,3001.7 1319.0,3001.6 1321.0,3001.5 1323.0,3001.4 1325.0,3001.3 1327.0,3001.3 1329.0,3001.2 1331.0,3001.1 1333.0,3001.0 1335.0,3001.0 1337.0,3000.9 1339.0,3000.8 1341.0,3000.7 1343.0,3000.7 1345.0,3000.6 1347.0,3000.5 1349.0,3000.4 1351.0,3000.4 1353.0,3000.3 1355.0,3000.2 1357.0,3000.1 1359.0,3000.1 1361.0,3000.0 1363.0,2999.9 1365.0,2999.9 1367.0,2999.8 1369.0,2999.7 1371.0,2999.7 1373.0,2999.6 1375.0,2999.5 1377.0,2999.5 1379.0,2999.4 1381.0,2999.3 1383.0,2999.3 1385.0,2999.2 1387.0,2999.1 1389.0,2999.1 1391.0,2999.0 1393.0,2999.0 1395.0,2998.9 1397.0,2998.9 1399.0,2998.8 1401.0,2998.8 1403.0,2998.7 1405.0,2998.7 1407.0,2998.6 1409.0,2998.6 1411.0,2998.5 1413.0,2998.5 1415.0,2998.4 1417.0,2998.4 1419.0,2998.4 1421.0,2998.3 1423.0,2998.3 1425.0,2998.3 1427.0,2998.2 1429.0,2998.2 1431.0,2998.2 1433.0,2998.2 1435.0,2998.1 1437.0,2998.1 1439.0,2998.1 1441.0,2998.1 1443.0,2998.1 1445.0,2998.1 1447.0,2998.1 1449.0,2998.1 1451.0,2998.1 1453.0,2998.1 1455.0,2998.1 1457.0,2998.1 1459.0,2998.1 1461.0,2998.1 1463.0,2998.1 1465.0,2998.1 1467.0,2998.1 1469.0,2998.1 1471.0,2998.1 1473.0,2998.1 1475.0,2998.0 1477.0,2998.0 1479.0,2998.0 1481.0,2998.0 1483.0,2998.0 1485.0,2997.9 1487.0,2997.9 1489.0,2997.9 1491.0,2997.8 1493.0,2997.8 1495.0,2997.7 1497.0,2997.7 1499.0,2997.6 1501.0,2997.5 1503.0,2997.4 1505.0,2997.3 1507.0,2997.2 1509.0,2997.1 1511.0,2997.0 1513.0,2996.8 1515.0,2996.7 1517.0,2996.5 1519.0,2996.3 1521.0,2996.1 1523.0,2995.9 1525.0,2995.7 1527.0,2995.4 1529.0,2995.2 1531.0,2994.9 1533.0,2994.6 1535.0,2994.2 1537.0,2993.9 1539.0,2993.5 1541.0,2993.1 1543.0,2992.6 1545.0,2992.1 1547.0,2991.6 1549.0,2991.1 1551.0,2990.5 1553.0,2989.9 1555.0,2989.3 1557.0,2988.6 1559.0,2987.9 1561.0,2987.2 1563.0,2986.4 1565.0,2985.5 1567.0,2984.7 1569.0,2983.8 1571.0,2982.8 1573.0,2981.8 1575.0,2980.9 1577.0,2979.8 1579.0,2978.8 1581.0,2977.8 1583.0,2976.7 1585.0,2975.7 1587.0,2974.7 1589.0,2973.7 1591.0,2972.7 1593.0,2971.8 1595.0,2970.9 1597.0,2970.0 1599.0,2969.2 1601.0,2968.4 1603.0,2967.7 1605.0,2967.1 1607.0,2966.5 1609.0,2966.0 1611.0,2965.6 1613.0,2965.3 1615.0,2965.1 1617.0,2965.0 1619.0,2965.0 1621.0,2965.1 1623.0,2965.4 1625.0,2965.7 1627.0,2966.2 1629.0,2966.8 1631.0,2967.6 1633.0,2968.5 1635.0,2969.5 1637.0,2970.6 1639.0,2971.8 1641.0,2973.0 1643.0,2974.3 1645.0,2975.7 1647.0,2977.2 1649.0,2978.7 1651.0,2980.2 1653.0,2981.7 1655.0,2983.2 1657.0,2984.8 1659.0,2986.3 1661.0,2987.8 1663.0,2989.3 1665.0,2990.8 1667.0,2992.2 1669.0,2993.5 1671.0,2994.8 1673.0,2996.0 1675.0,2997.2 1677.0,2998.2 1679.0,2999.2 1681.0,3000.0 1683.0,3000.8 1685.0,3001.6 1687.0,3002.3 1689.0,3002.9 1691.0,3003.5 1693.0,3004.0 1695.0,3004.4 1697.0,3004.9 1699.0,3005.2 1701.0,3005.6 1703.0,3005.8 1705.0,3006.1 1707.0,3006.3 1709.0,3006.5 1711.0,3006.6 1713.0,3006.8 1715.0,3006.8 1717.0,3006.9 1719.0,3006.9 1721.0,3007.0 1723.0,3007.0 1725.0,3007.0 1727.0,3006.9 1729.0,3006.9 1731.0,3006.8 1733.0,3006.8 1735.0,3006.7 1737.0,3006.7 1739.0,3006.6 1741.0,3006.5 1743.0,3006.5 1745.0,3006.4 1747.0,3006.4 1749.0,3006.3 1751.0,3006.3 1753.0,3006.3 1755.0,3006.3 1757.0,3006.3 1759.0,3006.3 1761.0,3006.3 1763.0,3006.4 1765.0,3006.4 1767.0,3006.4 1769.0,3006.5 1771.0,3006.5 1773.0,3006.6 1775.0,3006.7 1777.0,3006.7 1779.0,3006.8 1781.0,3006.9 1783.0,3006.9 1785.0,3007.0 1787.0,3007.1 1789.0,3007.2 1791.0,3007.3 1793.0,3007.4 1795.0,3007.4 1797.0,3007.5 1799.0,3007.6 1801.0,3007.7 1803.0,3007.8 1805.0,3007.9 1807.0,3007.9 1809.0,3008.0 1811.0,3008.1 1813.0,3008.1 1815.0,3008.2 1817.0,3008.3 1819.0,3008.3 1821.0,3008.4 1823.0,3008.4 1825.0,3008.5 1827.0,3008.5 1829.0,3008.6 1831.0,3008.6 1833.0,3008.7 1835.0,3008.7 1837.0,3008.7 1839.0,3008.8 1841.0,3008.8 1843.0,3008.8 1845.0,3008.9 1847.0,3008.9 1849.0,3008.9 1851.0,3009.0 1853.0,3009.0 1855.0,3009.0 1857.0,3009.0 1859.0,3009.0 1861.0,3009.0 1863.0,3009.1 1865.0,3009.1 1867.0,3009.1 1869.0,3009.1 1871.0,3009.1 1873.0,3009.1 1875.0,3009.1 1877.0,3009.1 1879.0,3009.1 1881.0,3009.1 1883.0,3009.1 1885.0,3009.1 1887.0,3009.2 1889.0,3009.2 1891.0,3009.2 1893.0,3009.2 1895.0,3009.2 1897.0,3009.2 1899.0,3009.2 1901.0,3009.2 1903.0,3009.2 1905.0,3009.2 1907.0,3009.2 1909.0,3009.2 1911.0,3009.1 1913.0,3009.1 1915.0,3009.1 1917.0,3009.1 1919.0,3009.1 1921.0,3009.1 1923.0,3009.1 1925.0,3009.1 1927.0,3009.1 1929.0,3009.1 1931.0,3009.2 1933.0,3009.2 1935.0,3009.2 1937.0,3009.2 1939.0,3009.2 1941.0,3009.2 1943.0,3009.2 1945.0,3009.2 1947.0,3009.2 1949.0,3009.2 1951.0,3009.2 1953.0,3009.2 1955.0,3009.2 1957.0,3009.2 1959.0,3009.2 1961.0,3009.2 1963.0,3009.2 1965.0,3009.3 1967.0,3009.3 1969.0,3009.3 1971.0,3009.3 1973.0,3009.3 1975.0,3009.3 1977.0,3009.3 1979.0,3009.3 1981.0,3009.3 1983.0,3009.4 1985.0,3009.4 1987.0,3009.4 1989.0,3009.4 1991.0,3009.4 1993.0,3009.4 1995.0,3009.4 1997.0,3009.4 1999.0,3009.5 2001.0,3009.5 2003.0,3009.5 2005.0,3009.5 2007.0,3009.5 2009.0,3009.5 2011.0,3009.5 2013.0,3009.5 2015.0,3009.6 2017.0,3009.6 2019.0,3009.6 2021.0,3009.6 2023.0,3009.6 2025.0,3009.6 2027.0,3009.6 2029.0,3009.6 2031.0,3009.7 2033.0,3009.7 2035.0,3009.7 2037.0,3009.7 2039.0,3009.7 2041.0,3009.7 2043.0,3009.7 2045.0,3009.7 2047.0,3009.8 2049.0,3009.8 2051.0,3009.8 2053.0,3009.8 2055.0,3009.8 2057.0,3009.8 2059.0,3009.8 2061.0,3009.8 2063.0,3009.8 2065.0,3009.8 2067.0,3009.8 2069.0,3009.9 2071.0,3009.9 2073.0,3009.9 2075.0,3009.9 2077.0,3009.9 2079.0,3009.9 2081.0,3009.9 2083.0,3009.9 2085.0,3009.9 2087.0,3009.9 2089.0,3009.9 2091.0,3009.9 2093.0,3009.9 2095.0,3009.9 2097.0,3009.9 2099.0,3009.9 2101.0,3009.9 2103.0,3009.9 2105.0,3009.9 2106.0,3009.9 2114.0,3009.9" stroke="#008000"/>
</g>
<g font-size="75" fill="#000">
<g text-anchor="end">
<text x="255" y="3033.0">0.0</text>
<text x="255" y="2908.8">0.5</text>
<text x="255" y="2784.7">1.0</text>
<text x="255" y="2660.5">1.5</text>
<text x="255" y="2536.3">2.0</text>
<text x="255" y="2412.2">2.5</text>
<text x="255" y="2288.0">3.0</text>
</g><g text-anchor="middle">
<text x="313.0" y="3127.0">300</text>
<text x="492.3" y="3127.0">350</text>
<text x="671.6" y="3127.0">400</text>
<text x="850.9" y="3127.0">450</text>
<text x="1030.2" y="3127.0">500</text>
<text x="1209.5" y="3127.0">550</text>
<text x="1388.8" y="3127.0">600</text>
<text x="1568.1" y="3127.0">650</text>
<text x="1747.4" y="3127.0">700</text>
<text x="1926.7" y="3127.0">750</text>
<text x="2106.0" y="3127.0">800</text>
</g></g>
<g font-weight="bold" fill="#000">
<text x="33" y="2186" font-size="65">(C)</text>
<text x="1208.5" y="3239.5" font-size="58" text-anchor="middle">Wavelength (nm)</text>
<text transform="translate(105,2665.0) rotate(-90)" font-size="58" text-anchor="middle">Absorbance (a.u.)</text>
<g stroke-width="13.5" stroke-linecap="round">
<path d="M1676,2474.6H1788" stroke="#008000"/>
<path d="M1676,2553.8H1788" stroke="#ff8000"/>
<path d="M1676,2633.0H1788" stroke="#ff00ff"/>
<path d="M1676,2712.2H1788" stroke="#0000ff"/>
<path d="M1676,2791.4H1788" stroke="#ff0000"/>
<path d="M1676,2870.6H1788" stroke="#000000"/>
</g>
<g font-size="58">
<text x="1817" y="2491.4">EXT-<tspan font-style="italic">AL</tspan></text>
<text x="1817" y="2570.6">10 <tspan class="mu">μ</tspan>g/mL</text>
<text x="1817" y="2649.8">20 <tspan class="mu">μ</tspan>g/mL</text>
<text x="1817" y="2729.0">50 <tspan class="mu">μ</tspan>g/mL</text>
<text x="1817" y="2808.2">100 <tspan class="mu">μ</tspan>g/mL</text>
<text x="1817" y="2887.4">200 <tspan class="mu">μ</tspan>g/mL</text>
</g></g>
</g>
</svg></body></html>
